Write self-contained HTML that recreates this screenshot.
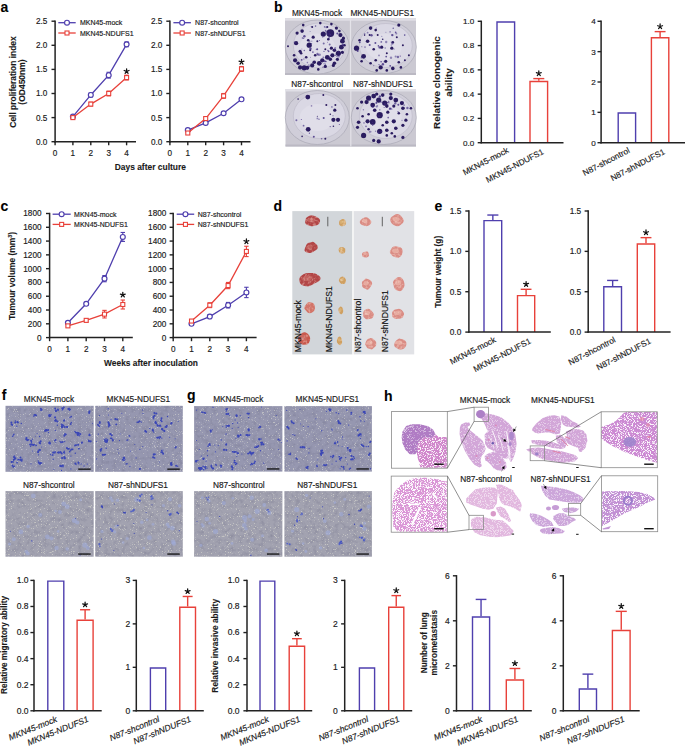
<!DOCTYPE html>
<html><head><meta charset="utf-8"><style>
html,body{margin:0;padding:0;background:#fff;width:685px;height:751px;overflow:hidden;}
svg{display:block;font-family:"Liberation Sans", sans-serif;}
text{stroke:#1a1a1a;stroke-width:0.16px;}
text[font-weight="bold"]{stroke-width:0.1px;}
</style></head><body>
<svg width="685" height="751" viewBox="0 0 685 751" font-family='"Liberation Sans", sans-serif'>
<rect width="685" height="751" fill="white"/>
<text x="0.6" y="11.8" font-size="14" text-anchor="start" font-weight="bold" fill="#000">a</text>
<line x1="55.1" y1="20.5" x2="55.1" y2="142.4" stroke="#222" stroke-width="1.5"/>
<line x1="51.5" y1="141.7" x2="55.1" y2="141.7" stroke="#222" stroke-width="1.4"/>
<text x="47.3" y="144.6" font-size="8.2" text-anchor="end" fill="#1a1a1a">0.0</text>
<line x1="51.5" y1="117.6" x2="55.1" y2="117.6" stroke="#222" stroke-width="1.4"/>
<text x="47.3" y="120.5" font-size="8.2" text-anchor="end" fill="#1a1a1a">0.5</text>
<line x1="51.5" y1="93.5" x2="55.1" y2="93.5" stroke="#222" stroke-width="1.4"/>
<text x="47.3" y="96.4" font-size="8.2" text-anchor="end" fill="#1a1a1a">1.0</text>
<line x1="51.5" y1="69.4" x2="55.1" y2="69.4" stroke="#222" stroke-width="1.4"/>
<text x="47.3" y="72.3" font-size="8.2" text-anchor="end" fill="#1a1a1a">1.5</text>
<line x1="51.5" y1="45.3" x2="55.1" y2="45.3" stroke="#222" stroke-width="1.4"/>
<text x="47.3" y="48.2" font-size="8.2" text-anchor="end" fill="#1a1a1a">2.0</text>
<line x1="51.5" y1="21.2" x2="55.1" y2="21.2" stroke="#222" stroke-width="1.4"/>
<text x="47.3" y="24.1" font-size="8.2" text-anchor="end" fill="#1a1a1a">2.5</text>
<line x1="54.4" y1="141.7" x2="136" y2="141.7" stroke="#222" stroke-width="1.5"/>
<line x1="55.1" y1="141.7" x2="55.1" y2="145.3" stroke="#222" stroke-width="1.4"/>
<text x="55.1" y="156.2" font-size="8.2" text-anchor="middle" fill="#1a1a1a">0</text>
<line x1="72.9" y1="141.7" x2="72.9" y2="145.3" stroke="#222" stroke-width="1.4"/>
<text x="72.9" y="156.2" font-size="8.2" text-anchor="middle" fill="#1a1a1a">1</text>
<line x1="90.8" y1="141.7" x2="90.8" y2="145.3" stroke="#222" stroke-width="1.4"/>
<text x="90.8" y="156.2" font-size="8.2" text-anchor="middle" fill="#1a1a1a">2</text>
<line x1="108.7" y1="141.7" x2="108.7" y2="145.3" stroke="#222" stroke-width="1.4"/>
<text x="108.7" y="156.2" font-size="8.2" text-anchor="middle" fill="#1a1a1a">3</text>
<line x1="126.6" y1="141.7" x2="126.6" y2="145.3" stroke="#222" stroke-width="1.4"/>
<text x="126.6" y="156.2" font-size="8.2" text-anchor="middle" fill="#1a1a1a">4</text>
<polyline points="72.9,116.64 90.8,94.95 108.7,75.18 126.6,44.34" fill="none" stroke="#4f3fae" stroke-width="1.3"/>
<line x1="72.9" y1="117.6" x2="72.9" y2="115.67" stroke="#4f3fae" stroke-width="1.1"/>
<line x1="70.7" y1="115.67" x2="75.1" y2="115.67" stroke="#4f3fae" stroke-width="1.1"/>
<line x1="70.7" y1="117.6" x2="75.1" y2="117.6" stroke="#4f3fae" stroke-width="1.1"/>
<line x1="90.8" y1="96.87" x2="90.8" y2="93.02" stroke="#4f3fae" stroke-width="1.1"/>
<line x1="88.6" y1="93.02" x2="93" y2="93.02" stroke="#4f3fae" stroke-width="1.1"/>
<line x1="88.6" y1="96.87" x2="93" y2="96.87" stroke="#4f3fae" stroke-width="1.1"/>
<line x1="108.7" y1="78.08" x2="108.7" y2="72.29" stroke="#4f3fae" stroke-width="1.1"/>
<line x1="106.5" y1="72.29" x2="110.9" y2="72.29" stroke="#4f3fae" stroke-width="1.1"/>
<line x1="106.5" y1="78.08" x2="110.9" y2="78.08" stroke="#4f3fae" stroke-width="1.1"/>
<line x1="126.6" y1="46.75" x2="126.6" y2="41.93" stroke="#4f3fae" stroke-width="1.1"/>
<line x1="124.4" y1="41.93" x2="128.8" y2="41.93" stroke="#4f3fae" stroke-width="1.1"/>
<line x1="124.4" y1="46.75" x2="128.8" y2="46.75" stroke="#4f3fae" stroke-width="1.1"/>
<circle cx="72.9" cy="116.64" r="2.45" fill="white" stroke="#4f3fae" stroke-width="1.2"/>
<circle cx="90.8" cy="94.95" r="2.45" fill="white" stroke="#4f3fae" stroke-width="1.2"/>
<circle cx="108.7" cy="75.18" r="2.45" fill="white" stroke="#4f3fae" stroke-width="1.2"/>
<circle cx="126.6" cy="44.34" r="2.45" fill="white" stroke="#4f3fae" stroke-width="1.2"/>
<polyline points="72.9,117.6 90.8,104.1 108.7,93.5 126.6,77.59" fill="none" stroke="#e8413a" stroke-width="1.3"/>
<line x1="72.9" y1="118.56" x2="72.9" y2="116.64" stroke="#e8413a" stroke-width="1.1"/>
<line x1="70.7" y1="116.64" x2="75.1" y2="116.64" stroke="#e8413a" stroke-width="1.1"/>
<line x1="70.7" y1="118.56" x2="75.1" y2="118.56" stroke="#e8413a" stroke-width="1.1"/>
<line x1="90.8" y1="106.03" x2="90.8" y2="102.18" stroke="#e8413a" stroke-width="1.1"/>
<line x1="88.6" y1="102.18" x2="93" y2="102.18" stroke="#e8413a" stroke-width="1.1"/>
<line x1="88.6" y1="106.03" x2="93" y2="106.03" stroke="#e8413a" stroke-width="1.1"/>
<line x1="108.7" y1="95.91" x2="108.7" y2="91.09" stroke="#e8413a" stroke-width="1.1"/>
<line x1="106.5" y1="91.09" x2="110.9" y2="91.09" stroke="#e8413a" stroke-width="1.1"/>
<line x1="106.5" y1="95.91" x2="110.9" y2="95.91" stroke="#e8413a" stroke-width="1.1"/>
<line x1="126.6" y1="80" x2="126.6" y2="75.18" stroke="#e8413a" stroke-width="1.1"/>
<line x1="124.4" y1="75.18" x2="128.8" y2="75.18" stroke="#e8413a" stroke-width="1.1"/>
<line x1="124.4" y1="80" x2="128.8" y2="80" stroke="#e8413a" stroke-width="1.1"/>
<rect x="70.9" y="115.6" width="4" height="4" fill="white" stroke="#e8413a" stroke-width="1.1"/>
<rect x="88.8" y="102.1" width="4" height="4" fill="white" stroke="#e8413a" stroke-width="1.1"/>
<rect x="106.7" y="91.5" width="4" height="4" fill="white" stroke="#e8413a" stroke-width="1.1"/>
<rect x="124.6" y="75.59" width="4" height="4" fill="white" stroke="#e8413a" stroke-width="1.1"/>
<line x1="58.3" y1="22.7" x2="75.7" y2="22.7" stroke="#4f3fae" stroke-width="1.3"/>
<circle cx="67" cy="22.7" r="2.45" fill="white" stroke="#4f3fae" stroke-width="1.2"/>
<text x="79.9" y="25.3" font-size="7" text-anchor="start" fill="#1a1a1a">MKN45-mock</text>
<line x1="58.3" y1="33" x2="75.7" y2="33" stroke="#e8413a" stroke-width="1.3"/>
<rect x="65" y="31" width="4" height="4" fill="white" stroke="#e8413a" stroke-width="1.1"/>
<text x="79.9" y="35.6" font-size="7" text-anchor="start" fill="#1a1a1a">MKN45-NDUFS1</text>
<path d="M126.6 71.3L126.6 68.75M126.6 71.3L129.03 70.51M126.6 71.3L128.1 73.36M126.6 71.3L125.1 73.36M126.6 71.3L124.17 70.51" stroke="#111" stroke-width="1.25" stroke-linecap="round" fill="none"/>
<line x1="169.9" y1="20.5" x2="169.9" y2="142.4" stroke="#222" stroke-width="1.5"/>
<line x1="166.3" y1="141.7" x2="169.9" y2="141.7" stroke="#222" stroke-width="1.4"/>
<text x="162.3" y="144.6" font-size="8.2" text-anchor="end" fill="#1a1a1a">0.0</text>
<line x1="166.3" y1="117.6" x2="169.9" y2="117.6" stroke="#222" stroke-width="1.4"/>
<text x="162.3" y="120.5" font-size="8.2" text-anchor="end" fill="#1a1a1a">0.5</text>
<line x1="166.3" y1="93.5" x2="169.9" y2="93.5" stroke="#222" stroke-width="1.4"/>
<text x="162.3" y="96.4" font-size="8.2" text-anchor="end" fill="#1a1a1a">1.0</text>
<line x1="166.3" y1="69.4" x2="169.9" y2="69.4" stroke="#222" stroke-width="1.4"/>
<text x="162.3" y="72.3" font-size="8.2" text-anchor="end" fill="#1a1a1a">1.5</text>
<line x1="166.3" y1="45.3" x2="169.9" y2="45.3" stroke="#222" stroke-width="1.4"/>
<text x="162.3" y="48.2" font-size="8.2" text-anchor="end" fill="#1a1a1a">2.0</text>
<line x1="166.3" y1="21.2" x2="169.9" y2="21.2" stroke="#222" stroke-width="1.4"/>
<text x="162.3" y="24.1" font-size="8.2" text-anchor="end" fill="#1a1a1a">2.5</text>
<line x1="169.2" y1="141.7" x2="250.5" y2="141.7" stroke="#222" stroke-width="1.5"/>
<line x1="169.9" y1="141.7" x2="169.9" y2="145.3" stroke="#222" stroke-width="1.4"/>
<text x="169.9" y="156.2" font-size="8.2" text-anchor="middle" fill="#1a1a1a">0</text>
<line x1="187.8" y1="141.7" x2="187.8" y2="145.3" stroke="#222" stroke-width="1.4"/>
<text x="187.8" y="156.2" font-size="8.2" text-anchor="middle" fill="#1a1a1a">1</text>
<line x1="205.7" y1="141.7" x2="205.7" y2="145.3" stroke="#222" stroke-width="1.4"/>
<text x="205.7" y="156.2" font-size="8.2" text-anchor="middle" fill="#1a1a1a">2</text>
<line x1="223.6" y1="141.7" x2="223.6" y2="145.3" stroke="#222" stroke-width="1.4"/>
<text x="223.6" y="156.2" font-size="8.2" text-anchor="middle" fill="#1a1a1a">3</text>
<line x1="241.5" y1="141.7" x2="241.5" y2="145.3" stroke="#222" stroke-width="1.4"/>
<text x="241.5" y="156.2" font-size="8.2" text-anchor="middle" fill="#1a1a1a">4</text>
<polyline points="187.8,130.13 205.7,122.9 223.6,113.26 241.5,99.28" fill="none" stroke="#4f3fae" stroke-width="1.3"/>
<line x1="187.8" y1="131.1" x2="187.8" y2="129.17" stroke="#4f3fae" stroke-width="1.1"/>
<line x1="185.6" y1="129.17" x2="190" y2="129.17" stroke="#4f3fae" stroke-width="1.1"/>
<line x1="185.6" y1="131.1" x2="190" y2="131.1" stroke="#4f3fae" stroke-width="1.1"/>
<line x1="205.7" y1="123.87" x2="205.7" y2="121.94" stroke="#4f3fae" stroke-width="1.1"/>
<line x1="203.5" y1="121.94" x2="207.9" y2="121.94" stroke="#4f3fae" stroke-width="1.1"/>
<line x1="203.5" y1="123.87" x2="207.9" y2="123.87" stroke="#4f3fae" stroke-width="1.1"/>
<line x1="223.6" y1="114.23" x2="223.6" y2="112.3" stroke="#4f3fae" stroke-width="1.1"/>
<line x1="221.4" y1="112.3" x2="225.8" y2="112.3" stroke="#4f3fae" stroke-width="1.1"/>
<line x1="221.4" y1="114.23" x2="225.8" y2="114.23" stroke="#4f3fae" stroke-width="1.1"/>
<line x1="241.5" y1="100.25" x2="241.5" y2="98.32" stroke="#4f3fae" stroke-width="1.1"/>
<line x1="239.3" y1="98.32" x2="243.7" y2="98.32" stroke="#4f3fae" stroke-width="1.1"/>
<line x1="239.3" y1="100.25" x2="243.7" y2="100.25" stroke="#4f3fae" stroke-width="1.1"/>
<circle cx="187.8" cy="130.13" r="2.45" fill="white" stroke="#4f3fae" stroke-width="1.2"/>
<circle cx="205.7" cy="122.9" r="2.45" fill="white" stroke="#4f3fae" stroke-width="1.2"/>
<circle cx="223.6" cy="113.26" r="2.45" fill="white" stroke="#4f3fae" stroke-width="1.2"/>
<circle cx="241.5" cy="99.28" r="2.45" fill="white" stroke="#4f3fae" stroke-width="1.2"/>
<polyline points="187.8,133.02 205.7,118.56 223.6,95.91 241.5,68.92" fill="none" stroke="#e8413a" stroke-width="1.3"/>
<line x1="187.8" y1="133.99" x2="187.8" y2="132.06" stroke="#e8413a" stroke-width="1.1"/>
<line x1="185.6" y1="132.06" x2="190" y2="132.06" stroke="#e8413a" stroke-width="1.1"/>
<line x1="185.6" y1="133.99" x2="190" y2="133.99" stroke="#e8413a" stroke-width="1.1"/>
<line x1="205.7" y1="120.01" x2="205.7" y2="117.12" stroke="#e8413a" stroke-width="1.1"/>
<line x1="203.5" y1="117.12" x2="207.9" y2="117.12" stroke="#e8413a" stroke-width="1.1"/>
<line x1="203.5" y1="120.01" x2="207.9" y2="120.01" stroke="#e8413a" stroke-width="1.1"/>
<line x1="223.6" y1="98.32" x2="223.6" y2="93.5" stroke="#e8413a" stroke-width="1.1"/>
<line x1="221.4" y1="93.5" x2="225.8" y2="93.5" stroke="#e8413a" stroke-width="1.1"/>
<line x1="221.4" y1="98.32" x2="225.8" y2="98.32" stroke="#e8413a" stroke-width="1.1"/>
<line x1="241.5" y1="71.33" x2="241.5" y2="66.51" stroke="#e8413a" stroke-width="1.1"/>
<line x1="239.3" y1="66.51" x2="243.7" y2="66.51" stroke="#e8413a" stroke-width="1.1"/>
<line x1="239.3" y1="71.33" x2="243.7" y2="71.33" stroke="#e8413a" stroke-width="1.1"/>
<rect x="185.8" y="131.02" width="4" height="4" fill="white" stroke="#e8413a" stroke-width="1.1"/>
<rect x="203.7" y="116.56" width="4" height="4" fill="white" stroke="#e8413a" stroke-width="1.1"/>
<rect x="221.6" y="93.91" width="4" height="4" fill="white" stroke="#e8413a" stroke-width="1.1"/>
<rect x="239.5" y="66.92" width="4" height="4" fill="white" stroke="#e8413a" stroke-width="1.1"/>
<line x1="173.4" y1="22.7" x2="190.9" y2="22.7" stroke="#4f3fae" stroke-width="1.3"/>
<circle cx="182.15" cy="22.7" r="2.45" fill="white" stroke="#4f3fae" stroke-width="1.2"/>
<text x="195.1" y="25.3" font-size="7" text-anchor="start" fill="#1a1a1a">N87-shcontrol</text>
<line x1="173.4" y1="33" x2="190.9" y2="33" stroke="#e8413a" stroke-width="1.3"/>
<rect x="180.15" y="31" width="4" height="4" fill="white" stroke="#e8413a" stroke-width="1.1"/>
<text x="195.1" y="35.6" font-size="7" text-anchor="start" fill="#1a1a1a">N87-shNDUFS1</text>
<path d="M241.5 62L241.5 59.45M241.5 62L243.93 61.21M241.5 62L243 64.06M241.5 62L240 64.06M241.5 62L239.07 61.21" stroke="#111" stroke-width="1.25" stroke-linecap="round" fill="none"/>
<text x="15.9" y="82" font-size="8.45" text-anchor="middle" font-weight="bold" fill="#1a1a1a" transform="rotate(-90 15.9 82)">Cell proliferation index</text>
<text x="25.4" y="82" font-size="8.5" text-anchor="middle" font-weight="bold" fill="#1a1a1a" transform="rotate(-90 25.4 82)">(OD450nm)</text>
<text x="150.3" y="169.5" font-size="8.45" text-anchor="middle" font-weight="bold" fill="#1a1a1a">Days after culture</text>
<text x="273.9" y="11.8" font-size="14" text-anchor="start" font-weight="bold" fill="#000">b</text>
<defs><filter id="soft" x="-5%" y="-5%" width="110%" height="110%"><feGaussianBlur stdDeviation="0.45"/></filter></defs><rect x="285" y="18.2" width="131" height="56.8" fill="#cbc9d2"/><rect x="285" y="18.2" width="131" height="2.5" fill="#e0dfe6"/><rect x="285" y="73" width="131" height="2" fill="#bbb9c3"/><line x1="350.5" y1="18.2" x2="350.5" y2="75" stroke="#e4e3e9" stroke-width="1.2"/><ellipse cx="317.3" cy="47" rx="32" ry="27" fill="#d0ced9" stroke="#a9a7b4" stroke-width="0.7"/><ellipse cx="319.3" cy="45.5" rx="26" ry="22.5" fill="#dad8e4" stroke="#bcb9c7" stroke-width="0.6"/><ellipse cx="317.3" cy="47" rx="17.6" ry="13.5" fill="#e0dee9"/><g filter="url(#soft)"><circle cx="330.3" cy="33.1" r="3.9" fill="#2c1d60"/><circle cx="323.3" cy="34.1" r="2.6" fill="#2c1d60"/><circle cx="309.2" cy="45.2" r="2.6" fill="#2c1d60"/><circle cx="296.1" cy="43.2" r="2.1" fill="#2c1d60"/><circle cx="302.1" cy="31.1" r="1.8" fill="#2c1d60"/><circle cx="297.1" cy="33.1" r="1.6" fill="#2c1d60"/><circle cx="303.2" cy="25.1" r="1.3" fill="#2c1d60"/><circle cx="320.3" cy="23.1" r="1.3" fill="#2c1d60"/><circle cx="336.4" cy="28.1" r="1.6" fill="#2c1d60"/><circle cx="340.4" cy="35.1" r="2.1" fill="#2c1d60"/><circle cx="342.4" cy="41.2" r="2.4" fill="#2c1d60"/><circle cx="341.4" cy="47.2" r="2.4" fill="#2c1d60"/><circle cx="338.4" cy="53.3" r="2.6" fill="#2c1d60"/><circle cx="332.4" cy="55.3" r="2.1" fill="#2c1d60"/><circle cx="327.3" cy="57.3" r="2.4" fill="#2c1d60"/><circle cx="322.3" cy="60.3" r="2.1" fill="#2c1d60"/><circle cx="319.3" cy="63.3" r="2.4" fill="#2c1d60"/><circle cx="314.2" cy="62.3" r="1.8" fill="#2c1d60"/><circle cx="312.2" cy="65.4" r="2.1" fill="#2c1d60"/><circle cx="304.2" cy="67.8" r="2.6" fill="#2c1d60"/><circle cx="300.1" cy="67.4" r="2.1" fill="#2c1d60"/><circle cx="307.2" cy="67.8" r="2.1" fill="#2c1d60"/><circle cx="295.1" cy="60.3" r="2.1" fill="#2c1d60"/><circle cx="298.1" cy="63.3" r="1.8" fill="#2c1d60"/><circle cx="300.1" cy="51.3" r="1.6" fill="#2c1d60"/><circle cx="301.1" cy="53.3" r="1.3" fill="#2c1d60"/><circle cx="308.2" cy="40.2" r="1.3" fill="#2c1d60"/><circle cx="313.2" cy="37.2" r="1.6" fill="#2c1d60"/><circle cx="317.3" cy="41.2" r="1" fill="#2c1d60"/><circle cx="330.3" cy="59.3" r="1.8" fill="#2c1d60"/><circle cx="334.4" cy="63.3" r="1.8" fill="#2c1d60"/><circle cx="337.4" cy="59.3" r="1.6" fill="#2c1d60"/><circle cx="333.4" cy="65.4" r="1.6" fill="#2c1d60"/><circle cx="325.3" cy="49.2" r="1" fill="#2c1d60"/><circle cx="288" cy="46.2" r="1" fill="#2c1d60"/><circle cx="344.4" cy="45.2" r="1.3" fill="#2c1d60"/><circle cx="343.4" cy="38.2" r="1.6" fill="#2c1d60"/><circle cx="339.4" cy="31.1" r="1.3" fill="#2c1d60"/><circle cx="328.3" cy="39.2" r="1.3" fill="#2c1d60"/><circle cx="315.2" cy="55.3" r="1.3" fill="#2c1d60"/><circle cx="306.2" cy="57.3" r="1.3" fill="#2c1d60"/><circle cx="310.2" cy="50.3" r="1" fill="#2c1d60"/><circle cx="331.4" cy="48.2" r="1.6" fill="#2c1d60"/><circle cx="334.4" cy="50.3" r="1.8" fill="#2c1d60"/><circle cx="342.4" cy="52.3" r="1.6" fill="#2c1d60"/><circle cx="325.3" cy="66.4" r="1.6" fill="#2c1d60"/><circle cx="318.3" cy="69.4" r="1.3" fill="#2c1d60"/><circle cx="294.1" cy="55.3" r="1.3" fill="#2c1d60"/><circle cx="312.2" cy="27.1" r="1" fill="#2c1d60"/><circle cx="331.4" cy="24.1" r="1.3" fill="#2c1d60"/><circle cx="327.3" cy="27.1" r="1" fill="#2c1d60"/><circle cx="324.8" cy="61.2" r="1" fill="#3e2c80" fill-opacity="0.8"/><circle cx="319.4" cy="40.6" r="0.5" fill="#3e2c80" fill-opacity="0.8"/><circle cx="325.3" cy="30.3" r="0.5" fill="#3e2c80" fill-opacity="0.8"/><circle cx="342.8" cy="44.6" r="1" fill="#3e2c80" fill-opacity="0.8"/><circle cx="309.6" cy="41.3" r="0.9" fill="#3e2c80" fill-opacity="0.5"/><circle cx="327.9" cy="50.4" r="0.6" fill="#3e2c80" fill-opacity="0.8"/><circle cx="334.8" cy="49.8" r="0.8" fill="#3e2c80" fill-opacity="0.8"/><circle cx="327.6" cy="34" r="1" fill="#3e2c80" fill-opacity="0.65"/><circle cx="329.1" cy="31.7" r="0.7" fill="#3e2c80" fill-opacity="0.5"/><circle cx="324" cy="51.4" r="0.7" fill="#3e2c80" fill-opacity="0.65"/><circle cx="323" cy="67.3" r="0.5" fill="#3e2c80" fill-opacity="0.65"/><circle cx="301.7" cy="59.8" r="0.9" fill="#3e2c80" fill-opacity="0.8"/><circle cx="324.1" cy="63.8" r="0.7" fill="#3e2c80" fill-opacity="0.5"/><circle cx="316.1" cy="49.5" r="0.5" fill="#3e2c80" fill-opacity="0.5"/><circle cx="317.5" cy="53.9" r="1.2" fill="#3e2c80" fill-opacity="0.65"/><circle cx="325.9" cy="61.5" r="0.8" fill="#3e2c80" fill-opacity="0.8"/><circle cx="325.4" cy="64.2" r="0.6" fill="#3e2c80" fill-opacity="0.65"/><circle cx="311.8" cy="41.2" r="0.6" fill="#3e2c80" fill-opacity="0.5"/><circle cx="309.1" cy="66.2" r="0.8" fill="#3e2c80" fill-opacity="0.8"/><circle cx="310.5" cy="57.3" r="0.5" fill="#3e2c80" fill-opacity="0.5"/><circle cx="322.7" cy="37.2" r="0.6" fill="#3e2c80" fill-opacity="0.5"/><circle cx="315.6" cy="26.1" r="0.8" fill="#3e2c80" fill-opacity="0.65"/><circle cx="303.8" cy="38.5" r="0.5" fill="#3e2c80" fill-opacity="0.8"/><circle cx="329.7" cy="44.5" r="1" fill="#3e2c80" fill-opacity="0.65"/><circle cx="328.6" cy="51.3" r="0.9" fill="#3e2c80" fill-opacity="0.8"/><circle cx="329.6" cy="33.5" r="0.7" fill="#3e2c80" fill-opacity="0.5"/><circle cx="327.5" cy="42.2" r="0.5" fill="#3e2c80" fill-opacity="0.5"/><circle cx="315.2" cy="61.3" r="0.6" fill="#3e2c80" fill-opacity="0.65"/><circle cx="303.9" cy="59" r="0.7" fill="#3e2c80" fill-opacity="0.5"/><circle cx="337.3" cy="33.5" r="1" fill="#3e2c80" fill-opacity="0.8"/><circle cx="310.1" cy="31.6" r="0.5" fill="#3e2c80" fill-opacity="0.5"/><circle cx="301.9" cy="49" r="0.5" fill="#3e2c80" fill-opacity="0.5"/><circle cx="311.5" cy="43.6" r="0.7" fill="#3e2c80" fill-opacity="0.65"/><circle cx="338.6" cy="56.4" r="1.2" fill="#3e2c80" fill-opacity="0.5"/><circle cx="330.2" cy="34.6" r="0.9" fill="#3e2c80" fill-opacity="0.8"/><circle cx="335.6" cy="55.3" r="0.7" fill="#3e2c80" fill-opacity="0.65"/><circle cx="336.8" cy="56.4" r="0.5" fill="#3e2c80" fill-opacity="0.65"/><circle cx="302.7" cy="38.1" r="1" fill="#3e2c80" fill-opacity="0.5"/><circle cx="317.2" cy="49.3" r="1" fill="#3e2c80" fill-opacity="0.8"/><circle cx="307.4" cy="62.6" r="0.8" fill="#3e2c80" fill-opacity="0.5"/><circle cx="329.1" cy="37.8" r="0.9" fill="#3e2c80" fill-opacity="0.65"/><circle cx="319.7" cy="54.7" r="1.2" fill="#3e2c80" fill-opacity="0.5"/><circle cx="311.2" cy="26.6" r="0.6" fill="#3e2c80" fill-opacity="0.5"/><circle cx="304.3" cy="50.5" r="0.8" fill="#3e2c80" fill-opacity="0.65"/><circle cx="304.4" cy="36.2" r="1.2" fill="#3e2c80" fill-opacity="0.8"/><circle cx="310.5" cy="48.7" r="1.2" fill="#3e2c80" fill-opacity="0.8"/><circle cx="338.5" cy="51.7" r="0.9" fill="#3e2c80" fill-opacity="0.65"/><circle cx="308.9" cy="64.9" r="0.6" fill="#3e2c80" fill-opacity="0.65"/><circle cx="318.1" cy="55.1" r="1" fill="#3e2c80" fill-opacity="0.5"/><circle cx="326.3" cy="27.2" r="1" fill="#3e2c80" fill-opacity="0.5"/><circle cx="322.9" cy="61.1" r="0.6" fill="#3e2c80" fill-opacity="0.8"/><circle cx="335.2" cy="48" r="1" fill="#3e2c80" fill-opacity="0.5"/><circle cx="323.2" cy="57.2" r="0.7" fill="#3e2c80" fill-opacity="0.8"/><circle cx="323.7" cy="43.5" r="1" fill="#3e2c80" fill-opacity="0.65"/><circle cx="329.3" cy="57.6" r="1" fill="#3e2c80" fill-opacity="0.5"/><circle cx="324.6" cy="26.9" r="0.8" fill="#3e2c80" fill-opacity="0.65"/><circle cx="326" cy="31.3" r="1" fill="#3e2c80" fill-opacity="0.5"/><circle cx="323" cy="66.9" r="0.5" fill="#3e2c80" fill-opacity="0.65"/><circle cx="294.7" cy="42.6" r="1" fill="#3e2c80" fill-opacity="0.5"/><circle cx="312.9" cy="52.1" r="0.9" fill="#3e2c80" fill-opacity="0.65"/></g><ellipse cx="383.8" cy="47" rx="32.5" ry="26.5" fill="#d0ced9" stroke="#a9a7b4" stroke-width="0.7"/><ellipse cx="385.8" cy="45.5" rx="26.5" ry="22" fill="#dad8e4" stroke="#bcb9c7" stroke-width="0.6"/><ellipse cx="383.8" cy="47" rx="17.9" ry="13.2" fill="#e0dee9"/><g filter="url(#soft)"><circle cx="370.6" cy="28.1" r="1.8" fill="#2c1d60"/><circle cx="375.7" cy="30.1" r="1.3" fill="#2c1d60"/><circle cx="398.8" cy="25.1" r="1.6" fill="#2c1d60"/><circle cx="356.5" cy="48.2" r="2.6" fill="#2c1d60"/><circle cx="363.6" cy="56.3" r="2.4" fill="#2c1d60"/><circle cx="367.6" cy="41.2" r="1.8" fill="#2c1d60"/><circle cx="381.7" cy="47.2" r="1.6" fill="#2c1d60"/><circle cx="391.8" cy="48.2" r="1.6" fill="#2c1d60"/><circle cx="392.8" cy="42.2" r="1.3" fill="#2c1d60"/><circle cx="359.6" cy="40.2" r="1.3" fill="#2c1d60"/><circle cx="380.7" cy="67.4" r="2.1" fill="#2c1d60"/><circle cx="392.8" cy="68.4" r="1.8" fill="#2c1d60"/><circle cx="385.7" cy="61.3" r="1.6" fill="#2c1d60"/><circle cx="375.7" cy="60.3" r="1.3" fill="#2c1d60"/><circle cx="398.8" cy="62.3" r="1.3" fill="#2c1d60"/><circle cx="404.9" cy="60.3" r="1" fill="#2c1d60"/><circle cx="370.6" cy="63.3" r="1.3" fill="#2c1d60"/><circle cx="386.8" cy="53.3" r="1" fill="#2c1d60"/><circle cx="377.7" cy="35.1" r="1" fill="#2c1d60"/><circle cx="369.6" cy="35.1" r="1" fill="#2c1d60"/><circle cx="364.6" cy="35.1" r="0.8" fill="#2c1d60"/><circle cx="373.7" cy="49.2" r="1.3" fill="#2c1d60"/><circle cx="402.9" cy="45.2" r="1" fill="#2c1d60"/><circle cx="361.6" cy="61.3" r="1.3" fill="#2c1d60"/><circle cx="386.8" cy="70.4" r="1.3" fill="#2c1d60"/><circle cx="376.7" cy="70.4" r="1.3" fill="#2c1d60"/><circle cx="400.9" cy="67.4" r="1.3" fill="#2c1d60"/><circle cx="396.8" cy="37.2" r="1" fill="#2c1d60"/><circle cx="382.7" cy="39.2" r="0.8" fill="#2c1d60"/><circle cx="408.9" cy="55.3" r="1" fill="#2c1d60"/><circle cx="385.9" cy="32.3" r="0.5" fill="#3e2c80" fill-opacity="0.5"/><circle cx="386.2" cy="42" r="1.2" fill="#3e2c80" fill-opacity="0.5"/><circle cx="391" cy="57.8" r="1.2" fill="#3e2c80" fill-opacity="0.5"/><circle cx="357.7" cy="50.9" r="1" fill="#3e2c80" fill-opacity="0.8"/><circle cx="395.6" cy="32.2" r="0.8" fill="#3e2c80" fill-opacity="0.8"/><circle cx="391.2" cy="45.1" r="0.6" fill="#3e2c80" fill-opacity="0.65"/><circle cx="369.7" cy="45.1" r="1" fill="#3e2c80" fill-opacity="0.8"/><circle cx="371.5" cy="35.3" r="1.2" fill="#3e2c80" fill-opacity="0.8"/><circle cx="382.9" cy="64.3" r="1.2" fill="#3e2c80" fill-opacity="0.8"/><circle cx="390.2" cy="65.8" r="0.9" fill="#3e2c80" fill-opacity="0.8"/><circle cx="381.1" cy="61.8" r="0.8" fill="#3e2c80" fill-opacity="0.8"/><circle cx="385.2" cy="48" r="0.8" fill="#3e2c80" fill-opacity="0.5"/><circle cx="378.4" cy="45.9" r="0.8" fill="#3e2c80" fill-opacity="0.8"/><circle cx="390.1" cy="31.9" r="0.8" fill="#3e2c80" fill-opacity="0.5"/><circle cx="381.3" cy="41.9" r="0.9" fill="#3e2c80" fill-opacity="0.65"/><circle cx="361.5" cy="57.7" r="0.8" fill="#3e2c80" fill-opacity="0.65"/><circle cx="384.2" cy="61.8" r="0.7" fill="#3e2c80" fill-opacity="0.65"/><circle cx="404.7" cy="35.1" r="0.8" fill="#3e2c80" fill-opacity="0.8"/><circle cx="379" cy="55.4" r="0.9" fill="#3e2c80" fill-opacity="0.5"/><circle cx="392.3" cy="43.6" r="1.2" fill="#3e2c80" fill-opacity="0.5"/><circle cx="394" cy="48.9" r="0.5" fill="#3e2c80" fill-opacity="0.8"/><circle cx="379" cy="64.6" r="0.6" fill="#3e2c80" fill-opacity="0.8"/><circle cx="365" cy="47.1" r="0.9" fill="#3e2c80" fill-opacity="0.5"/><circle cx="396.3" cy="33.6" r="1" fill="#3e2c80" fill-opacity="0.5"/><circle cx="376.3" cy="28.1" r="0.5" fill="#3e2c80" fill-opacity="0.65"/><circle cx="367.6" cy="32.7" r="0.9" fill="#3e2c80" fill-opacity="0.5"/><circle cx="359.8" cy="42.3" r="0.9" fill="#3e2c80" fill-opacity="0.8"/><circle cx="386.2" cy="56.6" r="0.9" fill="#3e2c80" fill-opacity="0.8"/><circle cx="375.4" cy="43" r="1" fill="#3e2c80" fill-opacity="0.8"/><circle cx="393.2" cy="28.3" r="0.7" fill="#3e2c80" fill-opacity="0.8"/><circle cx="373.7" cy="65.6" r="0.6" fill="#3e2c80" fill-opacity="0.5"/><circle cx="391.2" cy="42" r="0.6" fill="#3e2c80" fill-opacity="0.5"/><circle cx="381.8" cy="36.3" r="0.5" fill="#3e2c80" fill-opacity="0.65"/><circle cx="392.3" cy="35.1" r="1.2" fill="#3e2c80" fill-opacity="0.8"/><circle cx="395.6" cy="56.6" r="1" fill="#3e2c80" fill-opacity="0.5"/><circle cx="400.3" cy="56.1" r="0.7" fill="#3e2c80" fill-opacity="0.65"/><circle cx="397.9" cy="57" r="1.2" fill="#3e2c80" fill-opacity="0.65"/><circle cx="361.8" cy="46.7" r="0.6" fill="#3e2c80" fill-opacity="0.5"/><circle cx="379.7" cy="47.4" r="1.2" fill="#3e2c80" fill-opacity="0.8"/><circle cx="364.7" cy="33.8" r="0.8" fill="#3e2c80" fill-opacity="0.5"/></g><rect x="285.5" y="89" width="130.5" height="57.5" fill="#cbc9d2"/><rect x="285.5" y="89" width="130.5" height="2.5" fill="#e0dfe6"/><rect x="285.5" y="144.5" width="130.5" height="2" fill="#bbb9c3"/><line x1="350.8" y1="89" x2="350.8" y2="146.5" stroke="#e4e3e9" stroke-width="1.2"/><ellipse cx="317.3" cy="117.5" rx="32" ry="27" fill="#d0ced9" stroke="#a9a7b4" stroke-width="0.7"/><ellipse cx="319.3" cy="116" rx="26" ry="22.5" fill="#dad8e4" stroke="#bcb9c7" stroke-width="0.6"/><ellipse cx="317.3" cy="117.5" rx="17.6" ry="13.5" fill="#e0dee9"/><g filter="url(#soft)"><circle cx="307.8" cy="97.1" r="2.4" fill="#2c1d60"/><circle cx="308.2" cy="129.3" r="2.4" fill="#2c1d60"/><circle cx="333.4" cy="119.8" r="2.1" fill="#2c1d60"/><circle cx="338" cy="119.8" r="2.1" fill="#2c1d60"/><circle cx="334.8" cy="110.2" r="1.6" fill="#2c1d60"/><circle cx="326.3" cy="105.1" r="1" fill="#2c1d60"/><circle cx="335.4" cy="105.1" r="1" fill="#2c1d60"/><circle cx="323.3" cy="95.1" r="1" fill="#2c1d60"/><circle cx="298.1" cy="99.1" r="0.8" fill="#2c1d60"/><circle cx="325.3" cy="138.8" r="1" fill="#2c1d60"/><circle cx="302.1" cy="136.4" r="0.8" fill="#2c1d60"/><circle cx="330.3" cy="114.2" r="0.8" fill="#2c1d60"/><circle cx="317.3" cy="116.2" r="0.5" fill="#2c1d60"/><circle cx="333.4" cy="126.3" r="0.8" fill="#2c1d60"/><circle cx="296.4" cy="120.3" r="1" fill="#3e2c80" fill-opacity="0.65"/><circle cx="319" cy="119.3" r="0.7" fill="#3e2c80" fill-opacity="0.65"/><circle cx="313.8" cy="136.7" r="1" fill="#3e2c80" fill-opacity="0.8"/><circle cx="317.4" cy="118.4" r="0.9" fill="#3e2c80" fill-opacity="0.5"/><circle cx="333" cy="115.7" r="0.7" fill="#3e2c80" fill-opacity="0.5"/><circle cx="339.3" cy="124.6" r="0.5" fill="#3e2c80" fill-opacity="0.8"/><circle cx="311.5" cy="105.9" r="0.8" fill="#3e2c80" fill-opacity="0.5"/><circle cx="323.7" cy="118.1" r="1" fill="#3e2c80" fill-opacity="0.8"/><circle cx="321.6" cy="138.7" r="0.8" fill="#3e2c80" fill-opacity="0.65"/><circle cx="330.2" cy="126.6" r="0.6" fill="#3e2c80" fill-opacity="0.8"/><circle cx="309.4" cy="133.2" r="0.6" fill="#3e2c80" fill-opacity="0.8"/><circle cx="331.9" cy="106.9" r="0.9" fill="#3e2c80" fill-opacity="0.5"/><circle cx="303.6" cy="125.7" r="0.9" fill="#3e2c80" fill-opacity="0.65"/><circle cx="301.3" cy="119.4" r="0.5" fill="#3e2c80" fill-opacity="0.8"/></g><ellipse cx="383.8" cy="117.5" rx="32.5" ry="27" fill="#d0ced9" stroke="#a9a7b4" stroke-width="0.7"/><ellipse cx="385.8" cy="116" rx="26.5" ry="22.5" fill="#dad8e4" stroke="#bcb9c7" stroke-width="0.6"/><ellipse cx="383.8" cy="117.5" rx="17.9" ry="13.5" fill="#e0dee9"/><g filter="url(#soft)"><circle cx="368.6" cy="98.1" r="2.6" fill="#2c1d60"/><circle cx="373.7" cy="96.1" r="2.4" fill="#2c1d60"/><circle cx="378.7" cy="100.1" r="2.6" fill="#2c1d60"/><circle cx="384.7" cy="103.1" r="2.6" fill="#2c1d60"/><circle cx="390.8" cy="98.1" r="2.1" fill="#2c1d60"/><circle cx="395.8" cy="100.1" r="2.4" fill="#2c1d60"/><circle cx="401.9" cy="103.1" r="2.1" fill="#2c1d60"/><circle cx="372.7" cy="105.1" r="2.4" fill="#2c1d60"/><circle cx="366.6" cy="102.1" r="2.1" fill="#2c1d60"/><circle cx="386.8" cy="106.1" r="1.8" fill="#2c1d60"/><circle cx="393.8" cy="106.1" r="1.6" fill="#2c1d60"/><circle cx="402.9" cy="108.2" r="1.8" fill="#2c1d60"/><circle cx="374.7" cy="110.2" r="1.8" fill="#2c1d60"/><circle cx="379.7" cy="115.2" r="3.1" fill="#2c1d60"/><circle cx="372.7" cy="121.9" r="2.9" fill="#2c1d60"/><circle cx="367.6" cy="121.3" r="2.1" fill="#2c1d60"/><circle cx="358.6" cy="122.3" r="1.8" fill="#2c1d60"/><circle cx="386.8" cy="122.3" r="1.8" fill="#2c1d60"/><circle cx="393.8" cy="121.3" r="2.1" fill="#2c1d60"/><circle cx="405.9" cy="120.2" r="1.6" fill="#2c1d60"/><circle cx="402.9" cy="125.3" r="1.6" fill="#2c1d60"/><circle cx="395.8" cy="128.3" r="1.8" fill="#2c1d60"/><circle cx="386.8" cy="130.3" r="1.8" fill="#2c1d60"/><circle cx="379.7" cy="131.3" r="2.6" fill="#2c1d60"/><circle cx="363.6" cy="135.4" r="2.6" fill="#2c1d60"/><circle cx="357.5" cy="127.3" r="1.6" fill="#2c1d60"/><circle cx="373.7" cy="140.4" r="1.6" fill="#2c1d60"/><circle cx="378.7" cy="141.4" r="2.1" fill="#2c1d60"/><circle cx="402.9" cy="137.4" r="1.6" fill="#2c1d60"/><circle cx="394.8" cy="136.4" r="1.3" fill="#2c1d60"/><circle cx="386.8" cy="135.4" r="1.3" fill="#2c1d60"/><circle cx="410.9" cy="108.2" r="1.3" fill="#2c1d60"/><circle cx="361.6" cy="102.1" r="1.6" fill="#2c1d60"/><circle cx="357.5" cy="108.2" r="1.3" fill="#2c1d60"/><circle cx="382.7" cy="95.1" r="1.8" fill="#2c1d60"/><circle cx="376.7" cy="94.1" r="1.6" fill="#2c1d60"/><circle cx="387.8" cy="112.2" r="1.6" fill="#2c1d60"/><circle cx="398.8" cy="113.2" r="1.3" fill="#2c1d60"/><circle cx="368.6" cy="114.2" r="1.3" fill="#2c1d60"/><circle cx="362.6" cy="116.2" r="1.3" fill="#2c1d60"/><circle cx="382.7" cy="125.3" r="1.3" fill="#2c1d60"/><circle cx="391.8" cy="133.3" r="1.3" fill="#2c1d60"/><circle cx="368.6" cy="129.3" r="1.3" fill="#2c1d60"/><circle cx="406.9" cy="114.2" r="1.3" fill="#2c1d60"/><circle cx="390.8" cy="94.1" r="1.6" fill="#2c1d60"/><circle cx="379.9" cy="96.5" r="1.2" fill="#3e2c80" fill-opacity="0.8"/><circle cx="372.7" cy="125.4" r="0.7" fill="#3e2c80" fill-opacity="0.65"/><circle cx="384.1" cy="107.4" r="0.5" fill="#3e2c80" fill-opacity="0.8"/><circle cx="381.2" cy="131.6" r="0.9" fill="#3e2c80" fill-opacity="0.8"/><circle cx="380.9" cy="102.2" r="0.7" fill="#3e2c80" fill-opacity="0.5"/><circle cx="391.8" cy="109.2" r="0.6" fill="#3e2c80" fill-opacity="0.65"/><circle cx="398" cy="111.5" r="0.6" fill="#3e2c80" fill-opacity="0.8"/><circle cx="404.3" cy="107.7" r="0.6" fill="#3e2c80" fill-opacity="0.5"/><circle cx="389" cy="102.8" r="0.6" fill="#3e2c80" fill-opacity="0.8"/><circle cx="376.9" cy="107.5" r="0.5" fill="#3e2c80" fill-opacity="0.5"/><circle cx="387.8" cy="102.5" r="0.8" fill="#3e2c80" fill-opacity="0.8"/><circle cx="370.5" cy="131.7" r="1" fill="#3e2c80" fill-opacity="0.5"/><circle cx="364" cy="122.9" r="0.7" fill="#3e2c80" fill-opacity="0.8"/><circle cx="372.5" cy="106.4" r="1.2" fill="#3e2c80" fill-opacity="0.5"/><circle cx="381.9" cy="102" r="0.5" fill="#3e2c80" fill-opacity="0.8"/><circle cx="388.2" cy="117.6" r="0.9" fill="#3e2c80" fill-opacity="0.65"/><circle cx="372.4" cy="122.6" r="0.5" fill="#3e2c80" fill-opacity="0.8"/><circle cx="363.4" cy="109.7" r="0.7" fill="#3e2c80" fill-opacity="0.5"/><circle cx="388.7" cy="101.5" r="0.7" fill="#3e2c80" fill-opacity="0.65"/><circle cx="373.1" cy="107.3" r="0.6" fill="#3e2c80" fill-opacity="0.5"/><circle cx="379.9" cy="109.6" r="0.5" fill="#3e2c80" fill-opacity="0.5"/><circle cx="404.1" cy="105.1" r="0.9" fill="#3e2c80" fill-opacity="0.5"/><circle cx="387.8" cy="104.6" r="0.5" fill="#3e2c80" fill-opacity="0.8"/><circle cx="376.5" cy="102.8" r="0.9" fill="#3e2c80" fill-opacity="0.8"/><circle cx="373.4" cy="124.1" r="0.7" fill="#3e2c80" fill-opacity="0.5"/><circle cx="379.8" cy="110" r="0.5" fill="#3e2c80" fill-opacity="0.8"/><circle cx="370" cy="99.9" r="0.7" fill="#3e2c80" fill-opacity="0.5"/><circle cx="402" cy="120.3" r="0.6" fill="#3e2c80" fill-opacity="0.5"/><circle cx="376.1" cy="106.5" r="0.6" fill="#3e2c80" fill-opacity="0.65"/><circle cx="378.4" cy="132.4" r="1" fill="#3e2c80" fill-opacity="0.65"/><circle cx="391.1" cy="108.5" r="0.8" fill="#3e2c80" fill-opacity="0.5"/><circle cx="390" cy="108.5" r="0.9" fill="#3e2c80" fill-opacity="0.8"/><circle cx="385" cy="104" r="1" fill="#3e2c80" fill-opacity="0.65"/><circle cx="370.2" cy="99.3" r="0.9" fill="#3e2c80" fill-opacity="0.8"/><circle cx="377.2" cy="105.9" r="1" fill="#3e2c80" fill-opacity="0.5"/><circle cx="375.6" cy="131.2" r="0.7" fill="#3e2c80" fill-opacity="0.5"/><circle cx="395.2" cy="103.4" r="1.2" fill="#3e2c80" fill-opacity="0.65"/><circle cx="366" cy="126.4" r="0.8" fill="#3e2c80" fill-opacity="0.65"/><circle cx="398.3" cy="104.7" r="1" fill="#3e2c80" fill-opacity="0.8"/><circle cx="369.4" cy="131.9" r="0.6" fill="#3e2c80" fill-opacity="0.65"/><circle cx="389.9" cy="108.9" r="1.2" fill="#3e2c80" fill-opacity="0.5"/><circle cx="378.7" cy="116" r="1.2" fill="#3e2c80" fill-opacity="0.5"/><circle cx="407.4" cy="108" r="1.2" fill="#3e2c80" fill-opacity="0.65"/><circle cx="380.1" cy="116.6" r="0.5" fill="#3e2c80" fill-opacity="0.65"/><circle cx="376.1" cy="103" r="0.8" fill="#3e2c80" fill-opacity="0.5"/></g>
<text x="317.05" y="15.8" font-size="8.3" text-anchor="middle" fill="#1a1a1a">MKN45-mock</text>
<text x="382.2" y="15.8" font-size="8.3" text-anchor="middle" fill="#1a1a1a">MKN45-NDUFS1</text>
<text x="317.2" y="86.8" font-size="8.3" text-anchor="middle" fill="#1a1a1a">N87-shcontrol</text>
<text x="382.9" y="86.8" font-size="8.3" text-anchor="middle" fill="#1a1a1a">N87-shNDUFS1</text>
<path d="M497 142.7 V22 H514.6 V142.7" fill="white" stroke="#4f3fae" stroke-width="1.4"/>
<path d="M530 142.7 V81.49 H547.6 V142.7" fill="white" stroke="#e8413a" stroke-width="1.4"/>
<line x1="538.8" y1="80.79" x2="538.8" y2="78.6" stroke="#e8413a" stroke-width="1.4"/>
<line x1="533.29" y1="78.6" x2="544.31" y2="78.6" stroke="#e8413a" stroke-width="1.4"/>
<path d="M538.8 73.5L538.8 70.95M538.8 73.5L541.23 72.71M538.8 73.5L540.3 75.56M538.8 73.5L537.3 75.56M538.8 73.5L536.37 72.71" stroke="#111" stroke-width="1.25" stroke-linecap="round" fill="none"/>
<line x1="481.3" y1="20.6" x2="481.3" y2="143.4" stroke="#222" stroke-width="1.5"/>
<line x1="477.7" y1="142.7" x2="481.3" y2="142.7" stroke="#222" stroke-width="1.4"/>
<text x="474.3" y="145.6" font-size="8.1" text-anchor="end" fill="#1a1a1a">0.0</text>
<line x1="477.7" y1="118.42" x2="481.3" y2="118.42" stroke="#222" stroke-width="1.4"/>
<text x="474.3" y="121.32" font-size="8.1" text-anchor="end" fill="#1a1a1a">0.2</text>
<line x1="477.7" y1="94.14" x2="481.3" y2="94.14" stroke="#222" stroke-width="1.4"/>
<text x="474.3" y="97.04" font-size="8.1" text-anchor="end" fill="#1a1a1a">0.4</text>
<line x1="477.7" y1="69.86" x2="481.3" y2="69.86" stroke="#222" stroke-width="1.4"/>
<text x="474.3" y="72.76" font-size="8.1" text-anchor="end" fill="#1a1a1a">0.6</text>
<line x1="477.7" y1="45.58" x2="481.3" y2="45.58" stroke="#222" stroke-width="1.4"/>
<text x="474.3" y="48.48" font-size="8.1" text-anchor="end" fill="#1a1a1a">0.8</text>
<line x1="477.7" y1="21.3" x2="481.3" y2="21.3" stroke="#222" stroke-width="1.4"/>
<text x="474.3" y="24.2" font-size="8.1" text-anchor="end" fill="#1a1a1a">1.0</text>
<line x1="480.6" y1="142.7" x2="563.5" y2="142.7" stroke="#222" stroke-width="1.5"/>
<text x="440.3" y="82.5" font-size="9.9" text-anchor="middle" font-weight="bold" fill="#1a1a1a" transform="rotate(-90 440.3 82.5)">Relative clonogenic</text>
<text x="452.3" y="82.5" font-size="9.9" text-anchor="middle" font-weight="bold" fill="#1a1a1a" transform="rotate(-90 452.3 82.5)">ability</text>
<text x="509.3" y="152.2" font-size="8.3" text-anchor="end" fill="#1a1a1a" transform="rotate(-27.5 509.3 152.2)">MKN45-mock</text>
<text x="544.3" y="153.5" font-size="8.3" text-anchor="end" fill="#1a1a1a" transform="rotate(-27.5 544.3 153.5)">MKN45-NDUFS1</text>
<path d="M618.2 142.7 V113.05 H635.6 V142.7" fill="white" stroke="#4f3fae" stroke-width="1.4"/>
<path d="M651.4 142.7 V37.78 H668.8 V142.7" fill="white" stroke="#e8413a" stroke-width="1.4"/>
<line x1="660.1" y1="37.08" x2="660.1" y2="31.62" stroke="#e8413a" stroke-width="1.4"/>
<line x1="654.65" y1="31.62" x2="665.55" y2="31.62" stroke="#e8413a" stroke-width="1.4"/>
<path d="M660.1 26.52L660.1 23.97M660.1 26.52L662.53 25.73M660.1 26.52L661.6 28.58M660.1 26.52L658.6 28.58M660.1 26.52L657.67 25.73" stroke="#111" stroke-width="1.25" stroke-linecap="round" fill="none"/>
<line x1="601.1" y1="20.6" x2="601.1" y2="143.4" stroke="#222" stroke-width="1.5"/>
<line x1="597.5" y1="142.7" x2="601.1" y2="142.7" stroke="#222" stroke-width="1.4"/>
<text x="595.8" y="145.6" font-size="8.1" text-anchor="end" fill="#1a1a1a">0</text>
<line x1="597.5" y1="112.35" x2="601.1" y2="112.35" stroke="#222" stroke-width="1.4"/>
<text x="595.8" y="115.25" font-size="8.1" text-anchor="end" fill="#1a1a1a">1</text>
<line x1="597.5" y1="82" x2="601.1" y2="82" stroke="#222" stroke-width="1.4"/>
<text x="595.8" y="84.9" font-size="8.1" text-anchor="end" fill="#1a1a1a">2</text>
<line x1="597.5" y1="51.65" x2="601.1" y2="51.65" stroke="#222" stroke-width="1.4"/>
<text x="595.8" y="54.55" font-size="8.1" text-anchor="end" fill="#1a1a1a">3</text>
<line x1="597.5" y1="21.3" x2="601.1" y2="21.3" stroke="#222" stroke-width="1.4"/>
<text x="595.8" y="24.2" font-size="8.1" text-anchor="end" fill="#1a1a1a">4</text>
<line x1="600.4" y1="142.7" x2="685" y2="142.7" stroke="#222" stroke-width="1.5"/>
<text x="630.4" y="152.2" font-size="8.3" text-anchor="end" fill="#1a1a1a" transform="rotate(-27.5 630.4 152.2)">N87-shcontrol</text>
<text x="665.6" y="153.5" font-size="8.3" text-anchor="end" fill="#1a1a1a" transform="rotate(-27.5 665.6 153.5)">N87-shNDUFS1</text>
<text x="0.4" y="210.6" font-size="14" text-anchor="start" font-weight="bold" fill="#000">c</text>
<line x1="49.6" y1="212.8" x2="49.6" y2="338.3" stroke="#222" stroke-width="1.5"/>
<line x1="46" y1="337.6" x2="49.6" y2="337.6" stroke="#222" stroke-width="1.4"/>
<text x="41.5" y="340.5" font-size="8.2" text-anchor="end" fill="#1a1a1a">0</text>
<line x1="46" y1="323.81" x2="49.6" y2="323.81" stroke="#222" stroke-width="1.4"/>
<text x="41.5" y="326.71" font-size="8.2" text-anchor="end" fill="#1a1a1a">200</text>
<line x1="46" y1="310.02" x2="49.6" y2="310.02" stroke="#222" stroke-width="1.4"/>
<text x="41.5" y="312.92" font-size="8.2" text-anchor="end" fill="#1a1a1a">400</text>
<line x1="46" y1="296.23" x2="49.6" y2="296.23" stroke="#222" stroke-width="1.4"/>
<text x="41.5" y="299.13" font-size="8.2" text-anchor="end" fill="#1a1a1a">600</text>
<line x1="46" y1="282.44" x2="49.6" y2="282.44" stroke="#222" stroke-width="1.4"/>
<text x="41.5" y="285.34" font-size="8.2" text-anchor="end" fill="#1a1a1a">800</text>
<line x1="46" y1="268.66" x2="49.6" y2="268.66" stroke="#222" stroke-width="1.4"/>
<text x="41.5" y="271.56" font-size="8.2" text-anchor="end" fill="#1a1a1a">1000</text>
<line x1="46" y1="254.87" x2="49.6" y2="254.87" stroke="#222" stroke-width="1.4"/>
<text x="41.5" y="257.77" font-size="8.2" text-anchor="end" fill="#1a1a1a">1200</text>
<line x1="46" y1="241.08" x2="49.6" y2="241.08" stroke="#222" stroke-width="1.4"/>
<text x="41.5" y="243.98" font-size="8.2" text-anchor="end" fill="#1a1a1a">1400</text>
<line x1="46" y1="227.29" x2="49.6" y2="227.29" stroke="#222" stroke-width="1.4"/>
<text x="41.5" y="230.19" font-size="8.2" text-anchor="end" fill="#1a1a1a">1600</text>
<line x1="46" y1="213.5" x2="49.6" y2="213.5" stroke="#222" stroke-width="1.4"/>
<text x="41.5" y="216.4" font-size="8.2" text-anchor="end" fill="#1a1a1a">1800</text>
<line x1="48.9" y1="337.6" x2="132.8" y2="337.6" stroke="#222" stroke-width="1.5"/>
<line x1="49.6" y1="337.6" x2="49.6" y2="341.2" stroke="#222" stroke-width="1.4"/>
<text x="49.6" y="352.1" font-size="8.2" text-anchor="middle" fill="#1a1a1a">0</text>
<line x1="67.9" y1="337.6" x2="67.9" y2="341.2" stroke="#222" stroke-width="1.4"/>
<text x="67.9" y="352.1" font-size="8.2" text-anchor="middle" fill="#1a1a1a">1</text>
<line x1="86.2" y1="337.6" x2="86.2" y2="341.2" stroke="#222" stroke-width="1.4"/>
<text x="86.2" y="352.1" font-size="8.2" text-anchor="middle" fill="#1a1a1a">2</text>
<line x1="104.5" y1="337.6" x2="104.5" y2="341.2" stroke="#222" stroke-width="1.4"/>
<text x="104.5" y="352.1" font-size="8.2" text-anchor="middle" fill="#1a1a1a">3</text>
<line x1="122.8" y1="337.6" x2="122.8" y2="341.2" stroke="#222" stroke-width="1.4"/>
<text x="122.8" y="352.1" font-size="8.2" text-anchor="middle" fill="#1a1a1a">4</text>
<polyline points="67.9,322.78 86.2,303.82 104.5,278.65 122.8,236.94" fill="none" stroke="#4f3fae" stroke-width="1.3"/>
<line x1="67.9" y1="324.16" x2="67.9" y2="321.4" stroke="#4f3fae" stroke-width="1.1"/>
<line x1="65.7" y1="321.4" x2="70.1" y2="321.4" stroke="#4f3fae" stroke-width="1.1"/>
<line x1="65.7" y1="324.16" x2="70.1" y2="324.16" stroke="#4f3fae" stroke-width="1.1"/>
<line x1="86.2" y1="305.2" x2="86.2" y2="302.44" stroke="#4f3fae" stroke-width="1.1"/>
<line x1="84" y1="302.44" x2="88.4" y2="302.44" stroke="#4f3fae" stroke-width="1.1"/>
<line x1="84" y1="305.2" x2="88.4" y2="305.2" stroke="#4f3fae" stroke-width="1.1"/>
<line x1="104.5" y1="281.75" x2="104.5" y2="275.55" stroke="#4f3fae" stroke-width="1.1"/>
<line x1="102.3" y1="275.55" x2="106.7" y2="275.55" stroke="#4f3fae" stroke-width="1.1"/>
<line x1="102.3" y1="281.75" x2="106.7" y2="281.75" stroke="#4f3fae" stroke-width="1.1"/>
<line x1="122.8" y1="241.42" x2="122.8" y2="232.46" stroke="#4f3fae" stroke-width="1.1"/>
<line x1="120.6" y1="232.46" x2="125" y2="232.46" stroke="#4f3fae" stroke-width="1.1"/>
<line x1="120.6" y1="241.42" x2="125" y2="241.42" stroke="#4f3fae" stroke-width="1.1"/>
<circle cx="67.9" cy="322.78" r="2.45" fill="white" stroke="#4f3fae" stroke-width="1.2"/>
<circle cx="86.2" cy="303.82" r="2.45" fill="white" stroke="#4f3fae" stroke-width="1.2"/>
<circle cx="104.5" cy="278.65" r="2.45" fill="white" stroke="#4f3fae" stroke-width="1.2"/>
<circle cx="122.8" cy="236.94" r="2.45" fill="white" stroke="#4f3fae" stroke-width="1.2"/>
<polyline points="67.9,325.88 86.2,320.36 104.5,314.16 122.8,304.51" fill="none" stroke="#e8413a" stroke-width="1.3"/>
<line x1="67.9" y1="326.91" x2="67.9" y2="324.85" stroke="#e8413a" stroke-width="1.1"/>
<line x1="65.7" y1="324.85" x2="70.1" y2="324.85" stroke="#e8413a" stroke-width="1.1"/>
<line x1="65.7" y1="326.91" x2="70.1" y2="326.91" stroke="#e8413a" stroke-width="1.1"/>
<line x1="86.2" y1="322.09" x2="86.2" y2="318.64" stroke="#e8413a" stroke-width="1.1"/>
<line x1="84" y1="318.64" x2="88.4" y2="318.64" stroke="#e8413a" stroke-width="1.1"/>
<line x1="84" y1="322.09" x2="88.4" y2="322.09" stroke="#e8413a" stroke-width="1.1"/>
<line x1="104.5" y1="317.95" x2="104.5" y2="310.37" stroke="#e8413a" stroke-width="1.1"/>
<line x1="102.3" y1="310.37" x2="106.7" y2="310.37" stroke="#e8413a" stroke-width="1.1"/>
<line x1="102.3" y1="317.95" x2="106.7" y2="317.95" stroke="#e8413a" stroke-width="1.1"/>
<line x1="122.8" y1="308.99" x2="122.8" y2="300.03" stroke="#e8413a" stroke-width="1.1"/>
<line x1="120.6" y1="300.03" x2="125" y2="300.03" stroke="#e8413a" stroke-width="1.1"/>
<line x1="120.6" y1="308.99" x2="125" y2="308.99" stroke="#e8413a" stroke-width="1.1"/>
<rect x="65.9" y="323.88" width="4" height="4" fill="white" stroke="#e8413a" stroke-width="1.1"/>
<rect x="84.2" y="318.36" width="4" height="4" fill="white" stroke="#e8413a" stroke-width="1.1"/>
<rect x="102.5" y="312.16" width="4" height="4" fill="white" stroke="#e8413a" stroke-width="1.1"/>
<rect x="120.8" y="302.51" width="4" height="4" fill="white" stroke="#e8413a" stroke-width="1.1"/>
<line x1="52.6" y1="214.2" x2="70.7" y2="214.2" stroke="#4f3fae" stroke-width="1.3"/>
<circle cx="61.65" cy="214.2" r="2.45" fill="white" stroke="#4f3fae" stroke-width="1.2"/>
<text x="74.1" y="216.8" font-size="7" text-anchor="start" fill="#1a1a1a">MKN45-mock</text>
<line x1="52.6" y1="224.4" x2="70.7" y2="224.4" stroke="#e8413a" stroke-width="1.3"/>
<rect x="59.65" y="222.4" width="4" height="4" fill="white" stroke="#e8413a" stroke-width="1.1"/>
<text x="74.1" y="227" font-size="7" text-anchor="start" fill="#1a1a1a">MKN45-NDUFS1</text>
<path d="M122.8 294.9L122.8 292.35M122.8 294.9L125.23 294.11M122.8 294.9L124.3 296.96M122.8 294.9L121.3 296.96M122.8 294.9L120.37 294.11" stroke="#111" stroke-width="1.25" stroke-linecap="round" fill="none"/>
<line x1="173.2" y1="212.8" x2="173.2" y2="338.3" stroke="#222" stroke-width="1.5"/>
<line x1="169.6" y1="337.6" x2="173.2" y2="337.6" stroke="#222" stroke-width="1.4"/>
<text x="166.3" y="340.5" font-size="8.2" text-anchor="end" fill="#1a1a1a">0</text>
<line x1="169.6" y1="323.81" x2="173.2" y2="323.81" stroke="#222" stroke-width="1.4"/>
<text x="166.3" y="326.71" font-size="8.2" text-anchor="end" fill="#1a1a1a">200</text>
<line x1="169.6" y1="310.02" x2="173.2" y2="310.02" stroke="#222" stroke-width="1.4"/>
<text x="166.3" y="312.92" font-size="8.2" text-anchor="end" fill="#1a1a1a">400</text>
<line x1="169.6" y1="296.23" x2="173.2" y2="296.23" stroke="#222" stroke-width="1.4"/>
<text x="166.3" y="299.13" font-size="8.2" text-anchor="end" fill="#1a1a1a">600</text>
<line x1="169.6" y1="282.44" x2="173.2" y2="282.44" stroke="#222" stroke-width="1.4"/>
<text x="166.3" y="285.34" font-size="8.2" text-anchor="end" fill="#1a1a1a">800</text>
<line x1="169.6" y1="268.66" x2="173.2" y2="268.66" stroke="#222" stroke-width="1.4"/>
<text x="166.3" y="271.56" font-size="8.2" text-anchor="end" fill="#1a1a1a">1000</text>
<line x1="169.6" y1="254.87" x2="173.2" y2="254.87" stroke="#222" stroke-width="1.4"/>
<text x="166.3" y="257.77" font-size="8.2" text-anchor="end" fill="#1a1a1a">1200</text>
<line x1="169.6" y1="241.08" x2="173.2" y2="241.08" stroke="#222" stroke-width="1.4"/>
<text x="166.3" y="243.98" font-size="8.2" text-anchor="end" fill="#1a1a1a">1400</text>
<line x1="169.6" y1="227.29" x2="173.2" y2="227.29" stroke="#222" stroke-width="1.4"/>
<text x="166.3" y="230.19" font-size="8.2" text-anchor="end" fill="#1a1a1a">1600</text>
<line x1="169.6" y1="213.5" x2="173.2" y2="213.5" stroke="#222" stroke-width="1.4"/>
<text x="166.3" y="216.4" font-size="8.2" text-anchor="end" fill="#1a1a1a">1800</text>
<line x1="172.5" y1="337.6" x2="256.6" y2="337.6" stroke="#222" stroke-width="1.5"/>
<line x1="173.2" y1="337.6" x2="173.2" y2="341.2" stroke="#222" stroke-width="1.4"/>
<text x="173.2" y="352.1" font-size="8.2" text-anchor="middle" fill="#1a1a1a">0</text>
<line x1="191.5" y1="337.6" x2="191.5" y2="341.2" stroke="#222" stroke-width="1.4"/>
<text x="191.5" y="352.1" font-size="8.2" text-anchor="middle" fill="#1a1a1a">1</text>
<line x1="209.8" y1="337.6" x2="209.8" y2="341.2" stroke="#222" stroke-width="1.4"/>
<text x="209.8" y="352.1" font-size="8.2" text-anchor="middle" fill="#1a1a1a">2</text>
<line x1="228.1" y1="337.6" x2="228.1" y2="341.2" stroke="#222" stroke-width="1.4"/>
<text x="228.1" y="352.1" font-size="8.2" text-anchor="middle" fill="#1a1a1a">3</text>
<line x1="246.4" y1="337.6" x2="246.4" y2="341.2" stroke="#222" stroke-width="1.4"/>
<text x="246.4" y="352.1" font-size="8.2" text-anchor="middle" fill="#1a1a1a">4</text>
<polyline points="191.5,323.81 209.8,316.57 228.1,305.2 246.4,292.44" fill="none" stroke="#4f3fae" stroke-width="1.3"/>
<line x1="191.5" y1="324.85" x2="191.5" y2="322.78" stroke="#4f3fae" stroke-width="1.1"/>
<line x1="189.3" y1="322.78" x2="193.7" y2="322.78" stroke="#4f3fae" stroke-width="1.1"/>
<line x1="189.3" y1="324.85" x2="193.7" y2="324.85" stroke="#4f3fae" stroke-width="1.1"/>
<line x1="209.8" y1="318.64" x2="209.8" y2="314.5" stroke="#4f3fae" stroke-width="1.1"/>
<line x1="207.6" y1="314.5" x2="212" y2="314.5" stroke="#4f3fae" stroke-width="1.1"/>
<line x1="207.6" y1="318.64" x2="212" y2="318.64" stroke="#4f3fae" stroke-width="1.1"/>
<line x1="228.1" y1="307.95" x2="228.1" y2="302.44" stroke="#4f3fae" stroke-width="1.1"/>
<line x1="225.9" y1="302.44" x2="230.3" y2="302.44" stroke="#4f3fae" stroke-width="1.1"/>
<line x1="225.9" y1="307.95" x2="230.3" y2="307.95" stroke="#4f3fae" stroke-width="1.1"/>
<line x1="246.4" y1="297.61" x2="246.4" y2="287.27" stroke="#4f3fae" stroke-width="1.1"/>
<line x1="244.2" y1="287.27" x2="248.6" y2="287.27" stroke="#4f3fae" stroke-width="1.1"/>
<line x1="244.2" y1="297.61" x2="248.6" y2="297.61" stroke="#4f3fae" stroke-width="1.1"/>
<circle cx="191.5" cy="323.81" r="2.45" fill="white" stroke="#4f3fae" stroke-width="1.2"/>
<circle cx="209.8" cy="316.57" r="2.45" fill="white" stroke="#4f3fae" stroke-width="1.2"/>
<circle cx="228.1" cy="305.2" r="2.45" fill="white" stroke="#4f3fae" stroke-width="1.2"/>
<circle cx="246.4" cy="292.44" r="2.45" fill="white" stroke="#4f3fae" stroke-width="1.2"/>
<polyline points="191.5,321.05 209.8,305.2 228.1,285.55 246.4,251.42" fill="none" stroke="#e8413a" stroke-width="1.3"/>
<line x1="191.5" y1="322.09" x2="191.5" y2="320.02" stroke="#e8413a" stroke-width="1.1"/>
<line x1="189.3" y1="320.02" x2="193.7" y2="320.02" stroke="#e8413a" stroke-width="1.1"/>
<line x1="189.3" y1="322.09" x2="193.7" y2="322.09" stroke="#e8413a" stroke-width="1.1"/>
<line x1="209.8" y1="307.61" x2="209.8" y2="302.78" stroke="#e8413a" stroke-width="1.1"/>
<line x1="207.6" y1="302.78" x2="212" y2="302.78" stroke="#e8413a" stroke-width="1.1"/>
<line x1="207.6" y1="307.61" x2="212" y2="307.61" stroke="#e8413a" stroke-width="1.1"/>
<line x1="228.1" y1="288.65" x2="228.1" y2="282.44" stroke="#e8413a" stroke-width="1.1"/>
<line x1="225.9" y1="282.44" x2="230.3" y2="282.44" stroke="#e8413a" stroke-width="1.1"/>
<line x1="225.9" y1="288.65" x2="230.3" y2="288.65" stroke="#e8413a" stroke-width="1.1"/>
<line x1="246.4" y1="256.59" x2="246.4" y2="246.25" stroke="#e8413a" stroke-width="1.1"/>
<line x1="244.2" y1="246.25" x2="248.6" y2="246.25" stroke="#e8413a" stroke-width="1.1"/>
<line x1="244.2" y1="256.59" x2="248.6" y2="256.59" stroke="#e8413a" stroke-width="1.1"/>
<rect x="189.5" y="319.05" width="4" height="4" fill="white" stroke="#e8413a" stroke-width="1.1"/>
<rect x="207.8" y="303.2" width="4" height="4" fill="white" stroke="#e8413a" stroke-width="1.1"/>
<rect x="226.1" y="283.55" width="4" height="4" fill="white" stroke="#e8413a" stroke-width="1.1"/>
<rect x="244.4" y="249.42" width="4" height="4" fill="white" stroke="#e8413a" stroke-width="1.1"/>
<line x1="176.7" y1="214.2" x2="194.2" y2="214.2" stroke="#4f3fae" stroke-width="1.3"/>
<circle cx="185.45" cy="214.2" r="2.45" fill="white" stroke="#4f3fae" stroke-width="1.2"/>
<text x="197.8" y="216.8" font-size="7" text-anchor="start" fill="#1a1a1a">N87-shcontrol</text>
<line x1="176.7" y1="224.4" x2="194.2" y2="224.4" stroke="#e8413a" stroke-width="1.3"/>
<rect x="183.45" y="222.4" width="4" height="4" fill="white" stroke="#e8413a" stroke-width="1.1"/>
<text x="197.8" y="227" font-size="7" text-anchor="start" fill="#1a1a1a">N87-shNDUFS1</text>
<path d="M246.4 241.5L246.4 238.95M246.4 241.5L248.83 240.71M246.4 241.5L247.9 243.56M246.4 241.5L244.9 243.56M246.4 241.5L243.97 240.71" stroke="#111" stroke-width="1.25" stroke-linecap="round" fill="none"/>
<text x="12.4" y="276" font-size="8.4" font-weight="bold" text-anchor="middle" fill="#1a1a1a" transform="rotate(-90 12.4 276) translate(0 3)">Tumour volume (mm<tspan font-size="5.5" dy="-3">3</tspan><tspan dy="3">)</tspan></text>
<text x="151" y="365.6" font-size="8.4" text-anchor="middle" font-weight="bold" fill="#1a1a1a">Weeks after inoculation</text>
<text x="273.5" y="210.6" font-size="14" text-anchor="start" font-weight="bold" fill="#000">d</text>
<rect x="292.3" y="211.1" width="60" height="143.3" fill="#d2d6da"/><defs><filter id="fTT" x="0" y="0" width="100%" height="100%" color-interpolation-filters="sRGB"><feTurbulence type="fractalNoise" baseFrequency="0.37" numOctaves="2" seed="8" result="n"/><feColorMatrix in="n" type="matrix" values="0 0 0 0 1  0 0 0 0 0.92  0 0 0 0 0.88  4 0 0 0 -1.9" result="h0"/><feComponentTransfer in="h0" result="holes"><feFuncA type="linear" slope="0.35"/></feComponentTransfer><feComposite in="holes" in2="SourceGraphic" operator="atop" result="t"/><feGaussianBlur in="t" stdDeviation="0.45"/></filter></defs><rect x="354" y="211.1" width="60.2" height="143.3" fill="#e1e2e6"/><rect x="352.3" y="211.1" width="1.7" height="143.3" fill="#f4f4f4"/><line x1="327.8" y1="216.8" x2="327.8" y2="226.3" stroke="#555" stroke-width="0.9"/><line x1="382.3" y1="216.8" x2="382.3" y2="226.3" stroke="#555" stroke-width="0.9"/><g filter="url(#fTT)"><path d="M319.9 219.7 Q320.4 221 319.9 222.3 Q319.5 223.5 318.2 224.4 Q316.9 225.2 315.4 225.6 Q313.9 226.1 312.2 226.2 Q310.6 226.4 309.2 225.8 Q307.7 225.2 306.4 224.4 Q305.1 223.5 305.1 222.3 Q305.2 221 305.4 219.8 Q305.6 218.6 306.6 217.6 Q307.5 216.6 309 215.9 Q310.5 215.1 312.2 215.4 Q314 215.6 315.4 216.3 Q316.7 216.9 318.1 217.7 Q319.5 218.5 319.9 219.7 Z" fill="#b24646"/><ellipse cx="311.1" cy="219.9" rx="3.8" ry="2.2" fill="#d07a72" opacity="0.55"/><path d="M317 246.5 Q317.4 247.5 317.6 248.7 Q317.8 250 316.7 250.9 Q315.6 251.9 314.1 252.1 Q312.5 252.3 311 252.5 Q309.4 252.6 308.1 252.1 Q306.7 251.6 305.6 250.7 Q304.5 249.9 304 248.7 Q303.5 247.5 304.4 246.5 Q305.3 245.4 306.2 244.7 Q307.1 243.9 308.2 242.9 Q309.3 242 310.9 242.2 Q312.5 242.5 314.1 242.8 Q315.6 243.1 316.1 244.3 Q316.6 245.5 317 246.5 Z" fill="#b24646" transform="rotate(-25 311 247.5)"/><ellipse cx="309.9" cy="246.4" rx="3.5" ry="2.1" fill="#d07a72" opacity="0.55" transform="rotate(-25 311 247.5)"/><path d="M319.7 277.9 Q320.9 279.3 320.4 280.9 Q319.8 282.5 317.5 283.3 Q315.1 284 313.3 284.6 Q311.4 285.2 309.1 285.8 Q306.8 286.4 304.6 285.6 Q302.4 284.9 300.9 283.6 Q299.5 282.3 299.4 280.8 Q299.3 279.3 299.4 277.8 Q299.6 276.3 301.1 275.1 Q302.6 273.9 304.8 273.2 Q306.9 272.6 309.2 272.9 Q311.4 273.3 313.6 273.7 Q315.7 274.1 317.1 275.3 Q318.5 276.4 319.7 277.9 Z" fill="#b24646" transform="rotate(-10 309.3 279.3)"/><ellipse cx="307.6" cy="277.9" rx="5.2" ry="2.7" fill="#d07a72" opacity="0.55" transform="rotate(-10 309.3 279.3)"/><path d="M314.8 306.6 Q315 307.8 314.9 309 Q314.8 310.2 314 311.1 Q313.1 312 312.1 312.6 Q311.1 313.3 309.8 313.3 Q308.5 313.3 307.6 312.5 Q306.7 311.7 306.1 310.8 Q305.4 309.9 304.6 308.9 Q303.9 307.8 304.5 306.7 Q305.1 305.6 305.9 304.7 Q306.6 303.8 307.5 302.8 Q308.4 301.8 309.7 302.1 Q311 302.5 312.3 302.8 Q313.5 303.2 314.1 304.3 Q314.7 305.4 314.8 306.6 Z" fill="#d27468"/><ellipse cx="308.9" cy="306.7" rx="2.8" ry="2.2" fill="#d07a72" opacity="0.55"/><path d="M310 337.5 Q310.4 338.8 310 340.1 Q309.7 341.5 309 342.7 Q308.4 344 307.1 344.4 Q305.9 344.9 304.6 344.8 Q303.4 344.7 302.1 344.4 Q300.8 344 299.6 343 Q298.5 342 298.2 340.4 Q298 338.8 298.3 337.2 Q298.7 335.7 299.8 334.8 Q301 333.8 302.1 333 Q303.2 332.1 304.6 332.3 Q305.9 332.5 307 333.2 Q308.2 333.9 308.9 335 Q309.7 336.1 310 337.5 Z" fill="#c8584c"/><ellipse cx="303.6" cy="337.4" rx="3.1" ry="2.7" fill="#d07a72" opacity="0.55"/><path d="M345.9 222 Q346.3 222.7 346 223.5 Q345.8 224.2 345.3 224.9 Q344.9 225.6 344.1 225.8 Q343.3 226 342.4 226.2 Q341.6 226.5 340.8 226.1 Q340 225.7 339.5 225 Q339 224.3 339.1 223.5 Q339.1 222.7 339.1 221.9 Q339.1 221.1 339.7 220.6 Q340.3 220 341 219.7 Q341.7 219.4 342.6 219.1 Q343.4 218.8 344.2 219.2 Q345.1 219.5 345.3 220.4 Q345.5 221.3 345.9 222 Z" fill="#cfa061"/><ellipse cx="341.9" cy="222" rx="1.9" ry="1.4" fill="#e2c085" opacity="0.55"/><path d="M345.4 249.4 Q345.5 250.2 345.3 251 Q345.2 251.7 344.8 252.5 Q344.4 253.2 343.6 253.4 Q342.8 253.6 342 253.6 Q341.2 253.6 340.5 253.3 Q339.8 253 339.4 252.3 Q339.1 251.6 338.8 250.9 Q338.5 250.2 338.6 249.4 Q338.7 248.6 339.2 248 Q339.7 247.3 340.5 247.2 Q341.3 247.1 342 247 Q342.7 246.9 343.4 247.3 Q344 247.7 344.7 248.2 Q345.4 248.6 345.4 249.4 Z" fill="#cfa061"/><ellipse cx="341.4" cy="249.5" rx="1.8" ry="1.4" fill="#e2c085" opacity="0.55"/><path d="M345.8 279.6 Q346 280.5 345.9 281.4 Q345.8 282.3 345.3 283 Q344.8 283.8 344 283.9 Q343.2 284.1 342.5 284 Q341.8 283.9 341.1 283.7 Q340.4 283.5 340 282.8 Q339.5 282.1 339.1 281.3 Q338.7 280.5 339 279.6 Q339.2 278.7 339.7 278 Q340.3 277.3 341 276.9 Q341.7 276.5 342.5 276.5 Q343.3 276.4 343.9 277 Q344.5 277.6 345.1 278.2 Q345.6 278.8 345.8 279.6 Z" fill="#cfa061"/><ellipse cx="341.9" cy="279.7" rx="1.8" ry="1.6" fill="#e2c085" opacity="0.55"/><path d="M343.1 309.4 Q343.2 310.3 343.2 311.2 Q343.2 312.1 342.8 312.8 Q342.4 313.6 341.9 314 Q341.4 314.5 340.8 314.2 Q340.3 313.9 339.8 313.6 Q339.3 313.2 339 312.6 Q338.7 311.9 338.6 311.1 Q338.5 310.3 338.4 309.4 Q338.4 308.5 338.9 308 Q339.4 307.5 339.8 306.9 Q340.2 306.4 340.8 306.5 Q341.3 306.7 341.8 307 Q342.3 307.3 342.6 308 Q343 308.6 343.1 309.4 Z" fill="#cfa061"/><ellipse cx="340.4" cy="309.5" rx="1.2" ry="1.6" fill="#e2c085" opacity="0.55"/><path d="M342 339.9 Q342.1 340.8 342.1 341.8 Q342.2 342.7 341.8 343.5 Q341.4 344.2 340.8 344.8 Q340.3 345.4 339.6 345 Q339 344.7 338.5 344.3 Q338 343.9 337.5 343.3 Q337 342.7 336.9 341.8 Q336.7 340.8 337 339.9 Q337.2 339 337.5 338.2 Q337.8 337.3 338.4 337 Q339 336.8 339.6 336.6 Q340.3 336.4 340.7 337.1 Q341.2 337.8 341.5 338.4 Q341.9 339.1 342 339.9 Z" fill="#cfa061"/><ellipse cx="339.2" cy="339.9" rx="1.4" ry="1.7" fill="#e2c085" opacity="0.55"/><path d="M371 220.8 Q371.6 221.7 371.2 222.7 Q370.8 223.7 370 224.5 Q369.2 225.3 368.1 225.8 Q366.9 226.4 365.7 226 Q364.4 225.7 363.3 225.5 Q362.1 225.2 361.1 224.5 Q360.2 223.8 359.9 222.7 Q359.6 221.7 360.1 220.7 Q360.6 219.8 361.5 219.2 Q362.4 218.6 363.4 218.1 Q364.4 217.5 365.7 217.3 Q367 217 367.8 217.8 Q368.7 218.6 369.5 219.3 Q370.3 219.9 371 220.8 Z" fill="#da8c84"/><ellipse cx="364.7" cy="220.8" rx="2.8" ry="1.7" fill="#f3c4b8" opacity="0.55"/><path d="M368.8 253.8 Q369 254.4 369 255.1 Q369.1 255.9 368.5 256.4 Q368 257 367.2 257.2 Q366.4 257.5 365.6 257.4 Q364.8 257.3 364 257.2 Q363.1 257.1 362.6 256.5 Q362 255.9 362 255.1 Q361.9 254.4 362.1 253.7 Q362.3 253 362.9 252.5 Q363.4 252.1 364.2 251.9 Q364.9 251.7 365.6 251.5 Q366.4 251.4 367.2 251.6 Q368 251.8 368.3 252.5 Q368.6 253.2 368.8 253.8 Z" fill="#da8c84"/><ellipse cx="365" cy="253.8" rx="1.9" ry="1.3" fill="#f3c4b8" opacity="0.55"/><path d="M372.1 282.9 Q372.3 284.2 371.6 285.3 Q370.9 286.4 370.2 287.2 Q369.6 288 368.8 289.1 Q368 290.2 366.9 289.7 Q365.8 289.2 364.9 288.6 Q364 288.1 363 287.4 Q362.1 286.7 362.1 285.4 Q362 284.2 361.9 282.9 Q361.9 281.6 362.9 280.9 Q363.9 280.2 364.7 279.2 Q365.6 278.2 366.7 278.7 Q367.9 279.1 368.9 279.4 Q370 279.8 370.9 280.7 Q371.8 281.6 372.1 282.9 Z" fill="#da8c84"/><ellipse cx="366" cy="283.1" rx="2.5" ry="2.2" fill="#f3c4b8" opacity="0.55"/><path d="M373.3 312.9 Q374.1 314 373.8 315.3 Q373.5 316.6 372.6 317.7 Q371.8 318.7 370.4 318.8 Q369.1 318.8 367.9 319.2 Q366.7 319.5 365.7 318.9 Q364.6 318.2 363.8 317.3 Q363 316.4 363 315.2 Q363 314 363.2 312.9 Q363.4 311.8 364 310.8 Q364.6 309.8 365.7 309.4 Q366.9 309 368 308.8 Q369.2 308.7 370.1 309.4 Q371 310.2 371.8 311 Q372.5 311.9 373.3 312.9 Z" fill="#da8c84"/><ellipse cx="367.1" cy="312.9" rx="2.8" ry="2.2" fill="#f3c4b8" opacity="0.55"/><path d="M376.2 342.5 Q376.4 343.8 376.2 345.1 Q376 346.4 374.9 347.1 Q373.8 347.8 372.9 348.8 Q372 349.8 370.7 349.3 Q369.5 348.8 368.2 348.5 Q367 348.3 366.6 347.1 Q366.1 346 365.4 344.9 Q364.8 343.8 365.4 342.7 Q366.1 341.6 366.5 340.5 Q367 339.3 368.2 338.7 Q369.3 338.1 370.6 338.1 Q371.9 338.1 372.9 338.8 Q374 339.6 375 340.4 Q376 341.2 376.2 342.5 Z" fill="#da8c84"/><ellipse cx="369.7" cy="342.7" rx="2.8" ry="2.2" fill="#f3c4b8" opacity="0.55"/><path d="M403.3 219.3 Q404 220.5 403.5 221.7 Q403 223 402 223.8 Q400.9 224.7 399.8 225.6 Q398.8 226.6 397.3 226.3 Q395.8 225.9 394.5 225.4 Q393.2 224.9 392.3 224 Q391.3 223 390.7 221.8 Q390.2 220.5 390.3 219 Q390.4 217.6 391.7 216.7 Q393 215.9 394.3 214.9 Q395.5 214 397.2 214 Q398.9 214 400 215 Q401.1 216.1 401.9 217.1 Q402.7 218.2 403.3 219.3 Z" fill="#da8c84"/><ellipse cx="396.1" cy="219.3" rx="3.4" ry="2.4" fill="#f3c4b8" opacity="0.55"/><path d="M402.6 250.7 Q402.6 252 402.3 253.2 Q402.1 254.4 401.4 255.5 Q400.7 256.6 399.4 257.3 Q398.2 258.1 396.7 257.7 Q395.2 257.3 394 256.8 Q392.8 256.3 391.8 255.3 Q390.9 254.4 390.2 253.2 Q389.4 252 390.2 250.8 Q391 249.6 391.6 248.3 Q392.1 247 393.6 246.5 Q395 245.9 396.5 246.3 Q398 246.7 399.4 247 Q400.8 247.3 401.7 248.3 Q402.6 249.4 402.6 250.7 Z" fill="#da8c84"/><ellipse cx="395.5" cy="250.8" rx="3.4" ry="2.4" fill="#f3c4b8" opacity="0.55"/><path d="M404.3 282.9 Q404.7 284.2 404.5 285.6 Q404.3 286.9 403.5 288.1 Q402.8 289.3 401.7 290.4 Q400.6 291.5 399.2 291.1 Q397.7 290.8 396.4 290.3 Q395 289.8 394.5 288.3 Q394 286.9 393.5 285.5 Q392.9 284.2 393 282.6 Q393.1 281 394.1 279.9 Q395.2 278.9 396.4 277.9 Q397.6 276.9 399.1 276.9 Q400.6 277 401.7 278 Q402.8 279 403.4 280.3 Q404 281.6 404.3 282.9 Z" fill="#da8c84"/><ellipse cx="398.1" cy="282.8" rx="3.1" ry="2.7" fill="#f3c4b8" opacity="0.55"/><path d="M403.8 312.9 Q404.2 314 403.9 315.1 Q403.7 316.2 402.9 317.2 Q402.1 318.2 400.6 318.4 Q399.2 318.6 397.8 318.8 Q396.5 319.1 395.1 318.7 Q393.7 318.3 392.7 317.3 Q391.8 316.4 392 315.2 Q392.2 314 392.1 312.9 Q392.1 311.8 393 310.9 Q393.9 310 395.2 309.6 Q396.5 309.1 398 308.9 Q399.4 308.6 400.6 309.3 Q401.8 310.1 402.6 311 Q403.4 311.9 403.8 312.9 Z" fill="#da8c84"/><ellipse cx="396.9" cy="313" rx="3.1" ry="2" fill="#f3c4b8" opacity="0.55"/><path d="M406.3 342.6 Q406.5 343.8 406.3 345 Q406 346.2 405.2 347.3 Q404.5 348.5 403.1 349.1 Q401.8 349.7 400.3 349.7 Q398.8 349.7 397.7 348.8 Q396.6 348 395.3 347.2 Q394.1 346.4 394.2 345.1 Q394.2 343.8 394.6 342.7 Q395 341.5 395.9 340.7 Q396.8 339.9 397.9 339.2 Q398.9 338.4 400.2 338.7 Q401.6 338.9 402.8 339.3 Q404 339.7 405 340.5 Q406 341.4 406.3 342.6 Z" fill="#da8c84"/><ellipse cx="399.3" cy="342.7" rx="3.1" ry="2.2" fill="#f3c4b8" opacity="0.55"/></g><text x="301.3" y="352.2" font-size="8.6" fill="#111" transform="rotate(-90 301.3 352.2)">MKN45-mock</text><text x="332" y="352.2" font-size="8.6" fill="#111" transform="rotate(-90 332 352.2)">MKN45-NDUFS1</text><text x="361" y="352.2" font-size="8.6" fill="#111" transform="rotate(-90 361 352.2)">N87-shcontrol</text><text x="388" y="352.2" font-size="8.6" fill="#111" transform="rotate(-90 388 352.2)">N87-shNDUFS1</text>
<text x="434.4" y="210.7" font-size="14" text-anchor="start" font-weight="bold" fill="#000">e</text>
<path d="M484 332.1 V220.58 H501.7 V332.1" fill="white" stroke="#4f3fae" stroke-width="1.4"/>
<line x1="492.85" y1="219.88" x2="492.85" y2="215.04" stroke="#4f3fae" stroke-width="1.4"/>
<line x1="487.31" y1="215.04" x2="498.39" y2="215.04" stroke="#4f3fae" stroke-width="1.4"/>
<path d="M517.5 332.1 V295.66 H534.7 V332.1" fill="white" stroke="#e8413a" stroke-width="1.4"/>
<line x1="526.1" y1="294.96" x2="526.1" y2="289.31" stroke="#e8413a" stroke-width="1.4"/>
<line x1="520.71" y1="289.31" x2="531.49" y2="289.31" stroke="#e8413a" stroke-width="1.4"/>
<path d="M526.1 284.21L526.1 281.66M526.1 284.21L528.53 283.42M526.1 284.21L527.6 286.27M526.1 284.21L524.6 286.27M526.1 284.21L523.67 283.42" stroke="#111" stroke-width="1.25" stroke-linecap="round" fill="none"/>
<line x1="468.9" y1="210.3" x2="468.9" y2="332.8" stroke="#222" stroke-width="1.5"/>
<line x1="465.3" y1="332.1" x2="468.9" y2="332.1" stroke="#222" stroke-width="1.4"/>
<text x="461.3" y="335" font-size="8.3" text-anchor="end" fill="#1a1a1a">0.0</text>
<line x1="465.3" y1="291.73" x2="468.9" y2="291.73" stroke="#222" stroke-width="1.4"/>
<text x="461.3" y="294.63" font-size="8.3" text-anchor="end" fill="#1a1a1a">0.5</text>
<line x1="465.3" y1="251.37" x2="468.9" y2="251.37" stroke="#222" stroke-width="1.4"/>
<text x="461.3" y="254.27" font-size="8.3" text-anchor="end" fill="#1a1a1a">1.0</text>
<line x1="465.3" y1="211" x2="468.9" y2="211" stroke="#222" stroke-width="1.4"/>
<text x="461.3" y="213.9" font-size="8.3" text-anchor="end" fill="#1a1a1a">1.5</text>
<line x1="468.2" y1="332.1" x2="550.8" y2="332.1" stroke="#222" stroke-width="1.5"/>
<text x="441.5" y="271.8" font-size="8.33" text-anchor="middle" font-weight="bold" fill="#1a1a1a" transform="rotate(-90 441.5 271.8)">Tumour weight (g)</text>
<text x="496.35" y="341.6" font-size="8.3" text-anchor="end" fill="#1a1a1a" transform="rotate(-27.5 496.35 341.6)">MKN45-mock</text>
<text x="531.6" y="342.9" font-size="8.3" text-anchor="end" fill="#1a1a1a" transform="rotate(-27.5 531.6 342.9)">MKN45-NDUFS1</text>
<path d="M603.8 332.1 V286.78 H621.5 V332.1" fill="white" stroke="#4f3fae" stroke-width="1.4"/>
<line x1="612.65" y1="286.08" x2="612.65" y2="280.43" stroke="#4f3fae" stroke-width="1.4"/>
<line x1="607.11" y1="280.43" x2="618.19" y2="280.43" stroke="#4f3fae" stroke-width="1.4"/>
<path d="M637.3 332.1 V243.99 H654.7 V332.1" fill="white" stroke="#e8413a" stroke-width="1.4"/>
<line x1="646" y1="243.29" x2="646" y2="237.64" stroke="#e8413a" stroke-width="1.4"/>
<line x1="640.55" y1="237.64" x2="651.45" y2="237.64" stroke="#e8413a" stroke-width="1.4"/>
<path d="M646 232.54L646 229.99M646 232.54L648.43 231.75M646 232.54L647.5 234.6M646 232.54L644.5 234.6M646 232.54L643.57 231.75" stroke="#111" stroke-width="1.25" stroke-linecap="round" fill="none"/>
<line x1="588.2" y1="210.3" x2="588.2" y2="332.8" stroke="#222" stroke-width="1.5"/>
<line x1="584.6" y1="332.1" x2="588.2" y2="332.1" stroke="#222" stroke-width="1.4"/>
<text x="581.2" y="335" font-size="8.3" text-anchor="end" fill="#1a1a1a">0.0</text>
<line x1="584.6" y1="291.73" x2="588.2" y2="291.73" stroke="#222" stroke-width="1.4"/>
<text x="581.2" y="294.63" font-size="8.3" text-anchor="end" fill="#1a1a1a">0.5</text>
<line x1="584.6" y1="251.37" x2="588.2" y2="251.37" stroke="#222" stroke-width="1.4"/>
<text x="581.2" y="254.27" font-size="8.3" text-anchor="end" fill="#1a1a1a">1.0</text>
<line x1="584.6" y1="211" x2="588.2" y2="211" stroke="#222" stroke-width="1.4"/>
<text x="581.2" y="213.9" font-size="8.3" text-anchor="end" fill="#1a1a1a">1.5</text>
<line x1="587.5" y1="332.1" x2="670.6" y2="332.1" stroke="#222" stroke-width="1.5"/>
<text x="616.15" y="341.6" font-size="8.3" text-anchor="end" fill="#1a1a1a" transform="rotate(-27.5 616.15 341.6)">N87-shcontrol</text>
<text x="651.5" y="342.9" font-size="8.3" text-anchor="end" fill="#1a1a1a" transform="rotate(-27.5 651.5 342.9)">N87-shNDUFS1</text>
<text x="1.7" y="400" font-size="14" text-anchor="start" font-weight="bold" fill="#000">f</text>
<text x="187.1" y="400" font-size="14" text-anchor="start" font-weight="bold" fill="#000">g</text>
<defs><filter id="fSpk" x="0" y="0" width="100%" height="100%" color-interpolation-filters="sRGB"><feTurbulence type="fractalNoise" baseFrequency="0.23" numOctaves="3" seed="5" result="m"/><feColorMatrix in="m" type="matrix" values="0 0 0 0 0.42  0 0 0 0 0.42  0 0 0 0 0.52  0.8 0 0 0 -0.36" result="m2"/><feComposite in="m2" in2="SourceGraphic" operator="atop" result="s1"/><feTurbulence type="fractalNoise" baseFrequency="1.37" numOctaves="2" seed="21" result="n"/><feColorMatrix in="n" type="matrix" values="0 0 0 0 1  0 0 0 0 1  0 0 0 0 0.9  10 0 0 0 -6.4" result="h0"/><feComponentTransfer in="h0" result="holes"><feFuncA type="linear" slope="0.38"/></feComponentTransfer><feComposite in="holes" in2="s1" operator="atop"/></filter></defs><rect x="5.5" y="405.8" width="88.2" height="66" fill="#9697b0" filter="url(#fSpk)"/><circle cx="18.2" cy="459.7" r="0.9" fill="#3b47b6"/><circle cx="19.3" cy="459.7" r="0.7" fill="#3b47b6"/><circle cx="78" cy="434.5" r="0.9" fill="#3b47b6"/><circle cx="77.2" cy="434.3" r="0.7" fill="#3b47b6"/><circle cx="64" cy="407.1" r="0.9" fill="#3b47b6"/><circle cx="63.3" cy="408.1" r="0.9" fill="#3b47b6"/><circle cx="62.2" cy="408.3" r="1" fill="#3b47b6"/><circle cx="62.7" cy="409.4" r="0.8" fill="#3b47b6"/><circle cx="62.2" cy="410" r="0.7" fill="#3b47b6"/><circle cx="58.7" cy="452.4" r="1" fill="#3b47b6"/><circle cx="60.4" cy="452.2" r="1" fill="#3b47b6"/><circle cx="60.8" cy="452.4" r="0.9" fill="#3b47b6"/><circle cx="61.8" cy="453.5" r="0.9" fill="#3b47b6"/><circle cx="57.8" cy="409.3" r="0.8" fill="#3b47b6"/><circle cx="58" cy="410.1" r="1" fill="#3b47b6"/><circle cx="56.2" cy="410.5" r="0.7" fill="#3b47b6"/><circle cx="20.5" cy="457.5" r="1" fill="#3b47b6"/><circle cx="22" cy="459.2" r="0.8" fill="#3b47b6"/><circle cx="20.8" cy="459.9" r="1.1" fill="#3b47b6"/><circle cx="21.7" cy="460.7" r="1" fill="#3b47b6"/><circle cx="26.5" cy="438.1" r="1.1" fill="#3b47b6"/><circle cx="26.2" cy="439.3" r="1" fill="#3b47b6"/><circle cx="27.7" cy="440" r="1" fill="#3b47b6"/><circle cx="27.2" cy="440.5" r="0.8" fill="#3b47b6"/><circle cx="13.3" cy="462" r="0.8" fill="#3b47b6"/><circle cx="11.8" cy="461.7" r="1" fill="#3b47b6"/><circle cx="11.6" cy="462" r="1" fill="#3b47b6"/><circle cx="62.6" cy="441.9" r="1" fill="#3b47b6"/><circle cx="61" cy="442.3" r="1" fill="#3b47b6"/><circle cx="60" cy="441.3" r="0.7" fill="#3b47b6"/><circle cx="71.3" cy="422.5" r="0.7" fill="#3b47b6"/><circle cx="70.7" cy="424" r="0.9" fill="#3b47b6"/><circle cx="61.4" cy="424.2" r="0.8" fill="#3b47b6"/><circle cx="62.5" cy="424.9" r="0.8" fill="#3b47b6"/><circle cx="62.4" cy="426.8" r="1.1" fill="#3b47b6"/><circle cx="62" cy="427.6" r="0.8" fill="#3b47b6"/><circle cx="40.8" cy="408.7" r="1" fill="#3b47b6"/><circle cx="41.6" cy="409.8" r="1" fill="#3b47b6"/><circle cx="40.9" cy="410.4" r="0.7" fill="#3b47b6"/><circle cx="62" cy="458" r="1" fill="#3b47b6"/><circle cx="62.8" cy="458" r="0.8" fill="#3b47b6"/><circle cx="64.6" cy="457.9" r="0.8" fill="#3b47b6"/><circle cx="64.3" cy="456.9" r="1" fill="#3b47b6"/><circle cx="64.8" cy="458.3" r="1.1" fill="#3b47b6"/><circle cx="55" cy="417.2" r="1" fill="#3b47b6"/><circle cx="55.4" cy="417.9" r="0.7" fill="#3b47b6"/><circle cx="61.8" cy="425.9" r="0.8" fill="#3b47b6"/><circle cx="61.8" cy="426.7" r="1" fill="#3b47b6"/><circle cx="63.3" cy="425.6" r="0.8" fill="#3b47b6"/><circle cx="63.6" cy="425.5" r="0.8" fill="#3b47b6"/><circle cx="64.8" cy="426.9" r="1" fill="#3b47b6"/><circle cx="50.6" cy="454.6" r="0.7" fill="#3b47b6"/><circle cx="52.2" cy="455" r="0.8" fill="#3b47b6"/><circle cx="52.9" cy="455.1" r="0.8" fill="#3b47b6"/><circle cx="15.4" cy="420.9" r="0.7" fill="#3b47b6"/><circle cx="15.3" cy="422.5" r="1" fill="#3b47b6"/><circle cx="17.3" cy="422" r="0.9" fill="#3b47b6"/><circle cx="17.9" cy="422.4" r="0.9" fill="#3b47b6"/><circle cx="17.7" cy="422.2" r="0.8" fill="#3b47b6"/><circle cx="82" cy="442.5" r="1" fill="#3b47b6"/><circle cx="81.7" cy="443.1" r="0.7" fill="#3b47b6"/><circle cx="17" cy="462.4" r="0.7" fill="#3b47b6"/><circle cx="17.1" cy="463" r="0.7" fill="#3b47b6"/><circle cx="80.4" cy="434.1" r="0.9" fill="#3b47b6"/><circle cx="80" cy="433.8" r="0.7" fill="#3b47b6"/><circle cx="78.7" cy="433.8" r="1" fill="#3b47b6"/><circle cx="79" cy="435.4" r="0.8" fill="#3b47b6"/><circle cx="77.5" cy="435.3" r="0.7" fill="#3b47b6"/><circle cx="31.9" cy="444.6" r="1.1" fill="#3b47b6"/><circle cx="33.2" cy="445" r="0.9" fill="#3b47b6"/><circle cx="33.5" cy="445" r="0.8" fill="#3b47b6"/><circle cx="34.2" cy="444.6" r="0.8" fill="#3b47b6"/><circle cx="36.1" cy="445.4" r="0.9" fill="#3b47b6"/><circle cx="62.9" cy="465.4" r="1" fill="#3b47b6"/><circle cx="63" cy="466.7" r="0.8" fill="#3b47b6"/><circle cx="61.4" cy="466.3" r="1" fill="#3b47b6"/><circle cx="60.6" cy="465.7" r="1" fill="#3b47b6"/><circle cx="60.3" cy="465.9" r="1" fill="#3b47b6"/><circle cx="68.9" cy="408.5" r="1" fill="#3b47b6"/><circle cx="68.3" cy="409.1" r="1" fill="#3b47b6"/><circle cx="12.4" cy="465.4" r="1" fill="#3b47b6"/><circle cx="13.3" cy="466.8" r="1" fill="#3b47b6"/><circle cx="14.5" cy="466.3" r="0.7" fill="#3b47b6"/><circle cx="55" cy="452" r="0.9" fill="#3b47b6"/><circle cx="54.8" cy="453" r="0.7" fill="#3b47b6"/><circle cx="53.1" cy="452.7" r="0.7" fill="#3b47b6"/><circle cx="53.3" cy="452.6" r="1" fill="#3b47b6"/><circle cx="65.3" cy="434.1" r="0.9" fill="#3b47b6"/><circle cx="64.9" cy="434.1" r="0.8" fill="#3b47b6"/><circle cx="64.2" cy="435.3" r="0.8" fill="#3b47b6"/><circle cx="65" cy="435.2" r="0.8" fill="#3b47b6"/><circle cx="64.2" cy="436.1" r="0.8" fill="#3b47b6"/><circle cx="74.9" cy="431.4" r="0.7" fill="#3b47b6"/><circle cx="76" cy="432.5" r="1.1" fill="#3b47b6"/><circle cx="77.6" cy="432.5" r="0.8" fill="#3b47b6"/><circle cx="77.3" cy="433" r="1.1" fill="#3b47b6"/><circle cx="78.7" cy="432.8" r="0.9" fill="#3b47b6"/><circle cx="66.9" cy="448.1" r="1" fill="#3b47b6"/><circle cx="67.9" cy="448.7" r="1" fill="#3b47b6"/><circle cx="68.9" cy="448.7" r="1" fill="#3b47b6"/><circle cx="39.9" cy="450" r="1.1" fill="#3b47b6"/><circle cx="39.3" cy="449.6" r="0.8" fill="#3b47b6"/><circle cx="38.5" cy="451" r="1" fill="#3b47b6"/><circle cx="38" cy="452" r="1" fill="#3b47b6"/><circle cx="38.2" cy="452.5" r="0.7" fill="#3b47b6"/><circle cx="69.8" cy="409.5" r="1.1" fill="#3b47b6"/><circle cx="69.7" cy="409.7" r="1" fill="#3b47b6"/><circle cx="78.9" cy="448.7" r="0.8" fill="#3b47b6"/><circle cx="78.9" cy="448.6" r="0.7" fill="#3b47b6"/><circle cx="36.3" cy="415.5" r="0.8" fill="#3b47b6"/><circle cx="35.5" cy="415.2" r="0.8" fill="#3b47b6"/><circle cx="35.7" cy="414.8" r="0.7" fill="#3b47b6"/><circle cx="34.4" cy="414.9" r="0.9" fill="#3b47b6"/><circle cx="33.9" cy="416.3" r="0.7" fill="#3b47b6"/><circle cx="31" cy="440.6" r="0.9" fill="#3b47b6"/><circle cx="31.6" cy="441.3" r="0.7" fill="#3b47b6"/><circle cx="31.2" cy="441.3" r="0.7" fill="#3b47b6"/><circle cx="31.5" cy="442.7" r="0.7" fill="#3b47b6"/><circle cx="75.4" cy="463.6" r="1.1" fill="#3b47b6"/><circle cx="76.2" cy="464.6" r="0.7" fill="#3b47b6"/><circle cx="49.6" cy="442.1" r="0.8" fill="#3b47b6"/><circle cx="48.9" cy="442.9" r="0.8" fill="#3b47b6"/><circle cx="49.7" cy="443" r="1" fill="#3b47b6"/><circle cx="49.9" cy="443.5" r="1.1" fill="#3b47b6"/><circle cx="40.7" cy="441.3" r="1" fill="#3b47b6"/><circle cx="39.5" cy="442.3" r="0.9" fill="#3b47b6"/><circle cx="39.7" cy="443" r="1" fill="#3b47b6"/><circle cx="40.1" cy="443.4" r="0.9" fill="#3b47b6"/><circle cx="64.4" cy="420.1" r="0.8" fill="#3b47b6"/><circle cx="64" cy="420.8" r="1" fill="#3b47b6"/><circle cx="89.7" cy="411.1" r="0.8" fill="#3b47b6"/><circle cx="89.3" cy="411.9" r="1.1" fill="#3b47b6"/><circle cx="89.2" cy="412.9" r="1" fill="#3b47b6"/><circle cx="78.2" cy="444.8" r="1" fill="#3b47b6"/><circle cx="76.6" cy="445.1" r="0.8" fill="#3b47b6"/><circle cx="75.6" cy="445.4" r="0.8" fill="#3b47b6"/><circle cx="74.7" cy="445.7" r="0.7" fill="#3b47b6"/><circle cx="13.9" cy="434.3" r="0.8" fill="#3b47b6"/><circle cx="13.5" cy="435" r="0.7" fill="#3b47b6"/><circle cx="12.7" cy="436.3" r="0.8" fill="#3b47b6"/><circle cx="13.7" cy="457" r="0.8" fill="#3b47b6"/><circle cx="14.1" cy="459.3" r="0.9" fill="#3b47b6"/><circle cx="13.6" cy="459.7" r="0.8" fill="#3b47b6"/><circle cx="13.7" cy="460.1" r="0.8" fill="#3b47b6"/><circle cx="60.8" cy="452.6" r="0.7" fill="#3b47b6"/><circle cx="60.3" cy="452.3" r="0.8" fill="#3b47b6"/><circle cx="58.8" cy="452.6" r="1" fill="#3b47b6"/><circle cx="57.6" cy="452.5" r="0.7" fill="#3b47b6"/><circle cx="89.4" cy="434.2" r="0.7" fill="#3b47b6"/><circle cx="89" cy="435.3" r="0.8" fill="#3b47b6"/><circle cx="89.7" cy="435.3" r="1" fill="#3b47b6"/><circle cx="67.1" cy="426.9" r="1.1" fill="#3b47b6"/><circle cx="67.3" cy="427.2" r="0.7" fill="#3b47b6"/><circle cx="72.6" cy="449.3" r="0.9" fill="#3b47b6"/><circle cx="71.3" cy="449.7" r="0.7" fill="#3b47b6"/><circle cx="71.4" cy="449.2" r="0.8" fill="#3b47b6"/><circle cx="70.6" cy="450.3" r="0.7" fill="#3b47b6"/><circle cx="69.7" cy="451.6" r="0.9" fill="#3b47b6"/><circle cx="55.7" cy="420.2" r="1.1" fill="#3b47b6"/><circle cx="55.2" cy="420.7" r="1" fill="#3b47b6"/><circle cx="56" cy="420.8" r="0.9" fill="#3b47b6"/><circle cx="57.4" cy="421.5" r="1" fill="#3b47b6"/><circle cx="70" cy="417.5" r="0.7" fill="#3b47b6"/><circle cx="71.2" cy="416.6" r="0.9" fill="#3b47b6"/><circle cx="78.4" cy="462.6" r="1.1" fill="#3b47b6"/><circle cx="78.7" cy="463.9" r="0.7" fill="#3b47b6"/><circle cx="51" cy="414.8" r="0.8" fill="#3b47b6"/><circle cx="50.2" cy="416" r="0.9" fill="#3b47b6"/><circle cx="49.2" cy="415.2" r="1.1" fill="#3b47b6"/><circle cx="49.3" cy="416.3" r="0.9" fill="#3b47b6"/><circle cx="55.5" cy="440" r="1" fill="#3b47b6"/><circle cx="54.7" cy="440.8" r="0.7" fill="#3b47b6"/><circle cx="30.2" cy="444.5" r="1.1" fill="#3b47b6"/><circle cx="30.6" cy="446.2" r="0.7" fill="#3b47b6"/><circle cx="14.5" cy="455.9" r="0.7" fill="#3b47b6"/><circle cx="14.4" cy="457.3" r="1.1" fill="#3b47b6"/><circle cx="15.6" cy="458.4" r="0.9" fill="#3b47b6"/><circle cx="15.6" cy="458.2" r="0.8" fill="#3b47b6"/><circle cx="14.9" cy="459.1" r="1" fill="#3b47b6"/><circle cx="11.4" cy="422.5" r="1" fill="#3b47b6"/><circle cx="11.5" cy="424.2" r="0.9" fill="#3b47b6"/><circle cx="12.2" cy="425" r="0.9" fill="#3b47b6"/><circle cx="38.8" cy="462.6" r="1.1" fill="#3b47b6"/><circle cx="39.6" cy="463.5" r="1" fill="#3b47b6"/><circle cx="40.1" cy="463.8" r="1" fill="#3b47b6"/><circle cx="40.5" cy="462.9" r="0.8" fill="#3b47b6"/><circle cx="41.6" cy="463.1" r="0.8" fill="#3b47b6"/><circle cx="55.2" cy="408.6" r="1" fill="#3b47b6"/><circle cx="55.7" cy="408.9" r="0.7" fill="#3b47b6"/><circle cx="55.6" cy="410.9" r="1" fill="#3b47b6"/><circle cx="56.2" cy="411.2" r="0.8" fill="#3b47b6"/><circle cx="48.1" cy="430" r="1" fill="#3b47b6"/><circle cx="46.2" cy="429.8" r="0.9" fill="#3b47b6"/><circle cx="46.9" cy="430.6" r="1" fill="#3b47b6"/><circle cx="45.8" cy="430.4" r="1.1" fill="#3b47b6"/><circle cx="45" cy="430.9" r="0.9" fill="#3b47b6"/><circle cx="88.4" cy="440.2" r="0.7" fill="#3b47b6"/><circle cx="89" cy="441.2" r="1.1" fill="#3b47b6"/><circle cx="90.6" cy="441.3" r="1.1" fill="#3b47b6"/><circle cx="64.3" cy="451.3" r="0.7" fill="#3b47b6"/><circle cx="63.9" cy="452.4" r="0.9" fill="#3b47b6"/><circle cx="64.6" cy="453" r="0.7" fill="#3b47b6"/><circle cx="38.2" cy="461" r="0.7" fill="#3b47b6"/><circle cx="31" cy="463.8" r="0.6" fill="#3b47b6"/><circle cx="81.1" cy="463.9" r="0.6" fill="#3b47b6"/><circle cx="64.7" cy="441.6" r="0.7" fill="#3b47b6"/><circle cx="75.3" cy="453.3" r="0.7" fill="#3b47b6"/><circle cx="92.5" cy="423.2" r="0.5" fill="#3b47b6"/><circle cx="70.9" cy="456.1" r="0.6" fill="#3b47b6"/><circle cx="48.5" cy="432.6" r="0.7" fill="#3b47b6"/><circle cx="75.1" cy="444.2" r="0.5" fill="#3b47b6"/><circle cx="79.9" cy="436.1" r="0.5" fill="#3b47b6"/><circle cx="32.3" cy="451" r="0.5" fill="#3b47b6"/><circle cx="16.8" cy="426.2" r="0.7" fill="#3b47b6"/><circle cx="70.9" cy="468.9" r="0.6" fill="#3b47b6"/><circle cx="55.8" cy="442.1" r="0.6" fill="#3b47b6"/><circle cx="53.2" cy="459.2" r="0.7" fill="#3b47b6"/><circle cx="41.7" cy="447.1" r="0.5" fill="#3b47b6"/><circle cx="32.5" cy="439.2" r="0.6" fill="#3b47b6"/><circle cx="53.9" cy="469.3" r="0.5" fill="#3b47b6"/><circle cx="61.4" cy="470.4" r="0.7" fill="#3b47b6"/><circle cx="55.3" cy="430.4" r="0.6" fill="#3b47b6"/><circle cx="87.2" cy="464.1" r="0.7" fill="#3b47b6"/><circle cx="84" cy="466" r="0.7" fill="#3b47b6"/><circle cx="39.6" cy="436.5" r="0.7" fill="#3b47b6"/><circle cx="38.6" cy="454.8" r="0.6" fill="#3b47b6"/><circle cx="35.5" cy="436" r="0.5" fill="#3b47b6"/><circle cx="37.1" cy="433.4" r="0.5" fill="#3b47b6"/><circle cx="21.3" cy="423.5" r="0.7" fill="#3b47b6"/><circle cx="57.3" cy="425.2" r="0.7" fill="#3b47b6"/><circle cx="28.7" cy="439.7" r="0.7" fill="#3b47b6"/><circle cx="66.1" cy="434.5" r="0.7" fill="#3b47b6"/><rect x="78.2" y="468.5" width="12.5" height="1.3" fill="#111"/><rect x="95.2" y="405.8" width="87.6" height="66" fill="#9697b0" filter="url(#fSpk)"/><circle cx="176.1" cy="465.8" r="1" fill="#3b47b6"/><circle cx="177.7" cy="466.2" r="0.7" fill="#3b47b6"/><circle cx="101.5" cy="448.8" r="0.9" fill="#3b47b6"/><circle cx="100.5" cy="449.6" r="0.9" fill="#3b47b6"/><circle cx="101" cy="450.3" r="0.8" fill="#3b47b6"/><circle cx="100.7" cy="451.1" r="0.8" fill="#3b47b6"/><circle cx="100.3" cy="450.6" r="0.7" fill="#3b47b6"/><circle cx="115.4" cy="419.1" r="1" fill="#3b47b6"/><circle cx="115.6" cy="419.2" r="1" fill="#3b47b6"/><circle cx="117.2" cy="419.6" r="1" fill="#3b47b6"/><circle cx="161.9" cy="429.1" r="0.9" fill="#3b47b6"/><circle cx="162.2" cy="429.1" r="1.1" fill="#3b47b6"/><circle cx="162.9" cy="430.1" r="0.8" fill="#3b47b6"/><circle cx="164.2" cy="430.6" r="0.9" fill="#3b47b6"/><circle cx="164.4" cy="431" r="1" fill="#3b47b6"/><circle cx="139.8" cy="421.3" r="0.9" fill="#3b47b6"/><circle cx="139" cy="421.1" r="0.8" fill="#3b47b6"/><circle cx="138.4" cy="422.1" r="0.9" fill="#3b47b6"/><circle cx="137.2" cy="422.2" r="0.8" fill="#3b47b6"/><circle cx="160.1" cy="437.1" r="1" fill="#3b47b6"/><circle cx="159.5" cy="438.6" r="0.7" fill="#3b47b6"/><circle cx="158.7" cy="437.4" r="0.9" fill="#3b47b6"/><circle cx="157.2" cy="437.8" r="1" fill="#3b47b6"/><circle cx="104.5" cy="439.7" r="0.8" fill="#3b47b6"/><circle cx="105.9" cy="438.9" r="0.8" fill="#3b47b6"/><circle cx="105.6" cy="440.5" r="0.7" fill="#3b47b6"/><circle cx="107.4" cy="440" r="1" fill="#3b47b6"/><circle cx="99.8" cy="422" r="0.9" fill="#3b47b6"/><circle cx="99.7" cy="423" r="1.1" fill="#3b47b6"/><circle cx="97.9" cy="424.7" r="0.9" fill="#3b47b6"/><circle cx="157.6" cy="425.8" r="1" fill="#3b47b6"/><circle cx="159.2" cy="425.8" r="1" fill="#3b47b6"/><circle cx="159.6" cy="425.5" r="0.8" fill="#3b47b6"/><circle cx="160.4" cy="425.3" r="0.7" fill="#3b47b6"/><circle cx="160.8" cy="426.2" r="0.7" fill="#3b47b6"/><circle cx="145.4" cy="431.1" r="0.9" fill="#3b47b6"/><circle cx="145.3" cy="431" r="0.9" fill="#3b47b6"/><circle cx="145.5" cy="431.5" r="0.7" fill="#3b47b6"/><circle cx="146.3" cy="431.9" r="0.9" fill="#3b47b6"/><circle cx="140.1" cy="468.7" r="0.8" fill="#3b47b6"/><circle cx="139.8" cy="469" r="1" fill="#3b47b6"/><circle cx="155.6" cy="421.6" r="0.8" fill="#3b47b6"/><circle cx="155.2" cy="422.8" r="0.7" fill="#3b47b6"/><circle cx="155.6" cy="422.6" r="1" fill="#3b47b6"/><circle cx="156.1" cy="423.3" r="1" fill="#3b47b6"/><circle cx="157.2" cy="424.7" r="0.8" fill="#3b47b6"/><circle cx="155.1" cy="454.1" r="0.9" fill="#3b47b6"/><circle cx="154" cy="454.5" r="0.9" fill="#3b47b6"/><circle cx="153.7" cy="454.6" r="1" fill="#3b47b6"/><circle cx="127.7" cy="440" r="0.8" fill="#3b47b6"/><circle cx="127" cy="440.3" r="0.7" fill="#3b47b6"/><circle cx="122.7" cy="459.7" r="0.9" fill="#3b47b6"/><circle cx="123.4" cy="460.1" r="0.7" fill="#3b47b6"/><circle cx="98.6" cy="425.6" r="0.8" fill="#3b47b6"/><circle cx="99.6" cy="426.2" r="0.8" fill="#3b47b6"/><circle cx="171.2" cy="423.6" r="1.1" fill="#3b47b6"/><circle cx="171.7" cy="422.8" r="0.9" fill="#3b47b6"/><circle cx="161.7" cy="450.5" r="0.8" fill="#3b47b6"/><circle cx="161.4" cy="452.3" r="1" fill="#3b47b6"/><circle cx="162.3" cy="452.2" r="0.9" fill="#3b47b6"/><circle cx="162.7" cy="452.8" r="0.7" fill="#3b47b6"/><circle cx="163.1" cy="453.7" r="1" fill="#3b47b6"/><circle cx="154.4" cy="412.9" r="1" fill="#3b47b6"/><circle cx="156.3" cy="413.5" r="1.1" fill="#3b47b6"/><circle cx="153.1" cy="457.3" r="1" fill="#3b47b6"/><circle cx="154.5" cy="457.9" r="0.9" fill="#3b47b6"/><circle cx="104.7" cy="441.1" r="0.8" fill="#3b47b6"/><circle cx="106.1" cy="440.9" r="1" fill="#3b47b6"/><circle cx="106" cy="442" r="1" fill="#3b47b6"/><circle cx="107.1" cy="440.9" r="0.8" fill="#3b47b6"/><circle cx="107" cy="441.8" r="1" fill="#3b47b6"/><circle cx="110.6" cy="438.3" r="0.8" fill="#3b47b6"/><circle cx="111.7" cy="438.3" r="0.9" fill="#3b47b6"/><circle cx="112.4" cy="439.8" r="0.7" fill="#3b47b6"/><circle cx="113.1" cy="440.1" r="0.9" fill="#3b47b6"/><circle cx="112.6" cy="440.8" r="0.8" fill="#3b47b6"/><circle cx="171" cy="463.6" r="0.9" fill="#3b47b6"/><circle cx="171.3" cy="463" r="1.1" fill="#3b47b6"/><circle cx="171.2" cy="464.7" r="1.1" fill="#3b47b6"/><circle cx="171.6" cy="464.7" r="1" fill="#3b47b6"/><circle cx="161.5" cy="418.2" r="1" fill="#3b47b6"/><circle cx="161.3" cy="419.8" r="0.7" fill="#3b47b6"/><circle cx="161.7" cy="421.3" r="1" fill="#3b47b6"/><circle cx="127" cy="463.7" r="0.8" fill="#3b47b6"/><circle cx="126.1" cy="464" r="0.7" fill="#3b47b6"/><circle cx="105.4" cy="454.5" r="0.8" fill="#3b47b6"/><circle cx="104.4" cy="454.8" r="1" fill="#3b47b6"/><circle cx="102.9" cy="454.8" r="1.1" fill="#3b47b6"/><circle cx="154.7" cy="415.7" r="0.9" fill="#3b47b6"/><circle cx="153.6" cy="416.6" r="1" fill="#3b47b6"/><circle cx="153.4" cy="417.7" r="0.9" fill="#3b47b6"/><circle cx="153.6" cy="418.9" r="0.7" fill="#3b47b6"/><circle cx="166.7" cy="425.8" r="0.7" fill="#3b47b6"/><circle cx="166.7" cy="425.8" r="0.9" fill="#3b47b6"/><circle cx="166.7" cy="427.1" r="0.9" fill="#3b47b6"/><circle cx="165.4" cy="426.9" r="0.9" fill="#3b47b6"/><circle cx="116.4" cy="424.5" r="0.8" fill="#3b47b6"/><circle cx="116.3" cy="424.3" r="0.9" fill="#3b47b6"/><circle cx="110.3" cy="434" r="1.1" fill="#3b47b6"/><circle cx="110.6" cy="434" r="0.7" fill="#3b47b6"/><circle cx="111.7" cy="435.2" r="1" fill="#3b47b6"/><circle cx="111.8" cy="435.5" r="0.7" fill="#3b47b6"/><circle cx="108.4" cy="422.3" r="1" fill="#3b47b6"/><circle cx="108.8" cy="423.3" r="1" fill="#3b47b6"/><circle cx="109.1" cy="424.5" r="1" fill="#3b47b6"/><circle cx="109.2" cy="425.5" r="1" fill="#3b47b6"/><circle cx="109.7" cy="425.3" r="0.9" fill="#3b47b6"/><circle cx="152.8" cy="429.2" r="0.8" fill="#3b47b6"/><circle cx="152.5" cy="430.1" r="0.8" fill="#3b47b6"/><circle cx="153.1" cy="430.9" r="0.7" fill="#3b47b6"/><circle cx="152.8" cy="430.3" r="1" fill="#3b47b6"/><circle cx="153.7" cy="432" r="0.7" fill="#3b47b6"/><circle cx="124.2" cy="457.6" r="0.8" fill="#3b47b6"/><circle cx="123.7" cy="457.8" r="1.1" fill="#3b47b6"/><circle cx="124.5" cy="458.3" r="0.7" fill="#3b47b6"/><circle cx="123.7" cy="458.7" r="0.7" fill="#3b47b6"/><circle cx="124.2" cy="460.5" r="0.7" fill="#3b47b6"/><circle cx="176" cy="446.9" r="0.8" fill="#3b47b6"/><circle cx="175.4" cy="447.7" r="0.9" fill="#3b47b6"/><circle cx="106.2" cy="448.3" r="0.7" fill="#3b47b6"/><circle cx="178.2" cy="421.4" r="0.5" fill="#3b47b6"/><circle cx="161.8" cy="438.1" r="0.7" fill="#3b47b6"/><circle cx="142.8" cy="446.6" r="0.5" fill="#3b47b6"/><circle cx="139.9" cy="449.3" r="0.6" fill="#3b47b6"/><circle cx="130.6" cy="451.1" r="0.5" fill="#3b47b6"/><circle cx="129.2" cy="435.8" r="0.7" fill="#3b47b6"/><circle cx="134.8" cy="444.6" r="0.5" fill="#3b47b6"/><circle cx="175.1" cy="438.8" r="0.5" fill="#3b47b6"/><circle cx="129.8" cy="436.1" r="0.7" fill="#3b47b6"/><circle cx="117.9" cy="449.6" r="0.5" fill="#3b47b6"/><circle cx="98.3" cy="434.1" r="0.7" fill="#3b47b6"/><circle cx="125" cy="459.3" r="0.6" fill="#3b47b6"/><circle cx="169.7" cy="437.2" r="0.5" fill="#3b47b6"/><circle cx="108.1" cy="408.7" r="0.7" fill="#3b47b6"/><circle cx="142.6" cy="409.9" r="0.6" fill="#3b47b6"/><circle cx="96.7" cy="458.9" r="0.6" fill="#3b47b6"/><circle cx="141.4" cy="422.1" r="0.6" fill="#3b47b6"/><circle cx="96.3" cy="441.4" r="0.5" fill="#3b47b6"/><circle cx="136.1" cy="457.9" r="0.6" fill="#3b47b6"/><circle cx="149.8" cy="428.4" r="0.6" fill="#3b47b6"/><circle cx="129.9" cy="466.6" r="0.6" fill="#3b47b6"/><circle cx="163" cy="450" r="0.6" fill="#3b47b6"/><circle cx="167.5" cy="416.5" r="0.7" fill="#3b47b6"/><circle cx="111" cy="419.7" r="0.6" fill="#3b47b6"/><circle cx="108.5" cy="415.1" r="0.5" fill="#3b47b6"/><circle cx="121.8" cy="413.2" r="0.5" fill="#3b47b6"/><circle cx="119.5" cy="440.6" r="0.6" fill="#3b47b6"/><circle cx="120.2" cy="433.7" r="0.5" fill="#3b47b6"/><circle cx="143" cy="413.5" r="0.6" fill="#3b47b6"/><circle cx="160.6" cy="420.4" r="0.6" fill="#3b47b6"/><circle cx="99.5" cy="415.6" r="0.5" fill="#3b47b6"/><circle cx="118.7" cy="453" r="0.6" fill="#3b47b6"/><circle cx="159.2" cy="461.9" r="0.5" fill="#3b47b6"/><circle cx="108.6" cy="426.8" r="0.7" fill="#3b47b6"/><rect x="167.3" y="468.5" width="12.5" height="1.3" fill="#111"/><rect x="5.5" y="491.1" width="88.2" height="65.6" fill="#a2a2b0" filter="url(#fSpk)"/><circle cx="28.1" cy="526.5" r="1.7" fill="#9fabdc" fill-opacity="0.55"/><circle cx="58.1" cy="531.4" r="1.3" fill="#9fabdc" fill-opacity="0.55"/><circle cx="9.6" cy="544" r="1.6" fill="#9fabdc" fill-opacity="0.55"/><circle cx="27.8" cy="553.4" r="1.9" fill="#9fabdc" fill-opacity="0.55"/><circle cx="77.3" cy="522.5" r="2.1" fill="#9fabdc" fill-opacity="0.55"/><circle cx="20.9" cy="531.9" r="2.4" fill="#9fabdc" fill-opacity="0.55"/><circle cx="51.5" cy="538.3" r="2.1" fill="#9fabdc" fill-opacity="0.55"/><circle cx="13.8" cy="539.3" r="2" fill="#9fabdc" fill-opacity="0.55"/><circle cx="33.3" cy="495.9" r="2.4" fill="#9fabdc" fill-opacity="0.55"/><circle cx="47.4" cy="536.9" r="2.4" fill="#9fabdc" fill-opacity="0.55"/><circle cx="67.2" cy="549" r="1.8" fill="#9fabdc" fill-opacity="0.55"/><circle cx="74.3" cy="520.6" r="2.5" fill="#9fabdc" fill-opacity="0.55"/><circle cx="80.7" cy="499.9" r="1.4" fill="#9fabdc" fill-opacity="0.55"/><circle cx="26.3" cy="551.6" r="1.8" fill="#9fabdc" fill-opacity="0.55"/><circle cx="60" cy="512" r="1.9" fill="#9fabdc" fill-opacity="0.55"/><circle cx="40.2" cy="515" r="2" fill="#9fabdc" fill-opacity="0.55"/><circle cx="56.5" cy="548" r="2.2" fill="#9fabdc" fill-opacity="0.55"/><circle cx="84.9" cy="545.1" r="2.6" fill="#9fabdc" fill-opacity="0.55"/><circle cx="63.7" cy="503.8" r="2.4" fill="#9fabdc" fill-opacity="0.55"/><circle cx="87.8" cy="548" r="2" fill="#9fabdc" fill-opacity="0.55"/><circle cx="67.2" cy="506.7" r="2.4" fill="#9fabdc" fill-opacity="0.55"/><circle cx="55.6" cy="511.1" r="1.3" fill="#9fabdc" fill-opacity="0.55"/><circle cx="80.1" cy="555.1" r="0.5" fill="#3b47b6"/><circle cx="75.5" cy="518.2" r="0.5" fill="#3b47b6"/><circle cx="31.8" cy="541" r="0.7" fill="#3b47b6"/><circle cx="10.3" cy="531.2" r="0.5" fill="#3b47b6"/><rect x="78.2" y="553.4" width="12.5" height="1.3" fill="#111"/><rect x="95.2" y="491.1" width="87.6" height="65.6" fill="#a2a2b0" filter="url(#fSpk)"/><circle cx="117.5" cy="500.2" r="1.8" fill="#9fabdc" fill-opacity="0.55"/><circle cx="110.8" cy="498.1" r="1.8" fill="#9fabdc" fill-opacity="0.55"/><circle cx="173.1" cy="541.8" r="2.3" fill="#9fabdc" fill-opacity="0.55"/><circle cx="116.3" cy="526.1" r="1.6" fill="#9fabdc" fill-opacity="0.55"/><circle cx="112.3" cy="500.4" r="1.5" fill="#9fabdc" fill-opacity="0.55"/><circle cx="173.9" cy="543.5" r="2.3" fill="#9fabdc" fill-opacity="0.55"/><circle cx="163.5" cy="505.6" r="1.6" fill="#9fabdc" fill-opacity="0.55"/><circle cx="149.4" cy="537.7" r="2.4" fill="#9fabdc" fill-opacity="0.55"/><circle cx="170" cy="499.3" r="2" fill="#9fabdc" fill-opacity="0.55"/><circle cx="153" cy="524.3" r="1.4" fill="#9fabdc" fill-opacity="0.55"/><circle cx="136.8" cy="499.4" r="2.5" fill="#9fabdc" fill-opacity="0.55"/><circle cx="168.8" cy="526.7" r="1.6" fill="#9fabdc" fill-opacity="0.55"/><circle cx="172.4" cy="528.2" r="2.4" fill="#9fabdc" fill-opacity="0.55"/><circle cx="167.4" cy="524.4" r="1.8" fill="#9fabdc" fill-opacity="0.55"/><circle cx="147.1" cy="519.8" r="1.4" fill="#9fabdc" fill-opacity="0.55"/><circle cx="123.1" cy="542.5" r="1.3" fill="#9fabdc" fill-opacity="0.55"/><circle cx="102" cy="531.4" r="1.6" fill="#9fabdc" fill-opacity="0.55"/><circle cx="141.8" cy="522.2" r="1.7" fill="#9fabdc" fill-opacity="0.55"/><circle cx="179.6" cy="505.8" r="1.8" fill="#9fabdc" fill-opacity="0.55"/><circle cx="114.7" cy="531.8" r="1.6" fill="#9fabdc" fill-opacity="0.55"/><circle cx="127.2" cy="538.6" r="1.6" fill="#9fabdc" fill-opacity="0.55"/><circle cx="143.8" cy="548" r="1.3" fill="#9fabdc" fill-opacity="0.55"/><circle cx="101.9" cy="506.4" r="0.7" fill="#3b47b6"/><circle cx="101.8" cy="506.4" r="1.1" fill="#3b47b6"/><circle cx="102.4" cy="507.6" r="0.8" fill="#3b47b6"/><circle cx="125" cy="512.8" r="0.9" fill="#3b47b6"/><circle cx="125" cy="512.3" r="0.7" fill="#3b47b6"/><circle cx="123.8" cy="512.6" r="0.8" fill="#3b47b6"/><circle cx="177.2" cy="512.6" r="1" fill="#3b47b6"/><circle cx="178.4" cy="513.6" r="0.8" fill="#3b47b6"/><circle cx="113.9" cy="550.4" r="0.5" fill="#3b47b6"/><circle cx="101.5" cy="539" r="0.6" fill="#3b47b6"/><circle cx="179.3" cy="530.7" r="0.6" fill="#3b47b6"/><circle cx="146.1" cy="512.5" r="0.5" fill="#3b47b6"/><circle cx="167.7" cy="510.7" r="0.7" fill="#3b47b6"/><circle cx="152" cy="504.8" r="0.5" fill="#3b47b6"/><circle cx="133.8" cy="523.4" r="0.5" fill="#3b47b6"/><circle cx="134.2" cy="533.3" r="0.6" fill="#3b47b6"/><circle cx="114.7" cy="504" r="0.5" fill="#3b47b6"/><circle cx="117.9" cy="525.5" r="0.7" fill="#3b47b6"/><circle cx="131.1" cy="511.5" r="0.9" fill="#4a5ac8" fill-opacity="0.85"/><circle cx="133.9" cy="509.9" r="1.1" fill="#4a5ac8" fill-opacity="0.85"/><circle cx="132.9" cy="511" r="1" fill="#4a5ac8" fill-opacity="0.85"/><circle cx="139.8" cy="500.7" r="1.1" fill="#4a5ac8" fill-opacity="0.85"/><circle cx="137.5" cy="499.8" r="0.8" fill="#4a5ac8" fill-opacity="0.85"/><circle cx="171" cy="513.7" r="0.9" fill="#4a5ac8" fill-opacity="0.85"/><circle cx="170.2" cy="514.5" r="1.1" fill="#4a5ac8" fill-opacity="0.85"/><circle cx="169.6" cy="514.7" r="1.1" fill="#4a5ac8" fill-opacity="0.85"/><circle cx="151.3" cy="499.1" r="0.9" fill="#4a5ac8" fill-opacity="0.85"/><circle cx="151.1" cy="496.7" r="0.9" fill="#4a5ac8" fill-opacity="0.85"/><circle cx="152.6" cy="498.4" r="1.1" fill="#4a5ac8" fill-opacity="0.85"/><circle cx="151.6" cy="496.2" r="1.1" fill="#4a5ac8" fill-opacity="0.85"/><circle cx="99.9" cy="546.4" r="0.8" fill="#4a5ac8" fill-opacity="0.85"/><circle cx="99.4" cy="544.2" r="1.1" fill="#4a5ac8" fill-opacity="0.85"/><circle cx="112.9" cy="530.1" r="0.9" fill="#4a5ac8" fill-opacity="0.85"/><circle cx="110.7" cy="528.7" r="0.9" fill="#4a5ac8" fill-opacity="0.85"/><circle cx="112.1" cy="531.2" r="0.9" fill="#4a5ac8" fill-opacity="0.85"/><circle cx="111" cy="529.7" r="1" fill="#4a5ac8" fill-opacity="0.85"/><circle cx="141.8" cy="494.5" r="0.9" fill="#4a5ac8" fill-opacity="0.85"/><circle cx="140.5" cy="496.6" r="0.8" fill="#4a5ac8" fill-opacity="0.85"/><circle cx="140" cy="495.7" r="1.1" fill="#4a5ac8" fill-opacity="0.85"/><rect x="167.3" y="553.4" width="12.5" height="1.3" fill="#111"/><rect x="194.1" y="406.1" width="88.3" height="65.5" fill="#9697b0" filter="url(#fSpk)"/><circle cx="249.8" cy="452.9" r="0.7" fill="#3b47b6"/><circle cx="248.1" cy="453.5" r="1" fill="#3b47b6"/><circle cx="226.5" cy="414" r="1.1" fill="#3b47b6"/><circle cx="228.2" cy="413.8" r="1" fill="#3b47b6"/><circle cx="228" cy="414.6" r="0.7" fill="#3b47b6"/><circle cx="197.9" cy="460.4" r="0.7" fill="#3b47b6"/><circle cx="196.3" cy="460.9" r="1" fill="#3b47b6"/><circle cx="196.1" cy="461.4" r="1.1" fill="#3b47b6"/><circle cx="211.3" cy="465.3" r="0.7" fill="#3b47b6"/><circle cx="211.3" cy="466.2" r="0.9" fill="#3b47b6"/><circle cx="211.7" cy="467.4" r="0.8" fill="#3b47b6"/><circle cx="212.6" cy="468.3" r="0.9" fill="#3b47b6"/><circle cx="213.1" cy="468.4" r="1" fill="#3b47b6"/><circle cx="201.5" cy="467.8" r="0.9" fill="#3b47b6"/><circle cx="200.8" cy="467.9" r="1" fill="#3b47b6"/><circle cx="232.7" cy="451.7" r="0.9" fill="#3b47b6"/><circle cx="233.9" cy="452.1" r="0.8" fill="#3b47b6"/><circle cx="234.6" cy="451.9" r="1" fill="#3b47b6"/><circle cx="228.4" cy="425.7" r="0.9" fill="#3b47b6"/><circle cx="228.9" cy="425.8" r="1.1" fill="#3b47b6"/><circle cx="227.5" cy="425.9" r="0.8" fill="#3b47b6"/><circle cx="226.2" cy="425.7" r="0.7" fill="#3b47b6"/><circle cx="226.2" cy="427.3" r="0.7" fill="#3b47b6"/><circle cx="198.6" cy="468.3" r="0.8" fill="#3b47b6"/><circle cx="199.2" cy="468.1" r="1.1" fill="#3b47b6"/><circle cx="200" cy="469.2" r="0.8" fill="#3b47b6"/><circle cx="200.1" cy="469.6" r="0.9" fill="#3b47b6"/><circle cx="200.8" cy="469.5" r="0.8" fill="#3b47b6"/><circle cx="210.7" cy="430.6" r="1.1" fill="#3b47b6"/><circle cx="210.9" cy="431.8" r="0.9" fill="#3b47b6"/><circle cx="235.9" cy="452.1" r="0.7" fill="#3b47b6"/><circle cx="237" cy="452.1" r="0.7" fill="#3b47b6"/><circle cx="237.7" cy="453.2" r="0.7" fill="#3b47b6"/><circle cx="237.5" cy="453.3" r="0.9" fill="#3b47b6"/><circle cx="238" cy="453.2" r="1" fill="#3b47b6"/><circle cx="226.4" cy="444" r="0.8" fill="#3b47b6"/><circle cx="226.1" cy="444.7" r="1" fill="#3b47b6"/><circle cx="220.4" cy="465.2" r="0.8" fill="#3b47b6"/><circle cx="221.2" cy="465.8" r="1" fill="#3b47b6"/><circle cx="221" cy="467.1" r="0.8" fill="#3b47b6"/><circle cx="250" cy="452.3" r="1" fill="#3b47b6"/><circle cx="250.6" cy="453.1" r="0.9" fill="#3b47b6"/><circle cx="250.3" cy="452.6" r="1" fill="#3b47b6"/><circle cx="251.3" cy="453.8" r="1" fill="#3b47b6"/><circle cx="251.3" cy="454.9" r="0.7" fill="#3b47b6"/><circle cx="260.8" cy="442.8" r="0.8" fill="#3b47b6"/><circle cx="262" cy="442.4" r="0.9" fill="#3b47b6"/><circle cx="261.9" cy="443" r="1" fill="#3b47b6"/><circle cx="261.6" cy="444.5" r="1.1" fill="#3b47b6"/><circle cx="263.4" cy="444.3" r="1.1" fill="#3b47b6"/><circle cx="203.1" cy="466.4" r="0.8" fill="#3b47b6"/><circle cx="204.6" cy="467.1" r="0.8" fill="#3b47b6"/><circle cx="205.8" cy="466.6" r="0.8" fill="#3b47b6"/><circle cx="205.4" cy="467.7" r="0.7" fill="#3b47b6"/><circle cx="207" cy="468.1" r="0.7" fill="#3b47b6"/><circle cx="249.1" cy="413.4" r="0.7" fill="#3b47b6"/><circle cx="248.5" cy="413.9" r="0.9" fill="#3b47b6"/><circle cx="247.8" cy="413.4" r="0.8" fill="#3b47b6"/><circle cx="247" cy="413.6" r="0.7" fill="#3b47b6"/><circle cx="203.2" cy="458.5" r="0.9" fill="#3b47b6"/><circle cx="203.5" cy="459.2" r="0.9" fill="#3b47b6"/><circle cx="231.8" cy="466.4" r="1.1" fill="#3b47b6"/><circle cx="232.2" cy="467.4" r="0.8" fill="#3b47b6"/><circle cx="232.8" cy="467.8" r="0.8" fill="#3b47b6"/><circle cx="232.2" cy="469.3" r="0.9" fill="#3b47b6"/><circle cx="232.7" cy="469.1" r="0.7" fill="#3b47b6"/><circle cx="246.3" cy="435" r="0.9" fill="#3b47b6"/><circle cx="247.8" cy="434.9" r="0.9" fill="#3b47b6"/><circle cx="247.8" cy="435.4" r="1" fill="#3b47b6"/><circle cx="249.7" cy="435.1" r="0.9" fill="#3b47b6"/><circle cx="278.4" cy="439.6" r="1" fill="#3b47b6"/><circle cx="279.9" cy="440.3" r="0.7" fill="#3b47b6"/><circle cx="224" cy="449.8" r="1.1" fill="#3b47b6"/><circle cx="225.8" cy="450.1" r="0.7" fill="#3b47b6"/><circle cx="226.4" cy="450" r="0.9" fill="#3b47b6"/><circle cx="258.2" cy="446.1" r="1" fill="#3b47b6"/><circle cx="257.2" cy="447.1" r="0.9" fill="#3b47b6"/><circle cx="256.6" cy="446.5" r="0.7" fill="#3b47b6"/><circle cx="255.9" cy="447.3" r="0.9" fill="#3b47b6"/><circle cx="254.7" cy="447.2" r="0.7" fill="#3b47b6"/><circle cx="254.8" cy="461.2" r="0.7" fill="#3b47b6"/><circle cx="255.2" cy="461.6" r="0.7" fill="#3b47b6"/><circle cx="254" cy="463.5" r="0.8" fill="#3b47b6"/><circle cx="254.5" cy="462.9" r="0.8" fill="#3b47b6"/><circle cx="236.7" cy="415.9" r="1" fill="#3b47b6"/><circle cx="236.5" cy="415.4" r="1.1" fill="#3b47b6"/><circle cx="209.7" cy="444" r="0.9" fill="#3b47b6"/><circle cx="210" cy="445.3" r="0.8" fill="#3b47b6"/><circle cx="209.2" cy="444.8" r="0.8" fill="#3b47b6"/><circle cx="208.6" cy="445.1" r="0.7" fill="#3b47b6"/><circle cx="208" cy="446.3" r="0.8" fill="#3b47b6"/><circle cx="251.6" cy="463.6" r="0.9" fill="#3b47b6"/><circle cx="252.3" cy="464.1" r="0.9" fill="#3b47b6"/><circle cx="250.8" cy="464.8" r="0.8" fill="#3b47b6"/><circle cx="260.9" cy="439.1" r="0.8" fill="#3b47b6"/><circle cx="259.1" cy="438.9" r="0.8" fill="#3b47b6"/><circle cx="259.2" cy="439.4" r="1" fill="#3b47b6"/><circle cx="240.6" cy="435" r="1" fill="#3b47b6"/><circle cx="239.2" cy="435.9" r="0.7" fill="#3b47b6"/><circle cx="238.6" cy="436.6" r="1" fill="#3b47b6"/><circle cx="238" cy="435.5" r="1.1" fill="#3b47b6"/><circle cx="237.9" cy="437" r="0.7" fill="#3b47b6"/><circle cx="248.7" cy="429.3" r="1" fill="#3b47b6"/><circle cx="248.3" cy="429.9" r="0.8" fill="#3b47b6"/><circle cx="248.7" cy="430.4" r="1.1" fill="#3b47b6"/><circle cx="227.3" cy="408.8" r="0.7" fill="#3b47b6"/><circle cx="226.4" cy="409.3" r="1.1" fill="#3b47b6"/><circle cx="226.3" cy="411" r="0.7" fill="#3b47b6"/><circle cx="234.6" cy="460.6" r="0.9" fill="#3b47b6"/><circle cx="234.4" cy="462.4" r="1" fill="#3b47b6"/><circle cx="235.5" cy="462.6" r="0.7" fill="#3b47b6"/><circle cx="236.5" cy="463.6" r="1" fill="#3b47b6"/><circle cx="235.6" cy="464.5" r="0.8" fill="#3b47b6"/><circle cx="260.2" cy="426.8" r="1.1" fill="#3b47b6"/><circle cx="258.9" cy="427.8" r="0.8" fill="#3b47b6"/><circle cx="252.1" cy="452.9" r="0.9" fill="#3b47b6"/><circle cx="252.7" cy="453.6" r="1" fill="#3b47b6"/><circle cx="253.6" cy="452.5" r="0.8" fill="#3b47b6"/><circle cx="199.6" cy="468.5" r="1.1" fill="#3b47b6"/><circle cx="200.9" cy="468.5" r="1.1" fill="#3b47b6"/><circle cx="200.6" cy="468.3" r="1" fill="#3b47b6"/><circle cx="201.9" cy="468.7" r="0.9" fill="#3b47b6"/><circle cx="203.6" cy="469.8" r="0.8" fill="#3b47b6"/><circle cx="202" cy="412.2" r="0.9" fill="#3b47b6"/><circle cx="202.9" cy="412.6" r="0.7" fill="#3b47b6"/><circle cx="204.2" cy="412.3" r="0.9" fill="#3b47b6"/><circle cx="205" cy="413.3" r="0.7" fill="#3b47b6"/><circle cx="205.5" cy="413" r="0.7" fill="#3b47b6"/><circle cx="215.8" cy="464.4" r="0.7" fill="#3b47b6"/><circle cx="216.2" cy="465.3" r="0.8" fill="#3b47b6"/><circle cx="226" cy="434" r="0.7" fill="#3b47b6"/><circle cx="240.2" cy="415.5" r="0.5" fill="#3b47b6"/><circle cx="260.4" cy="450.8" r="0.7" fill="#3b47b6"/><circle cx="281.4" cy="442.3" r="0.5" fill="#3b47b6"/><circle cx="236.8" cy="456.6" r="0.5" fill="#3b47b6"/><circle cx="229.8" cy="415.5" r="0.6" fill="#3b47b6"/><circle cx="235.8" cy="451.4" r="0.7" fill="#3b47b6"/><circle cx="278.6" cy="449.4" r="0.5" fill="#3b47b6"/><circle cx="237.6" cy="422.9" r="0.7" fill="#3b47b6"/><circle cx="263.8" cy="463.1" r="0.7" fill="#3b47b6"/><circle cx="201.3" cy="456" r="0.6" fill="#3b47b6"/><circle cx="261.5" cy="407.1" r="0.5" fill="#3b47b6"/><circle cx="276.2" cy="415.5" r="0.5" fill="#3b47b6"/><circle cx="207.5" cy="450.8" r="0.7" fill="#3b47b6"/><circle cx="196.7" cy="410.1" r="0.6" fill="#3b47b6"/><circle cx="204.3" cy="458.2" r="0.6" fill="#3b47b6"/><circle cx="222.8" cy="426.6" r="0.5" fill="#3b47b6"/><circle cx="238.1" cy="427.6" r="0.5" fill="#3b47b6"/><circle cx="241.9" cy="454" r="0.5" fill="#3b47b6"/><circle cx="205.6" cy="468.7" r="0.7" fill="#3b47b6"/><circle cx="232.7" cy="423.5" r="0.7" fill="#3b47b6"/><circle cx="196.5" cy="440.6" r="0.5" fill="#3b47b6"/><circle cx="212.5" cy="429.8" r="0.5" fill="#3b47b6"/><circle cx="248.5" cy="417.5" r="0.7" fill="#3b47b6"/><circle cx="218.2" cy="445.6" r="0.6" fill="#3b47b6"/><circle cx="207.5" cy="455.7" r="0.6" fill="#3b47b6"/><circle cx="232.2" cy="428.3" r="0.6" fill="#3b47b6"/><circle cx="214.8" cy="445" r="0.5" fill="#3b47b6"/><circle cx="199.3" cy="449.5" r="0.5" fill="#3b47b6"/><circle cx="235.9" cy="438.3" r="0.5" fill="#3b47b6"/><circle cx="206" cy="461.1" r="0.7" fill="#3b47b6"/><circle cx="213" cy="407.2" r="0.7" fill="#3b47b6"/><circle cx="215.5" cy="451.9" r="0.6" fill="#3b47b6"/><circle cx="235.2" cy="419.9" r="0.7" fill="#3b47b6"/><circle cx="221.3" cy="439.9" r="0.7" fill="#3b47b6"/><rect x="266.9" y="468.3" width="12.5" height="1.3" fill="#111"/><rect x="284.4" y="406.1" width="87.5" height="65.5" fill="#9697b0" filter="url(#fSpk)"/><circle cx="353.4" cy="456.7" r="0.9" fill="#3b47b6"/><circle cx="354.3" cy="458.2" r="0.8" fill="#3b47b6"/><circle cx="352.2" cy="458.4" r="0.7" fill="#3b47b6"/><circle cx="352.9" cy="459.6" r="0.9" fill="#3b47b6"/><circle cx="351.1" cy="459.6" r="1" fill="#3b47b6"/><circle cx="347.7" cy="447.8" r="1" fill="#3b47b6"/><circle cx="347.7" cy="448.8" r="0.7" fill="#3b47b6"/><circle cx="300.6" cy="447.3" r="1" fill="#3b47b6"/><circle cx="302.8" cy="446.9" r="1" fill="#3b47b6"/><circle cx="302.4" cy="447.3" r="1.1" fill="#3b47b6"/><circle cx="304.3" cy="447.4" r="1.1" fill="#3b47b6"/><circle cx="338.3" cy="420.9" r="1" fill="#3b47b6"/><circle cx="338.6" cy="421.6" r="0.9" fill="#3b47b6"/><circle cx="338.8" cy="422.3" r="0.9" fill="#3b47b6"/><circle cx="338.9" cy="423" r="1" fill="#3b47b6"/><circle cx="340.3" cy="423.4" r="1" fill="#3b47b6"/><circle cx="287.3" cy="426.8" r="1" fill="#3b47b6"/><circle cx="287.5" cy="427.3" r="0.9" fill="#3b47b6"/><circle cx="288.6" cy="427.9" r="0.8" fill="#3b47b6"/><circle cx="288.6" cy="428.7" r="0.9" fill="#3b47b6"/><circle cx="360.7" cy="434.3" r="1" fill="#3b47b6"/><circle cx="359.9" cy="434.2" r="1" fill="#3b47b6"/><circle cx="359" cy="435.3" r="1" fill="#3b47b6"/><circle cx="358.2" cy="435" r="0.7" fill="#3b47b6"/><circle cx="358.3" cy="436" r="0.8" fill="#3b47b6"/><circle cx="326.4" cy="464.9" r="0.9" fill="#3b47b6"/><circle cx="325.1" cy="465.4" r="0.9" fill="#3b47b6"/><circle cx="324.5" cy="465.1" r="0.9" fill="#3b47b6"/><circle cx="323.3" cy="465" r="0.7" fill="#3b47b6"/><circle cx="361.6" cy="444.8" r="1" fill="#3b47b6"/><circle cx="362.9" cy="445.2" r="0.7" fill="#3b47b6"/><circle cx="362.6" cy="445.5" r="0.7" fill="#3b47b6"/><circle cx="363.5" cy="446.3" r="1" fill="#3b47b6"/><circle cx="316.8" cy="465.2" r="0.7" fill="#3b47b6"/><circle cx="317.1" cy="466.3" r="0.9" fill="#3b47b6"/><circle cx="291.5" cy="421.1" r="0.9" fill="#3b47b6"/><circle cx="291.8" cy="421.9" r="0.7" fill="#3b47b6"/><circle cx="292.1" cy="422.6" r="0.9" fill="#3b47b6"/><circle cx="293.7" cy="423.3" r="1" fill="#3b47b6"/><circle cx="296.5" cy="458.5" r="1" fill="#3b47b6"/><circle cx="297.3" cy="459.3" r="0.7" fill="#3b47b6"/><circle cx="340.7" cy="458.5" r="0.9" fill="#3b47b6"/><circle cx="339.7" cy="458.6" r="0.7" fill="#3b47b6"/><circle cx="339.7" cy="459.3" r="0.8" fill="#3b47b6"/><circle cx="364.6" cy="411.9" r="1.1" fill="#3b47b6"/><circle cx="363.6" cy="412" r="1" fill="#3b47b6"/><circle cx="365.1" cy="413.3" r="0.7" fill="#3b47b6"/><circle cx="364.9" cy="413.7" r="0.7" fill="#3b47b6"/><circle cx="369.8" cy="453.5" r="1" fill="#3b47b6"/><circle cx="368.9" cy="454.9" r="0.9" fill="#3b47b6"/><circle cx="369.1" cy="454.8" r="0.7" fill="#3b47b6"/><circle cx="329.2" cy="409.3" r="1" fill="#3b47b6"/><circle cx="330" cy="410.5" r="1" fill="#3b47b6"/><circle cx="330.5" cy="409.6" r="1" fill="#3b47b6"/><circle cx="350.4" cy="468.2" r="0.8" fill="#3b47b6"/><circle cx="349.4" cy="469.1" r="0.8" fill="#3b47b6"/><circle cx="370.7" cy="441.5" r="0.8" fill="#3b47b6"/><circle cx="370.2" cy="442.4" r="0.7" fill="#3b47b6"/><circle cx="369.6" cy="442.1" r="0.7" fill="#3b47b6"/><circle cx="290.2" cy="454.3" r="0.9" fill="#3b47b6"/><circle cx="289" cy="454.3" r="0.8" fill="#3b47b6"/><circle cx="348" cy="450.1" r="0.7" fill="#3b47b6"/><circle cx="350" cy="450.1" r="1.1" fill="#3b47b6"/><circle cx="350.5" cy="449.9" r="1" fill="#3b47b6"/><circle cx="350.2" cy="451.2" r="1.1" fill="#3b47b6"/><circle cx="321.2" cy="450.7" r="1" fill="#3b47b6"/><circle cx="322.2" cy="450.4" r="0.9" fill="#3b47b6"/><circle cx="321.5" cy="452.1" r="1" fill="#3b47b6"/><circle cx="322.8" cy="452.8" r="1" fill="#3b47b6"/><circle cx="351.3" cy="412.7" r="1" fill="#3b47b6"/><circle cx="351.1" cy="414.2" r="0.8" fill="#3b47b6"/><circle cx="341.4" cy="466.5" r="0.7" fill="#3b47b6"/><circle cx="343.5" cy="466.8" r="0.9" fill="#3b47b6"/><circle cx="343.3" cy="467.2" r="0.8" fill="#3b47b6"/><circle cx="343.9" cy="468.9" r="0.8" fill="#3b47b6"/><circle cx="337.5" cy="442" r="0.7" fill="#3b47b6"/><circle cx="337.6" cy="441.9" r="0.7" fill="#3b47b6"/><circle cx="335.7" cy="443.4" r="0.7" fill="#3b47b6"/><circle cx="335.1" cy="442.3" r="0.8" fill="#3b47b6"/><circle cx="334.8" cy="443.6" r="1" fill="#3b47b6"/><circle cx="333.3" cy="455.9" r="1.1" fill="#3b47b6"/><circle cx="332.6" cy="457.4" r="0.8" fill="#3b47b6"/><circle cx="330.9" cy="456.6" r="0.8" fill="#3b47b6"/><circle cx="357.9" cy="429.8" r="0.9" fill="#3b47b6"/><circle cx="357.4" cy="430.6" r="0.7" fill="#3b47b6"/><circle cx="321.6" cy="453.3" r="1" fill="#3b47b6"/><circle cx="320.8" cy="453.8" r="1.1" fill="#3b47b6"/><circle cx="321.3" cy="455" r="1" fill="#3b47b6"/><circle cx="339.3" cy="456.7" r="0.9" fill="#3b47b6"/><circle cx="341.4" cy="457.7" r="0.9" fill="#3b47b6"/><circle cx="351.5" cy="455.4" r="0.7" fill="#3b47b6"/><circle cx="351.5" cy="455.9" r="1" fill="#3b47b6"/><circle cx="307.8" cy="466.7" r="0.9" fill="#3b47b6"/><circle cx="306.3" cy="467.3" r="0.9" fill="#3b47b6"/><circle cx="307.1" cy="467.9" r="1" fill="#3b47b6"/><circle cx="366.2" cy="446.6" r="0.7" fill="#3b47b6"/><circle cx="368.3" cy="446.5" r="0.7" fill="#3b47b6"/><circle cx="308.9" cy="452.9" r="0.6" fill="#3b47b6"/><circle cx="338.7" cy="413.6" r="0.7" fill="#3b47b6"/><circle cx="317.3" cy="460" r="0.5" fill="#3b47b6"/><circle cx="342.5" cy="436.9" r="0.6" fill="#3b47b6"/><circle cx="287.1" cy="440.9" r="0.7" fill="#3b47b6"/><circle cx="294.3" cy="435.4" r="0.5" fill="#3b47b6"/><circle cx="370.4" cy="468.7" r="0.7" fill="#3b47b6"/><circle cx="326.4" cy="411.6" r="0.5" fill="#3b47b6"/><circle cx="345.7" cy="457.6" r="0.7" fill="#3b47b6"/><circle cx="359.1" cy="434.9" r="0.5" fill="#3b47b6"/><circle cx="331.7" cy="429.1" r="0.6" fill="#3b47b6"/><circle cx="361" cy="435.9" r="0.7" fill="#3b47b6"/><circle cx="346.8" cy="410" r="0.7" fill="#3b47b6"/><circle cx="342" cy="446.6" r="0.5" fill="#3b47b6"/><circle cx="360.5" cy="438.6" r="0.6" fill="#3b47b6"/><circle cx="300" cy="409.4" r="0.5" fill="#3b47b6"/><circle cx="303.3" cy="426.4" r="0.5" fill="#3b47b6"/><circle cx="290.4" cy="453.3" r="0.7" fill="#3b47b6"/><circle cx="360.8" cy="420.9" r="0.7" fill="#3b47b6"/><circle cx="336.2" cy="412.8" r="0.7" fill="#3b47b6"/><circle cx="315.9" cy="418.8" r="0.5" fill="#3b47b6"/><circle cx="364.4" cy="421.1" r="0.6" fill="#3b47b6"/><circle cx="332.2" cy="429.9" r="0.6" fill="#3b47b6"/><circle cx="292.9" cy="434.4" r="0.6" fill="#3b47b6"/><circle cx="338.3" cy="445.8" r="0.5" fill="#3b47b6"/><circle cx="340" cy="468.8" r="0.6" fill="#3b47b6"/><circle cx="340.5" cy="460.2" r="0.5" fill="#3b47b6"/><circle cx="308.1" cy="468.7" r="0.5" fill="#3b47b6"/><circle cx="321.8" cy="430.7" r="0.7" fill="#3b47b6"/><circle cx="332" cy="464" r="0.5" fill="#3b47b6"/><circle cx="309.1" cy="448.4" r="0.5" fill="#3b47b6"/><circle cx="342.1" cy="439.3" r="0.5" fill="#3b47b6"/><circle cx="295" cy="435" r="0.6" fill="#3b47b6"/><circle cx="300.5" cy="423.8" r="0.5" fill="#3b47b6"/><circle cx="308.1" cy="426.7" r="0.6" fill="#3b47b6"/><circle cx="336.1" cy="461.2" r="0.7" fill="#3b47b6"/><circle cx="348.7" cy="425.1" r="0.6" fill="#3b47b6"/><circle cx="347.5" cy="463.9" r="0.5" fill="#3b47b6"/><circle cx="286.7" cy="410.3" r="0.6" fill="#3b47b6"/><circle cx="360" cy="416.8" r="0.7" fill="#3b47b6"/><rect x="356.4" y="468.3" width="12.5" height="1.3" fill="#111"/><rect x="194.1" y="491.1" width="88.3" height="65.6" fill="#a2a2b0" filter="url(#fSpk)"/><circle cx="223.8" cy="503.1" r="2.1" fill="#9fabdc" fill-opacity="0.55"/><circle cx="203.1" cy="526" r="1.7" fill="#9fabdc" fill-opacity="0.55"/><circle cx="201.9" cy="524.3" r="1.3" fill="#9fabdc" fill-opacity="0.55"/><circle cx="232.8" cy="498.3" r="1.3" fill="#9fabdc" fill-opacity="0.55"/><circle cx="232" cy="543.4" r="1.4" fill="#9fabdc" fill-opacity="0.55"/><circle cx="215.5" cy="531.5" r="2.5" fill="#9fabdc" fill-opacity="0.55"/><circle cx="244.6" cy="517.7" r="2.6" fill="#9fabdc" fill-opacity="0.55"/><circle cx="200.9" cy="545.3" r="1.6" fill="#9fabdc" fill-opacity="0.55"/><circle cx="209" cy="501.1" r="1.6" fill="#9fabdc" fill-opacity="0.55"/><circle cx="264.3" cy="504.9" r="2" fill="#9fabdc" fill-opacity="0.55"/><circle cx="249.7" cy="516.3" r="2" fill="#9fabdc" fill-opacity="0.55"/><circle cx="202.3" cy="497.7" r="1.5" fill="#9fabdc" fill-opacity="0.55"/><circle cx="253.1" cy="519.6" r="1.6" fill="#9fabdc" fill-opacity="0.55"/><circle cx="245.3" cy="521.1" r="1.6" fill="#9fabdc" fill-opacity="0.55"/><circle cx="262.5" cy="535.8" r="1.5" fill="#9fabdc" fill-opacity="0.55"/><circle cx="244.4" cy="525.4" r="2.4" fill="#9fabdc" fill-opacity="0.55"/><circle cx="257.1" cy="511.3" r="2.6" fill="#9fabdc" fill-opacity="0.55"/><circle cx="206.8" cy="519" r="2.3" fill="#9fabdc" fill-opacity="0.55"/><circle cx="209.6" cy="523.2" r="1.3" fill="#9fabdc" fill-opacity="0.55"/><circle cx="252.1" cy="539.7" r="2" fill="#9fabdc" fill-opacity="0.55"/><circle cx="269.2" cy="512.8" r="2.2" fill="#9fabdc" fill-opacity="0.55"/><circle cx="246" cy="528.7" r="1.8" fill="#9fabdc" fill-opacity="0.55"/><circle cx="266.2" cy="550.4" r="1.9" fill="#9fabdc" fill-opacity="0.55"/><circle cx="251.8" cy="497.7" r="2.2" fill="#9fabdc" fill-opacity="0.55"/><circle cx="250.9" cy="555.3" r="0.7" fill="#3b47b6"/><circle cx="219.7" cy="516.6" r="0.7" fill="#3b47b6"/><circle cx="197" cy="521.5" r="0.5" fill="#3b47b6"/><circle cx="206.4" cy="497.7" r="0.8" fill="#4a5ac8" fill-opacity="0.85"/><circle cx="208.6" cy="497.2" r="0.8" fill="#4a5ac8" fill-opacity="0.85"/><circle cx="207.7" cy="499.6" r="1" fill="#4a5ac8" fill-opacity="0.85"/><circle cx="268.9" cy="511.7" r="0.8" fill="#4a5ac8" fill-opacity="0.85"/><circle cx="266.7" cy="509.9" r="0.7" fill="#4a5ac8" fill-opacity="0.85"/><circle cx="268" cy="509.7" r="1" fill="#4a5ac8" fill-opacity="0.85"/><rect x="266.9" y="553.4" width="12.5" height="1.3" fill="#111"/><rect x="284.4" y="491.1" width="87.5" height="65.6" fill="#a2a2b0" filter="url(#fSpk)"/><circle cx="305.9" cy="551.5" r="1.4" fill="#9fabdc" fill-opacity="0.55"/><circle cx="344.8" cy="499.2" r="1.5" fill="#9fabdc" fill-opacity="0.55"/><circle cx="368.8" cy="506.6" r="2.1" fill="#9fabdc" fill-opacity="0.55"/><circle cx="324.8" cy="521.1" r="1.9" fill="#9fabdc" fill-opacity="0.55"/><circle cx="303.1" cy="543.6" r="1.3" fill="#9fabdc" fill-opacity="0.55"/><circle cx="306.5" cy="495.3" r="1.6" fill="#9fabdc" fill-opacity="0.55"/><circle cx="320.6" cy="547.9" r="1.7" fill="#9fabdc" fill-opacity="0.55"/><circle cx="296.7" cy="509.5" r="2.6" fill="#9fabdc" fill-opacity="0.55"/><circle cx="292.5" cy="531.1" r="1.7" fill="#9fabdc" fill-opacity="0.55"/><circle cx="341.3" cy="514.3" r="2.2" fill="#9fabdc" fill-opacity="0.55"/><circle cx="328" cy="532.8" r="2.5" fill="#9fabdc" fill-opacity="0.55"/><circle cx="334.8" cy="502.6" r="1.3" fill="#9fabdc" fill-opacity="0.55"/><circle cx="364.5" cy="523.2" r="1.5" fill="#9fabdc" fill-opacity="0.55"/><circle cx="364.5" cy="528.6" r="2.2" fill="#9fabdc" fill-opacity="0.55"/><circle cx="361.3" cy="509.4" r="0.9" fill="#3b47b6"/><circle cx="360.7" cy="510" r="0.8" fill="#3b47b6"/><circle cx="360.2" cy="510.7" r="0.9" fill="#3b47b6"/><circle cx="358.9" cy="510.8" r="0.8" fill="#3b47b6"/><circle cx="341.4" cy="541.5" r="0.7" fill="#3b47b6"/><circle cx="340.3" cy="542.1" r="0.8" fill="#3b47b6"/><circle cx="341.8" cy="543.1" r="0.9" fill="#3b47b6"/><circle cx="295.9" cy="549.8" r="0.7" fill="#3b47b6"/><circle cx="296.5" cy="550.3" r="0.7" fill="#3b47b6"/><circle cx="322.6" cy="506.8" r="0.6" fill="#3b47b6"/><circle cx="323.5" cy="518.7" r="0.6" fill="#3b47b6"/><circle cx="310.1" cy="498.1" r="0.5" fill="#3b47b6"/><circle cx="294.5" cy="525.2" r="0.6" fill="#3b47b6"/><circle cx="354.5" cy="524.2" r="0.7" fill="#3b47b6"/><circle cx="369.2" cy="496.1" r="0.5" fill="#3b47b6"/><circle cx="297.4" cy="516.7" r="0.6" fill="#3b47b6"/><circle cx="349" cy="514.5" r="0.7" fill="#3b47b6"/><circle cx="287.3" cy="543.6" r="1" fill="#4a5ac8" fill-opacity="0.85"/><circle cx="289.7" cy="544.2" r="1" fill="#4a5ac8" fill-opacity="0.85"/><circle cx="301.9" cy="513.3" r="0.9" fill="#4a5ac8" fill-opacity="0.85"/><circle cx="302.1" cy="514.5" r="0.7" fill="#4a5ac8" fill-opacity="0.85"/><circle cx="300.9" cy="514.8" r="0.8" fill="#4a5ac8" fill-opacity="0.85"/><circle cx="297.2" cy="521.7" r="0.9" fill="#4a5ac8" fill-opacity="0.85"/><circle cx="299.4" cy="520.3" r="0.6" fill="#4a5ac8" fill-opacity="0.85"/><circle cx="297.1" cy="519.2" r="0.7" fill="#4a5ac8" fill-opacity="0.85"/><circle cx="297" cy="520.7" r="1.1" fill="#4a5ac8" fill-opacity="0.85"/><circle cx="339.3" cy="544.3" r="1" fill="#4a5ac8" fill-opacity="0.85"/><circle cx="340.5" cy="543.5" r="0.7" fill="#4a5ac8" fill-opacity="0.85"/><circle cx="339.7" cy="542.9" r="1" fill="#4a5ac8" fill-opacity="0.85"/><circle cx="340.9" cy="541.4" r="0.9" fill="#4a5ac8" fill-opacity="0.85"/><circle cx="359.8" cy="537.3" r="0.9" fill="#4a5ac8" fill-opacity="0.85"/><circle cx="362.1" cy="537.5" r="1.1" fill="#4a5ac8" fill-opacity="0.85"/><circle cx="361.7" cy="538" r="0.9" fill="#4a5ac8" fill-opacity="0.85"/><circle cx="364.9" cy="539" r="0.8" fill="#4a5ac8" fill-opacity="0.85"/><circle cx="364.1" cy="540.5" r="1.1" fill="#4a5ac8" fill-opacity="0.85"/><circle cx="363.6" cy="539.9" r="0.8" fill="#4a5ac8" fill-opacity="0.85"/><circle cx="362.1" cy="526.2" r="0.9" fill="#4a5ac8" fill-opacity="0.85"/><circle cx="361" cy="525" r="0.8" fill="#4a5ac8" fill-opacity="0.85"/><circle cx="361.5" cy="526.3" r="0.7" fill="#4a5ac8" fill-opacity="0.85"/><circle cx="360.2" cy="526" r="0.7" fill="#4a5ac8" fill-opacity="0.85"/><rect x="356.4" y="553.4" width="12.5" height="1.3" fill="#111"/>
<text x="49" y="402.4" font-size="8.3" text-anchor="middle" fill="#1a1a1a">MKN45-mock</text>
<text x="138.3" y="402.4" font-size="8.3" text-anchor="middle" fill="#1a1a1a">MKN45-NDUFS1</text>
<text x="238.3" y="402.4" font-size="8.3" text-anchor="middle" fill="#1a1a1a">MKN45-mock</text>
<text x="327.3" y="402.4" font-size="8.3" text-anchor="middle" fill="#1a1a1a">MKN45-NDUFS1</text>
<text x="48.8" y="488.3" font-size="8.3" text-anchor="middle" fill="#1a1a1a">N87-shcontrol</text>
<text x="138" y="488.3" font-size="8.3" text-anchor="middle" fill="#1a1a1a">N87-shNDUFS1</text>
<text x="238.8" y="488.3" font-size="8.3" text-anchor="middle" fill="#1a1a1a">N87-shcontrol</text>
<text x="327.3" y="488.3" font-size="8.3" text-anchor="middle" fill="#1a1a1a">N87-shNDUFS1</text>
<text x="383.9" y="400.5" font-size="14" text-anchor="start" font-weight="bold" fill="#000">h</text>
<defs><filter id="fLung" x="0" y="0" width="100%" height="100%" color-interpolation-filters="sRGB"><feTurbulence type="fractalNoise" baseFrequency="1.7" numOctaves="2" seed="11" result="n"/><feColorMatrix in="n" type="matrix" values="0 0 0 0 1  0 0 0 0 1  0 0 0 0 1  10 0 0 0 -5.5" result="h0"/><feComponentTransfer in="h0" result="holes"><feFuncA type="linear" slope="0.45"/></feComponentTransfer><feComposite in="holes" in2="SourceGraphic" operator="atop"/></filter><filter id="fLungB" x="0" y="0" width="100%" height="100%" color-interpolation-filters="sRGB"><feTurbulence type="fractalNoise" baseFrequency="1.7" numOctaves="2" seed="12" result="n"/><feColorMatrix in="n" type="matrix" values="0 0 0 0 1  0 0 0 0 1  0 0 0 0 1  10 0 0 0 -5.3" result="h0"/><feComponentTransfer in="h0" result="holes"><feFuncA type="linear" slope="0.5"/></feComponentTransfer><feComposite in="holes" in2="SourceGraphic" operator="atop"/></filter><filter id="fIns" x="0" y="0" width="100%" height="100%" color-interpolation-filters="sRGB"><feTurbulence type="fractalNoise" baseFrequency="1.13" numOctaves="2" seed="13" result="n"/><feColorMatrix in="n" type="matrix" values="0 0 0 0 1  0 0 0 0 1  0 0 0 0 1  10 0 0 0 -5.15" result="h0"/><feComponentTransfer in="h0" result="holes"><feFuncA type="linear" slope="0.9"/></feComponentTransfer><feComposite in="holes" in2="SourceGraphic" operator="atop"/></filter><filter id="fTum" x="0" y="0" width="100%" height="100%" color-interpolation-filters="sRGB"><feTurbulence type="fractalNoise" baseFrequency="1.3" numOctaves="2" seed="15" result="n"/><feColorMatrix in="n" type="matrix" values="0 0 0 0 1  0 0 0 0 1  0 0 0 0 1  10 0 0 0 -5.6" result="h0"/><feComponentTransfer in="h0" result="holes"><feFuncA type="linear" slope="0.5"/></feComponentTransfer><feComposite in="holes" in2="SourceGraphic" operator="atop"/></filter><filter id="fInsC" x="0" y="0" width="100%" height="100%" color-interpolation-filters="sRGB"><feTurbulence type="fractalNoise" baseFrequency="1.13" numOctaves="2" seed="14" result="n"/><feColorMatrix in="n" type="matrix" values="0 0 0 0 1  0 0 0 0 1  0 0 0 0 1  10 0 0 0 -4.9" result="h0"/><feComponentTransfer in="h0" result="holes"><feFuncA type="linear" slope="0.95"/></feComponentTransfer><feComposite in="holes" in2="SourceGraphic" operator="atop"/></filter></defs><path d="M461.1 424.4 L465.2 422.4 L469.3 422.6 L470.3 424.9 L467.3 427 L470.3 430.5 L475.4 434.6 L479.5 437.7 L482.6 440.8 L484.6 444.9 L485.7 448.9 L484.1 453 L481.6 456.1 L480.5 460.2 L481.8 466.3 L479.5 467.5 L474.4 464.8 L469.3 458.6 L465.2 451.5 L461.1 442.3 L459.6 434.1 L459.9 427.5Z" fill="#d2a6d8" filter="url(#fLung)"/><path d="M477 412.2 L481.6 410.1 L485.7 413.2 L493.8 414.7 L501 417.3 L508.1 422.4 L512.2 427.5 L515.3 434.6 L516.6 443.8 L515.5 452 L513.5 458.1 L511 462.2 L508.3 458.1 L509.2 452 L507.9 445.9 L505.6 440.3 L503 435.7 L500 431.8 L495.9 430 L492 429.5 L488.7 431.8 L486.9 429.5 L484.8 424.4 L481.8 419.3 L478.7 417.1 L476.5 415.2Z" fill="#d2a6d8" filter="url(#fLung)"/><path d="M484.6 434.6 L488.7 430.5 L493.8 429.5 L500 431.4 L504.6 436.7 L507.6 445.9 L508.6 453 L507.3 459.2 L503 458.1 L498.9 456.1 L495.9 452 L491.8 450 L487.7 447.9 L485.1 443.8Z" fill="#d2a6d8" filter="url(#fLung)"/><path d="M484.6 456.1 L488.7 453 L493.8 451.5 L498.9 453.8 L503 458.6 L506.1 462.7 L506.6 467.5 L503.8 470.4 L497.9 470.6 L493.8 468.6 L491.3 465.3 L488.2 462.2 L485.1 460.2Z" fill="#d2a6d8" filter="url(#fLung)"/><polyline points="492.3,430.5 495.4,438.7 497.4,447.9" fill="none" stroke="#fff" stroke-width="1.0" stroke-opacity="0.9"/><polyline points="497.9,434.6 501,441.8 503,451" fill="none" stroke="#fff" stroke-width="0.8" stroke-opacity="0.9"/><polyline points="506.6,431.6 508.6,443.8 510.2,460.2" fill="none" stroke="#fff" stroke-width="1.1" stroke-opacity="0.9"/><polyline points="488.7,435.7 491.8,441.8 493.8,448.9" fill="none" stroke="#fff" stroke-width="0.6" stroke-opacity="0.9"/><polyline points="485.7,451 488.7,453 491.8,452" fill="none" stroke="#fff" stroke-width="0.9" stroke-opacity="0.9"/><ellipse cx="480.5" cy="414.2" rx="4.4" ry="4.1" fill="#ad80c6"/><ellipse cx="511.5" cy="436" rx="2.4" ry="4.2" fill="#ad88cc"/><ellipse cx="510" cy="444" rx="1.7" ry="1.9" fill="#ad88cc"/><circle cx="492.8" cy="443.3" r="1.2" fill="#6b5bb0"/><circle cx="488.7" cy="439.7" r="1" fill="#e07aa8" fill-opacity="0.6"/><circle cx="495.9" cy="425.4" r="1" fill="#e07aa8" fill-opacity="0.6"/><circle cx="476.5" cy="456.1" r="1" fill="#e07aa8" fill-opacity="0.6"/><circle cx="500" cy="462.2" r="1" fill="#e07aa8" fill-opacity="0.6"/><circle cx="487.7" cy="458.1" r="1" fill="#e07aa8" fill-opacity="0.6"/><path d="M532.2 428.5 L536.3 423.4 L542.4 418.3 L548.6 415.7 L554.7 415.2 L559.8 416.8 L561.3 422.4 L560.8 428.5 L559.8 433.6 L555.7 434.6 L549.6 432.6 L544.5 432.6 L538.3 433.6 L534.3 432.6 L532.2 430.5Z" fill="#d2a6d8" filter="url(#fLung)"/><path d="M561.3 415.2 L565.9 416.2 L571 420.3 L577.2 423.4 L580.8 426.5 L577.2 428 L571 427 L565.9 426.5 L562.9 424.4 L560.8 419.3Z" fill="#d2a6d8" filter="url(#fLung)"/><path d="M565.9 431.6 L571 429.5 L577.2 429 L583.3 430.5 L586.4 434.6 L587.4 440.8 L585.4 447.9 L581.3 452 L579.2 452 L578.2 447.9 L573.1 445.9 L568 443.8 L564.9 438.7 L567 435.7Z" fill="#d2a6d8" filter="url(#fLung)"/><path d="M530.7 440.3 L538.3 439.9 L546.5 440.8 L554.7 442.8 L561.9 445.4 L564.9 447.9 L560.8 448.9 L552.7 447.9 L545.5 445.9 L538.3 444.9 L532.2 443.3Z" fill="#d2a6d8" filter="url(#fLung)"/><path d="M526.1 449.5 L531.2 447.9 L538.3 447.4 L545.5 448.4 L552.7 450 L560.8 451 L568 453 L575.1 455.1 L578.2 458.1 L575.1 461.2 L569 462.2 L562.9 462.7 L555.7 461.7 L548.6 460.2 L542.4 459.2 L537.3 457.1 L532.2 454Z" fill="#d2a6d8" filter="url(#fLung)"/><path d="M555.7 435.7 L560.8 434.6 L564.9 438.7 L567 443.8 L564.9 447.9 L560.8 445.9 L556.7 441.8Z" fill="#d2a6d8" filter="url(#fLung)"/><line x1="545.5" y1="429.5" x2="554.7" y2="431.6" stroke="#e27fa2" stroke-width="0.9"/><line x1="560.8" y1="438.7" x2="568" y2="445.9" stroke="#e27fa2" stroke-width="0.9"/><line x1="552.7" y1="451" x2="560.8" y2="453" stroke="#e27fa2" stroke-width="0.9"/><line x1="564.9" y1="436.7" x2="570" y2="438.7" stroke="#e27fa2" stroke-width="0.9"/><ellipse cx="536.8" cy="454" rx="1.8" ry="1.4" fill="#9b82c8"/><path d="M466.2 498.4 L470.3 494.3 L475.4 489.2 L482.5 487.7 L489.7 487.2 L494.8 487.7 L497.9 490.3 L497.3 498.4 L496.8 503.5 L493.3 508.7 L488.7 509.7 L482.5 508.7 L476.4 506.6 L470.3 504.6 L466.2 502.5Z" fill="#e2b8df" filter="url(#fLungB)"/><path d="M495.8 484.6 L500.9 484.6 L507 487.2 L513.2 490.3 L514.7 493.3 L519.3 499.5 L521.9 504.6 L520.3 511.7 L515.2 508.7 L510.1 506.6 L504 505.1 L500.9 502.5 L498.9 497.4 L497.9 491.3Z" fill="#e2b8df" filter="url(#fLungB)"/><path d="M495.8 507.6 L500.9 506.6 L505 508.7 L508.1 513.8 L511.1 520.9 L509.1 521.9 L505 518.9 L500.9 516.8 L497.9 512.7Z" fill="#e2b8df" filter="url(#fLungB)"/><path d="M471.3 518.9 L476.4 516.8 L484.6 517.3 L491.7 518.9 L496.8 519.9 L501.9 519.9 L506 523 L510.1 527 L513.7 531.1 L511.1 535.2 L505 536.2 L496.8 537.3 L488.7 536.8 L480.5 535.2 L474.3 532.2 L471.3 527 L470.8 523Z" fill="#e2b8df" filter="url(#fLungB)"/><circle cx="493.3" cy="513.8" r="2.7" fill="#d99ac9"/><path d="M540.8 485.7 L547.5 486.2 L555.7 487.2 L565.9 489.2 L574 492.3 L580.2 495.4 L583.8 498.4 L582.2 501.5 L578.1 503 L570 502.5 L561.8 501.5 L555.7 500.5 L549.5 499.5 L545.4 495.9 L542.4 491.3Z" fill="#cca6da" filter="url(#fLung)"/><path d="M561.8 508.7 L567.9 507.6 L574 507.6 L579.2 508.7 L576.1 511.7 L570 513.3 L563.8 511.7Z" fill="#cca6da" filter="url(#fLung)"/><path d="M530.1 513.3 L535.2 513.8 L541.3 515.8 L547.5 518.9 L551.6 521.9 L553.6 526 L549.5 526 L543.4 527 L536.2 525 L532.2 520.9 L529.6 515.8Z" fill="#cca6da" filter="url(#fLung)"/><path d="M553.6 515.8 L558.7 513.3 L563.8 513.3 L568.9 515.8 L574 517.9 L576.1 519.9 L572 521.9 L567.9 525 L563.8 526 L558.7 526 L555.7 521.9 L553.1 518.9Z" fill="#cca6da" filter="url(#fLung)"/><path d="M540.3 529.1 L545.4 528.1 L552.6 527 L558.7 528.1 L564.9 531.1 L562.8 533.2 L555.7 533.7 L548.5 534.2 L542.4 533.2 L539.8 531.1Z" fill="#cca6da" filter="url(#fLung)"/><ellipse cx="548.5" cy="508.5" rx="2.5" ry="2" fill="#c69dd6"/><ellipse cx="555.5" cy="507.5" rx="3.6" ry="2.6" fill="#c69dd6"/><rect x="391.4" y="411.6" width="55.9" height="56.6" fill="#fff"/><path d="M418.8 441.5 L424.2 437 L431.4 437.9 L435.5 434.2 L438.7 437 L446.9 437 L446.9 467.8 L420.6 467.8 L418.8 462.3 L417 455.1 L417 446.9Z" fill="#d086cb" filter="url(#fIns)"/><path d="M402.5 431.5 L406.1 426.1 L411.5 424.3 L419.7 424.3 L427.8 426.1 L433.2 429.7 L435.5 434.2 L431.4 437.9 L424.2 437 L418.8 441.5 L417 446.9 L417.9 451.4 L415.1 454.2 L409.7 454.2 L405.2 449.6 L402.5 443.3 L401.6 437Z" fill="#b07cc4" filter="url(#fTum)"/><path d="M404 432 C406 428 410 426 414 426" stroke="#fff" stroke-width="0.8" fill="none" opacity="0.8"/><rect x="434.2" y="463.5" width="9.5" height="1.4" fill="#111"/><rect x="601.2" y="411.8" width="56.1" height="55.9" fill="#fff"/><path d="M601.2 427 L609.8 424.3 L616.1 420.7 L622.4 414.3 L625.1 412.1 L657.3 412.1 L657.3 462.8 L648.7 460.5 L638.7 457.3 L625.1 452.3 L612.5 446 L605.2 441.5 L601.2 438.3Z" fill="#cc8ad3" filter="url(#fIns)"/><ellipse cx="629.7" cy="441.9" rx="6.3" ry="5" fill="#9f84cc" fill-opacity="0.9"/><ellipse cx="642" cy="419" rx="2.5" ry="2" fill="#e48aa8" fill-opacity="0.7"/><ellipse cx="648" cy="425" rx="2" ry="2" fill="#e48aa8" fill-opacity="0.6"/><ellipse cx="649" cy="437" rx="2" ry="1" fill="#e47a98" fill-opacity="0.7"/><rect x="644.2" y="463.5" width="9.5" height="1.4" fill="#111"/><rect x="391.2" y="476.1" width="56.3" height="56.1" fill="#fff"/><path d="M392.5 501.9 L394.3 492.8 L398.9 486.5 L406.1 481 L413.3 478.3 L422.4 477.6 L431.4 478.3 L440.5 479.7 L446.8 481 L446.8 531.7 L398 531.7 L393.4 526.3 L392.3 512.7Z" fill="#da96d6" filter="url(#fInsC)"/><path d="M408 503.5 L420 503.5 L419 505.5 L408 505Z M419 507 L421 508 L413 525 L411 524Z M431.5 493 C434 493 437 496 438 499 C436 499 433 497 431.5 493Z" fill="#fff"/><rect x="434.2" y="528" width="9.5" height="1.4" fill="#111"/><rect x="601.4" y="475.8" width="56.3" height="55.9" fill="#fff"/><path d="M602.1 491.5 L611.6 491 L625.1 491 L638.7 491.9 L646.9 493.7 L653.2 497.3 L655.5 499.6 L648.7 501.9 L638.7 507.3 L629.7 510.9 L620.6 515.4 L611.6 520.9 L605.2 524.5 L602.1 526.3Z" fill="#c290d4" filter="url(#fIns)"/><path d="M602.5 528.5 L611 526 L609 529 L603 529.5Z" fill="#c396d6"/><circle cx="627.9" cy="500.8" r="4" fill="none" stroke="#9a7ccc" stroke-width="2"/><rect x="644.2" y="528" width="9.5" height="1.4" fill="#111"/><rect x="391.4" y="411.6" width="55.9" height="56.6" fill="none" stroke="#8a8a8a" stroke-width="0.8"/><rect x="601.2" y="411.8" width="56.1" height="55.9" fill="none" stroke="#8a8a8a" stroke-width="0.8"/><rect x="391.2" y="476.1" width="56.3" height="56.1" fill="none" stroke="#8a8a8a" stroke-width="0.8"/><rect x="601.4" y="475.8" width="56.3" height="55.9" fill="none" stroke="#8a8a8a" stroke-width="0.8"/><rect x="474.1" y="407.2" width="14.3" height="14.2" fill="none" stroke="#8a8a8a" stroke-width="0.8"/><rect x="530.2" y="445.9" width="14.3" height="14.8" fill="none" stroke="#8a8a8a" stroke-width="0.8"/><rect x="469" y="515.3" width="14.5" height="14.3" fill="none" stroke="#8a8a8a" stroke-width="0.8"/><rect x="568.4" y="503.5" width="12.3" height="11.8" fill="none" stroke="#8a8a8a" stroke-width="0.8"/><line x1="474.1" y1="407.2" x2="447.3" y2="411.6" stroke="#444" stroke-width="0.6"/><line x1="474.1" y1="421.4" x2="447.3" y2="468.2" stroke="#444" stroke-width="0.6"/><line x1="544.5" y1="445.9" x2="601.2" y2="411.8" stroke="#444" stroke-width="0.6"/><line x1="544.5" y1="460.7" x2="601.2" y2="467.7" stroke="#444" stroke-width="0.6"/><line x1="447.5" y1="476.1" x2="469" y2="515.3" stroke="#444" stroke-width="0.6"/><line x1="447.5" y1="532.2" x2="469" y2="529.6" stroke="#444" stroke-width="0.6"/><line x1="580.7" y1="503.5" x2="601.4" y2="475.8" stroke="#444" stroke-width="0.6"/><line x1="580.7" y1="515.3" x2="601.4" y2="531.7" stroke="#444" stroke-width="0.6"/><line x1="516.3" y1="426.5" x2="514.2" y2="430.4" stroke="#444" stroke-width="0.5"/><polygon points="513.2,432.1 516.1,430 513.4,428.6" fill="#000"/><line x1="501.5" y1="438.2" x2="505" y2="440.6" stroke="#444" stroke-width="0.5"/><polygon points="506.6,441.8 504.9,438.7 503.1,441.2" fill="#000"/><line x1="501.5" y1="471.4" x2="503.6" y2="467.5" stroke="#444" stroke-width="0.5"/><polygon points="504.6,465.8 501.7,467.9 504.4,469.3" fill="#000"/><line x1="543.4" y1="484.1" x2="545.5" y2="487.5" stroke="#444" stroke-width="0.5"/><polygon points="546.5,489.2 546.1,485.7 543.6,487.2" fill="#000"/><line x1="551.6" y1="533.7" x2="553.3" y2="529.9" stroke="#444" stroke-width="0.5"/><polygon points="554.1,528.1 551.4,530.4 554.2,531.6" fill="#000"/><rect x="512.2" y="467" width="2.5" height="1" fill="#111"/><rect x="576.2" y="467" width="2.5" height="1" fill="#111"/><rect x="511.6" y="533.6" width="2.5" height="1" fill="#111"/><rect x="576.1" y="533.8" width="2.5" height="1" fill="#111"/>
<text x="485" y="402.9" font-size="8.3" text-anchor="middle" fill="#1a1a1a">MKN45-mock</text>
<text x="531" y="402.9" font-size="8.3" text-anchor="start" fill="#1a1a1a">MKN45-NDUFS1</text>
<text x="486" y="481.8" font-size="8.3" text-anchor="middle" fill="#1a1a1a">N87-shcontrol</text>
<text x="530.6" y="481.8" font-size="8.3" text-anchor="start" fill="#1a1a1a">N87-shNDUFS1</text>
<path d="M47.8 710.8 V581.1 H63.8 V710.8" fill="white" stroke="#4f3fae" stroke-width="1.4"/>
<path d="M77.1 710.8 V620.22 H93.1 V710.8" fill="white" stroke="#e8413a" stroke-width="1.4"/>
<line x1="85.1" y1="619.52" x2="85.1" y2="609.74" stroke="#e8413a" stroke-width="1.4"/>
<line x1="80.05" y1="609.74" x2="90.15" y2="609.74" stroke="#e8413a" stroke-width="1.4"/>
<path d="M85.1 604.64L85.1 602.09M85.1 604.64L87.53 603.85M85.1 604.64L86.6 606.7M85.1 604.64L83.6 606.7M85.1 604.64L82.67 603.85" stroke="#111" stroke-width="1.25" stroke-linecap="round" fill="none"/>
<line x1="34" y1="579.7" x2="34" y2="711.5" stroke="#222" stroke-width="1.5"/>
<line x1="30.4" y1="710.8" x2="34" y2="710.8" stroke="#222" stroke-width="1.4"/>
<text x="28.6" y="713.7" font-size="8.5" text-anchor="end" fill="#1a1a1a">0.0</text>
<line x1="30.4" y1="684.72" x2="34" y2="684.72" stroke="#222" stroke-width="1.4"/>
<text x="28.6" y="687.62" font-size="8.5" text-anchor="end" fill="#1a1a1a">0.2</text>
<line x1="30.4" y1="658.64" x2="34" y2="658.64" stroke="#222" stroke-width="1.4"/>
<text x="28.6" y="661.54" font-size="8.5" text-anchor="end" fill="#1a1a1a">0.4</text>
<line x1="30.4" y1="632.56" x2="34" y2="632.56" stroke="#222" stroke-width="1.4"/>
<text x="28.6" y="635.46" font-size="8.5" text-anchor="end" fill="#1a1a1a">0.6</text>
<line x1="30.4" y1="606.48" x2="34" y2="606.48" stroke="#222" stroke-width="1.4"/>
<text x="28.6" y="609.38" font-size="8.5" text-anchor="end" fill="#1a1a1a">0.8</text>
<line x1="30.4" y1="580.4" x2="34" y2="580.4" stroke="#222" stroke-width="1.4"/>
<text x="28.6" y="583.3" font-size="8.5" text-anchor="end" fill="#1a1a1a">1.0</text>
<line x1="33.3" y1="710.8" x2="101.7" y2="710.8" stroke="#222" stroke-width="1.5"/>
<text x="57.8" y="721.3" font-size="8.5" text-anchor="end" font-style="italic" fill="#1a1a1a" transform="rotate(-22 57.8 721.3)">MKN45-mock</text>
<text x="89.1" y="721.3" font-size="8.5" text-anchor="end" font-style="italic" fill="#1a1a1a" transform="rotate(-22 89.1 721.3)">MKN45-NDUFS1</text>
<text x="160.05" y="721.3" font-size="8.5" text-anchor="end" font-style="italic" fill="#1a1a1a" transform="rotate(-22 160.05 721.3)">N87-shcontrol</text>
<text x="191.65" y="721.3" font-size="8.5" text-anchor="end" font-style="italic" fill="#1a1a1a" transform="rotate(-22 191.65 721.3)">N87-shNDUFS1</text>
<text x="269.4" y="721.3" font-size="8.5" text-anchor="end" font-style="italic" fill="#1a1a1a" transform="rotate(-22 269.4 721.3)">MKN45-mock</text>
<text x="300.9" y="721.3" font-size="8.5" text-anchor="end" font-style="italic" fill="#1a1a1a" transform="rotate(-22 300.9 721.3)">MKN45-NDUFS1</text>
<text x="369" y="721.3" font-size="8.5" text-anchor="end" font-style="italic" fill="#1a1a1a" transform="rotate(-22 369 721.3)">N87-shcontrol</text>
<text x="400.25" y="721.3" font-size="8.5" text-anchor="end" font-style="italic" fill="#1a1a1a" transform="rotate(-22 400.25 721.3)">N87-shNDUFS1</text>
<text x="483.05" y="721.3" font-size="8.5" text-anchor="end" font-style="italic" fill="#1a1a1a" transform="rotate(-22 483.05 721.3)">MKN45-mock</text>
<text x="518.9" y="721.3" font-size="8.5" text-anchor="end" font-style="italic" fill="#1a1a1a" transform="rotate(-22 518.9 721.3)">MKN45-NDUFS1</text>
<text x="589.9" y="721.3" font-size="8.5" text-anchor="end" font-style="italic" fill="#1a1a1a" transform="rotate(-22 589.9 721.3)">N87-shcontrol</text>
<text x="625.25" y="721.3" font-size="8.5" text-anchor="end" font-style="italic" fill="#1a1a1a" transform="rotate(-22 625.25 721.3)">N87-shNDUFS1</text>
<text x="6.5" y="645" font-size="8.25" text-anchor="middle" font-weight="bold" fill="#1a1a1a" transform="rotate(-90 6.5 645)">Relative migratory ability</text>
<path d="M150.4 710.8 V668.03 H165.7 V710.8" fill="white" stroke="#4f3fae" stroke-width="1.4"/>
<path d="M179.8 710.8 V607.18 H195.5 V710.8" fill="white" stroke="#e8413a" stroke-width="1.4"/>
<line x1="187.65" y1="606.48" x2="187.65" y2="596.48" stroke="#e8413a" stroke-width="1.4"/>
<line x1="182.69" y1="596.48" x2="192.61" y2="596.48" stroke="#e8413a" stroke-width="1.4"/>
<path d="M187.65 591.38L187.65 588.83M187.65 591.38L190.08 590.59M187.65 591.38L189.15 593.45M187.65 591.38L186.15 593.45M187.65 591.38L185.22 590.59" stroke="#111" stroke-width="1.25" stroke-linecap="round" fill="none"/>
<line x1="136.3" y1="579.7" x2="136.3" y2="711.5" stroke="#222" stroke-width="1.5"/>
<line x1="132.7" y1="710.8" x2="136.3" y2="710.8" stroke="#222" stroke-width="1.4"/>
<text x="130.3" y="713.7" font-size="8.5" text-anchor="end" fill="#1a1a1a">0</text>
<line x1="132.7" y1="667.33" x2="136.3" y2="667.33" stroke="#222" stroke-width="1.4"/>
<text x="130.3" y="670.23" font-size="8.5" text-anchor="end" fill="#1a1a1a">1</text>
<line x1="132.7" y1="623.87" x2="136.3" y2="623.87" stroke="#222" stroke-width="1.4"/>
<text x="130.3" y="626.77" font-size="8.5" text-anchor="end" fill="#1a1a1a">2</text>
<line x1="132.7" y1="580.4" x2="136.3" y2="580.4" stroke="#222" stroke-width="1.4"/>
<text x="130.3" y="583.3" font-size="8.5" text-anchor="end" fill="#1a1a1a">3</text>
<line x1="135.6" y1="710.8" x2="203.8" y2="710.8" stroke="#222" stroke-width="1.5"/>
<path d="M260 710.8 V581.1 H274.8 V710.8" fill="white" stroke="#4f3fae" stroke-width="1.4"/>
<path d="M289.2 710.8 V646.3 H304.6 V710.8" fill="white" stroke="#e8413a" stroke-width="1.4"/>
<line x1="296.9" y1="645.6" x2="296.9" y2="638.69" stroke="#e8413a" stroke-width="1.4"/>
<line x1="292.03" y1="638.69" x2="301.77" y2="638.69" stroke="#e8413a" stroke-width="1.4"/>
<path d="M296.9 633.59L296.9 631.04M296.9 633.59L299.33 632.8M296.9 633.59L298.4 635.65M296.9 633.59L295.4 635.65M296.9 633.59L294.47 632.8" stroke="#111" stroke-width="1.25" stroke-linecap="round" fill="none"/>
<line x1="247" y1="579.7" x2="247" y2="711.5" stroke="#222" stroke-width="1.5"/>
<line x1="243.4" y1="710.8" x2="247" y2="710.8" stroke="#222" stroke-width="1.4"/>
<text x="239.6" y="713.7" font-size="8.5" text-anchor="end" fill="#1a1a1a">0.0</text>
<line x1="243.4" y1="684.72" x2="247" y2="684.72" stroke="#222" stroke-width="1.4"/>
<text x="239.6" y="687.62" font-size="8.5" text-anchor="end" fill="#1a1a1a">0.2</text>
<line x1="243.4" y1="658.64" x2="247" y2="658.64" stroke="#222" stroke-width="1.4"/>
<text x="239.6" y="661.54" font-size="8.5" text-anchor="end" fill="#1a1a1a">0.4</text>
<line x1="243.4" y1="632.56" x2="247" y2="632.56" stroke="#222" stroke-width="1.4"/>
<text x="239.6" y="635.46" font-size="8.5" text-anchor="end" fill="#1a1a1a">0.6</text>
<line x1="243.4" y1="606.48" x2="247" y2="606.48" stroke="#222" stroke-width="1.4"/>
<text x="239.6" y="609.38" font-size="8.5" text-anchor="end" fill="#1a1a1a">0.8</text>
<line x1="243.4" y1="580.4" x2="247" y2="580.4" stroke="#222" stroke-width="1.4"/>
<text x="239.6" y="583.3" font-size="8.5" text-anchor="end" fill="#1a1a1a">1.0</text>
<line x1="246.3" y1="710.8" x2="312.2" y2="710.8" stroke="#222" stroke-width="1.5"/>
<text x="218.5" y="645.8" font-size="8.35" text-anchor="middle" font-weight="bold" fill="#1a1a1a" transform="rotate(-90 218.5 645.8)">Relative invasive ability</text>
<path d="M359.4 710.8 V668.03 H374.6 V710.8" fill="white" stroke="#4f3fae" stroke-width="1.4"/>
<path d="M388.7 710.8 V607.18 H403.8 V710.8" fill="white" stroke="#e8413a" stroke-width="1.4"/>
<line x1="396.25" y1="606.48" x2="396.25" y2="595.61" stroke="#e8413a" stroke-width="1.4"/>
<line x1="391.46" y1="595.61" x2="401.04" y2="595.61" stroke="#e8413a" stroke-width="1.4"/>
<path d="M396.25 590.51L396.25 587.96M396.25 590.51L398.68 589.73M396.25 590.51L397.75 592.58M396.25 590.51L394.75 592.58M396.25 590.51L393.82 589.73" stroke="#111" stroke-width="1.25" stroke-linecap="round" fill="none"/>
<line x1="344.7" y1="579.7" x2="344.7" y2="711.5" stroke="#222" stroke-width="1.5"/>
<line x1="341.1" y1="710.8" x2="344.7" y2="710.8" stroke="#222" stroke-width="1.4"/>
<text x="337.8" y="713.7" font-size="8.5" text-anchor="end" fill="#1a1a1a">0</text>
<line x1="341.1" y1="667.33" x2="344.7" y2="667.33" stroke="#222" stroke-width="1.4"/>
<text x="337.8" y="670.23" font-size="8.5" text-anchor="end" fill="#1a1a1a">1</text>
<line x1="341.1" y1="623.87" x2="344.7" y2="623.87" stroke="#222" stroke-width="1.4"/>
<text x="337.8" y="626.77" font-size="8.5" text-anchor="end" fill="#1a1a1a">2</text>
<line x1="341.1" y1="580.4" x2="344.7" y2="580.4" stroke="#222" stroke-width="1.4"/>
<text x="337.8" y="583.3" font-size="8.5" text-anchor="end" fill="#1a1a1a">3</text>
<line x1="344" y1="710.8" x2="412.2" y2="710.8" stroke="#222" stroke-width="1.5"/>
<path d="M472.5 710.8 V617 H489.6 V710.8" fill="white" stroke="#4f3fae" stroke-width="1.4"/>
<line x1="481.05" y1="616.3" x2="481.05" y2="599.42" stroke="#4f3fae" stroke-width="1.4"/>
<line x1="475.69" y1="599.42" x2="486.42" y2="599.42" stroke="#4f3fae" stroke-width="1.4"/>
<path d="M506.3 710.8 V680 H523.5 V710.8" fill="white" stroke="#e8413a" stroke-width="1.4"/>
<line x1="514.9" y1="679.3" x2="514.9" y2="668.5" stroke="#e8413a" stroke-width="1.4"/>
<line x1="509.51" y1="668.5" x2="520.29" y2="668.5" stroke="#e8413a" stroke-width="1.4"/>
<path d="M514.9 663.4L514.9 660.85M514.9 663.4L517.33 662.61M514.9 663.4L516.4 665.46M514.9 663.4L513.4 665.46M514.9 663.4L512.47 662.61" stroke="#111" stroke-width="1.25" stroke-linecap="round" fill="none"/>
<line x1="456.5" y1="575.1" x2="456.5" y2="711.5" stroke="#222" stroke-width="1.5"/>
<line x1="452.9" y1="710.8" x2="456.5" y2="710.8" stroke="#222" stroke-width="1.4"/>
<text x="449.8" y="713.7" font-size="8.5" text-anchor="end" fill="#1a1a1a">0</text>
<line x1="452.9" y1="665.8" x2="456.5" y2="665.8" stroke="#222" stroke-width="1.4"/>
<text x="449.8" y="668.7" font-size="8.5" text-anchor="end" fill="#1a1a1a">2</text>
<line x1="452.9" y1="620.8" x2="456.5" y2="620.8" stroke="#222" stroke-width="1.4"/>
<text x="449.8" y="623.7" font-size="8.5" text-anchor="end" fill="#1a1a1a">4</text>
<line x1="452.9" y1="575.8" x2="456.5" y2="575.8" stroke="#222" stroke-width="1.4"/>
<text x="449.8" y="578.7" font-size="8.5" text-anchor="end" fill="#1a1a1a">6</text>
<line x1="455.8" y1="710.8" x2="531.8" y2="710.8" stroke="#222" stroke-width="1.5"/>
<text x="427.5" y="642.7" font-size="8.3" text-anchor="middle" font-weight="bold" fill="#1a1a1a" transform="rotate(-90 427.5 642.7)">Number of lung</text>
<text x="437.5" y="642.7" font-size="8.3" text-anchor="middle" font-weight="bold" fill="#1a1a1a" transform="rotate(-90 437.5 642.7)">micrometastasis</text>
<path d="M579.3 710.8 V689 H596.5 V710.8" fill="white" stroke="#4f3fae" stroke-width="1.4"/>
<line x1="587.9" y1="688.3" x2="587.9" y2="674.12" stroke="#4f3fae" stroke-width="1.4"/>
<line x1="582.51" y1="674.12" x2="593.29" y2="674.12" stroke="#4f3fae" stroke-width="1.4"/>
<path d="M612.4 710.8 V630.5 H630.1 V710.8" fill="white" stroke="#e8413a" stroke-width="1.4"/>
<line x1="621.25" y1="629.8" x2="621.25" y2="611.35" stroke="#e8413a" stroke-width="1.4"/>
<line x1="615.71" y1="611.35" x2="626.79" y2="611.35" stroke="#e8413a" stroke-width="1.4"/>
<path d="M621.25 606.25L621.25 603.7M621.25 606.25L623.68 605.46M621.25 606.25L622.75 608.31M621.25 606.25L619.75 608.31M621.25 606.25L618.82 605.46" stroke="#111" stroke-width="1.25" stroke-linecap="round" fill="none"/>
<line x1="563.3" y1="575.1" x2="563.3" y2="711.5" stroke="#222" stroke-width="1.5"/>
<line x1="559.7" y1="710.8" x2="563.3" y2="710.8" stroke="#222" stroke-width="1.4"/>
<text x="556.4" y="713.7" font-size="8.5" text-anchor="end" fill="#1a1a1a">0</text>
<line x1="559.7" y1="665.8" x2="563.3" y2="665.8" stroke="#222" stroke-width="1.4"/>
<text x="556.4" y="668.7" font-size="8.5" text-anchor="end" fill="#1a1a1a">2</text>
<line x1="559.7" y1="620.8" x2="563.3" y2="620.8" stroke="#222" stroke-width="1.4"/>
<text x="556.4" y="623.7" font-size="8.5" text-anchor="end" fill="#1a1a1a">4</text>
<line x1="559.7" y1="575.8" x2="563.3" y2="575.8" stroke="#222" stroke-width="1.4"/>
<text x="556.4" y="578.7" font-size="8.5" text-anchor="end" fill="#1a1a1a">6</text>
<line x1="562.6" y1="710.8" x2="639.7" y2="710.8" stroke="#222" stroke-width="1.5"/>
</svg>
</body></html>
